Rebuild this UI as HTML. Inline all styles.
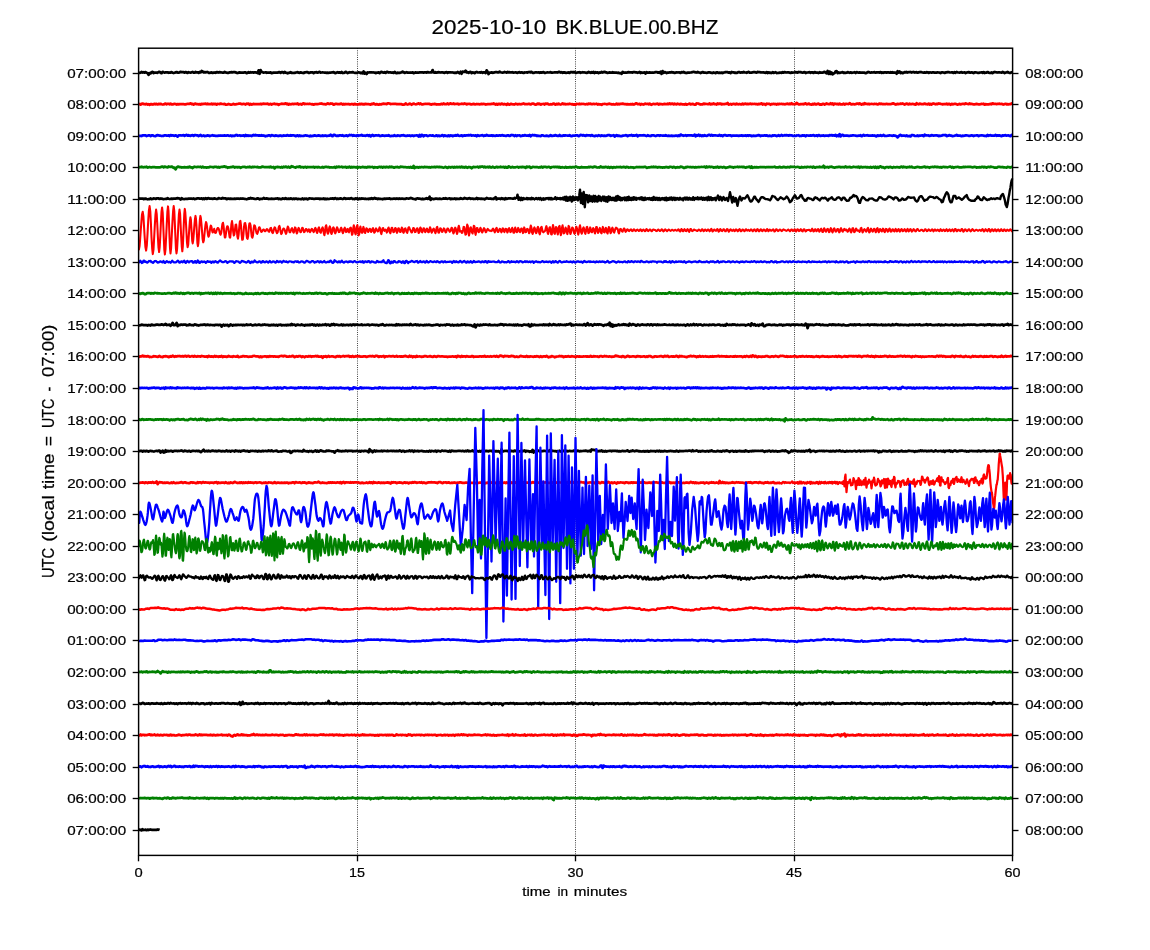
<!DOCTYPE html>
<html><head><meta charset="utf-8"><title>2025-10-10 BK.BLUE.00.BHZ</title>
<style>html,body{margin:0;padding:0;background:#fff;}body{width:1150px;height:950px;overflow:hidden;position:relative;font-family:"Liberation Sans",sans-serif;}</style>
</head><body>
<svg width="1150" height="950" viewBox="0 0 1150 950" style="position:absolute;left:0;top:0;display:block;will-change:transform">
<line x1="357.5" y1="48.2" x2="357.5" y2="855.4" stroke="#000" stroke-width="0.85" stroke-dasharray="0.85 1.35"/>
<line x1="575.5" y1="48.2" x2="575.5" y2="855.4" stroke="#000" stroke-width="0.85" stroke-dasharray="0.85 1.35"/>
<line x1="794.5" y1="48.2" x2="794.5" y2="855.4" stroke="#000" stroke-width="0.85" stroke-dasharray="0.85 1.35"/>
<clipPath id="c"><rect x="138.3" y="48.2" width="874.9" height="807.2"/></clipPath>
<g clip-path="url(#c)">
<path d="M138.6 72.7l1 .1 1-.2 1-.6 1 .5 1-.3 1 .4 1-.5 1 .7 1 .3 1 1.8 1-1.7 1 .2 1-1.2 1-.4 1 1.2 1-.4 1 .1 1-.1 1 .2 1-.8 1 0 1 .7 1 .5 1-1.3 1 .4 1 .3 1-.3 1 .1 1 0 1 .4 1-.3 1 .1 1-.5 1 .6 1 .3 1-.3 1-.3 1-.3 1 .5 1 0 1-.2 1-.6 1 .4 1-.1 1 .1 1 .4 1-.5 1 .3 1 .5 1-.7 1 .3 1 .2 1-.4 1-.3 1 .6 1 .1 1-.8 1 .5 1-.1 1 .6 1-.9 1 .4 1-1.4 1 .5 1 .9 1-.3 1 .3 1-.2 1-.2 1 .8 1 .1 1-.4 1-.1 1 .5 1-.3 1-.1 1 .3 1-.6 1 0 1 .3 1-.4 1 .4 1 0 1 .1 1 0 1-.6 1 .4 1 .2 1 .2 1 0 1-.4 1 0 1-.3 1 .2 1-.1 1-.1 1 .3 1 .4 1 .2 1-.4 1-.2 1 .2 1 .1 1-.1 1 0 1-.2 1 0 1 .8 1-.4 1-.6 1 .5 1-.5 1 .3 1-.2 1 .3 1-.3 1 .1 1 .2 1 .5 1-2.7 1 3.4 1-3.7 1 1.9 1 .3 1 .3 1-.1 1-.2 1 .5 1-.3 1 0 1 .2 1-.4 1 .9 1-.3 1-.4 1 0 1 0 1 .2 1-.1 1-.4 1 0 1 .6 1-.7 1 .1 1 .7 1-.9 1 .7 1 .1 1 .5 1-.4 1-.3 1-.4 1 .7 1 0 1 .1 1 0 1-.5 1-.1 1-.2 1 .4 1 .2 1-.5 1 .3 1 .2 1 .2 1-.7 1 .1 1-.2 1 0 1 .6 1 0 1-.4 1 0 1-.1 1 .8 1-.8 1 .1 1-.2 1 .5 1-.4 1-.4 1 .7 1-.1 1-.1 1 .1 1 .1 1 0 1 .3 1-.2 1 .1 1-.1 1 0 1-.2 1 0 1-.4 1 .8 1 .2 1-.6 1-.3 1 .4 1-.2 1 .4 1-.8 1 1 1-.1 1-.3 1-.8 1 .6 1 .6 1-.4 1-.4 1 .3 1 0 1-.4 1 .4 1 .3 1 0 1 0 1-.2 1-.3 1 .2 1 .6 1-.4 1 .5 1-1.7 1 2.1 1-.9 1 1.3 1-1.6 1 .1 1-.1 1-.1 1 .1 1 .1 1 0 1 .1 1 .5 1-.4 1 0 1-.4 1 .8 1-.8 1-.5 1 .7 1 .1 1-.4 1 .7 1-.9 1 0 1 .5 1-.1 1 0 1 .3 1-.2 1 .4 1-.9 1 .7 1 .5 1-.6 1 .2 1 .1 1-.4 1-.1 1-.7 1 .6 1 .6 1-.4 1-.3 1 .4 1 0 1 .1 1-.2 1 .2 1-.4 1 .8 1-.4 1-.3 1 .3 1-.2 1 .1 1-.2 1 0 1 0 1 0 1 .2 1-.3 1 0 1 .3 1-.5 1 .3 1 .1 1 0 1-.1 1-2.3 1 2.4 1 .2 1-.5 1 .5 1-.3 1-.2 1 .1 1 .2 1-.2 1 0 1 .4 1 .2 1-.6 1-.1 1 .7 1-.6 1 0 1 .1 1 .1 1 0 1 .1 1 .3 1-.2 1 .1 1-.8 1 .6 1 .6 1-1.4 1 1.9 1-2 1 .2 1-.1 1-1 1 1.6 1-.2 1 .6 1-.7 1-.2 1 1.2 1-.7 1 .1 1 .7 1-.9 1-.3 1 .4 1 .1 1-.1 1 .2 1-.5 1 .7 1-.4 1 0 1 .6 1-2.6 1 1.4 1 2.3 1-1.5 1 .1 1-.3 1 .4 1-.1 1-.4 1-.1 1 0 1 .2 1-.1 1-.7 1 .6 1 .3 1 .2 1-.2 1-.5 1 .3 1 .3 1-.6 1 .4 1-.2 1 .3 1 0 1-.3 1 .5 1-.2 1-.2 1 .3 1 .2 1-.5 1-.1 1 .5 1-.4 1 .3 1 .3 1-.5 1 .1 1-.1 1 .2 1-.5 1-.1 1 .4 1-.6 1 1.1 1 0 1-.4 1-.2 1 0 1 .2 1-.1 1 .4 1-.5 1 .4 1-.3 1-.3 1 .7 1 0 1-.3 1-.1 1 .1 1-.1 1-.2 1 .4 1 0 1-.1 1-.1 1-.1 1 0 1 .2 1-.5 1 0 1 .5 1-.3 1 .6 1-.4 1 0 1 .4 1 0 1-.3 1-.1 1 .5 1-.7 1-.1 1 .3 1-.3 1 .1 1 .5 1 .1 1-.3 1 0 1-.3 1 .6 1-.3 1-.3 1 .3 1 0 1 .2 1 .2 1-.3 1-.6 1 .4 1 .4 1-.7 1 .6 1-.8 1 1.1 1-.8 1 .5 1-.4 1 .8 1-.6 1 .2 1-.7 1 .5 1-.4 1-.3 1 .6 1 0 1 .5 1-.2 1-.3 1 .2 1 .1 1-.5 1 .4 1-.1 1 .2 1 0 1 .1 1-.1 1 .5 1-.1 1 .6 1-1.7 1 .4 1 .3 1-.2 1 .2 1-.3 1-.3 1 .2 1 0 1 .1 1 .2 1-.5 1 .1 1 .2 1 0 1 .4 1-.3 1-.5 1 1 1-.5 1 .3 1-.3 1-.2 1 1.2 1-1.4 1 .6 1-.1 1-.2 1 .3 1 0 1-.2 1 .1 1-.2 1-.3 1 0 1 .5 1-.2 1 .4 1-1.1 1 2.1 1-2.7 1 1.8 1-.8 1 .3 1 .6 1-.4 1 0 1-.2 1 .1 1-.4 1 .4 1-.1 1 .5 1-.3 1-.2 1 .1 1 0 1-.1 1 .5 1-.7 1 .2 1-.5 1 .5 1 .5 1 .1 1-.4 1-.1 1 .1 1-.1 1-.1 1-.4 1-.1 1 .2 1 .3 1 .1 1-.5 1 .4 1 .1 1 .5 1-.5 1-.4 1 .5 1-.1 1 .2 1 .1 1-.2 1-.2 1 0 1 .2 1 .2 1 .2 1-.5 1 .3 1 .3 1-.8 1 .1 1 .5 1-.2 1 .1 1-.2 1 .5 1-.6 1-.1 1-.3 1 0 1 .1 1 .4 1-.2 1 .7 1-1.1 1 .3 1 .1 1 .4 1-.2 1 .3 1-.3 1-.5 1 .1 1 .5 1-.4 1 .2 1-.5 1 .4 1 .1 1 .3 1-.6 1-.3 1 .7 1 0 1 0 1-.3 1-.2 1 0 1 .3 1 .2 1-.7 1 .3 1-.1 1 .2 1 .2 1 0 1-.1 1 .3 1 .1 1-.7 1 .9 1-.6 1 .4 1-.1 1 .3 1-.8 1 .7 1-.4 1-.3 1 .9 1-.1 1 0 1-.4 1 .1 1 .1 1-.6 1 .4 1-.5 1 .2 1 .2 1-.1 1 0 1 .2 1 .3 1-.5 1 .3 1-.2 1-.1 1-.2 1 .2 1 .3 1-.7 1 .1 1 0 1 .4 1 .2 1-.3 1-.3 1 .9 1-.4 1-.1 1-.2 1-.1 1 .6 1-.5 1 .1 1 .5 1-.8 1 .5 1-.1 1 .1 1 .4 1-.8 1 .4 1 0 1 .1 1-.6 1-.2 1 .8 1 .5 1-2.2 1 2.9 1-2.3 1 2.3 1-1.4 1 1.7 1-.6 1-.5 1-1.8 1-.1 1 1.9 1-.7 1 .5 1-.3 1-.1 1-.4 1 .7 1-.2 1 .2 1-.1 1-.6 1 .4 1 .3 1-.5 1 .5 1-.1 1-.2 1-.3 1 .9 1-1 1 .4 1 .1 1-.2 1 .2 1 0 1-.1 1 .1 1 0 1 .6 1-.3 1-.7 1-.2 1 .5 1 .2 1-.3 1 .1 1-.2 1-.1 1 .5 1-.3 1 0 1-.1 1 .3 1-.5 1 .8 1-.4 1 .3 1-.5 1 .1 1 .3 1-.4 1 .1 1 .3 1-.5 1 .4 1-.4 1 .5 1-.2 1 .1 1 1.1 1-2.5 1 1.3 1-1.1 1 1.6 1-.5 1 .7 1-.5 1-.6 1 .3 1-.4 1 .5 1-.3 1-.1 1-.1 1 .5 1-.3 1-.2 1 .5 1-.2 1-.2 1 .6 1-.3 1-.2 1-.2 1 .2 1 .3 1 .2 1-.3 1 .3 1-.5 1 .1 1 .6 1-.4 1 0 1 .1 1-.2 1 0 1 .3 1 0 1-.1 1-.3 1 .2 1 .1 1 .4 1-.6 1 0 1 .1 1 .4 1-.5 1 0 1-.3 1 .1 1 .2 1 .1 1-.1 1 0 1 .5 1-.7 1 .6 1-.8 1 .3 1 .2 1 .1 1-.3 1-.2 1 .6 1-.2 1-.2 1 .7 1-.5 1-.2 1-.2 1 .5 1 0 1-.3 1 .3 1 .4 1-.6 1-.1 1 .2 1 .3 1 .1 1-.3 1-.1 1-.2 1 .6 1-.8 1 .9 1-.3 1-.1 1-.5 1 .5 1 .2 1 .1 1-.5 1 .6 1-.6 1-.4 1 .2 1 .1 1 .2 1-.2 1 .1 1 .1 1 .1 1-.6 1 .4 1 .6 1-.5 1-.1 1-.4 1 .5 1 .4 1 0 1-.6 1-.2" fill="none" stroke="#000000" stroke-width="2.75" stroke-linejoin="round"/>
<path d="M138.6 103.9l1 .1 1 .7 1-.8 1-.3 1 .5 1 0 1 .2 1-.4 1 .6 1-.3 1 .6 1-.6 1-.1 1 .4 1-.2 1-.5 1 .5 1-.4 1 .5 1-.5 1 .3 1-.4 1 .4 1 .3 1-.1 1-.5 1-.3 1 .7 1-.5 1 0 1 .5 1-.6 1 .6 1 .1 1-.3 1-.3 1 .2 1 .5 1-.4 1 .3 1-.3 1 0 1 0 1 0 1 .1 1 .1 1 .1 1-.4 1-.2 1 .1 1-.1 1-.4 1 .7 1-.3 1 .8 1-.7 1-.3 1 .6 1-.1 1 .2 1-.2 1 .5 1-.8 1 .3 1-.2 1 0 1-.3 1 .6 1-.6 1 .6 1 0 1 0 1-.6 1 .7 1-.5 1 .4 1-.3 1 .8 1-.8 1 .1 1 .1 1-.5 1 .3 1 .1 1 .1 1-.2 1 .7 1 0 1-.2 1-.4 1 .3 1 .4 1-.1 1-.3 1-.4 1 .5 1-.1 1-.2 1-.1 1-.3 1-.1 1 .1 1 .4 1 0 1-.3 1 .2 1 .5 1-.8 1 .2 1-.2 1 1 1-.8 1 .6 1-.2 1-.4 1 .3 1-.1 1 .1 1-.1 1 .1 1 0 1-.4 1 .5 1-.5 1-.1 1 .2 1-.1 1 .1 1-.2 1 .6 1 0 1-.4 1 .6 1-.5 1-.2 1-.1 1 .5 1-.2 1 .1 1 .8 1-.6 1-.3 1-.3 1 .2 1-.1 1 .1 1-.6 1 .8 1-.4 1 1 1-.7 1 .3 1-.1 1-.4 1 .3 1-.2 1 0 1 .1 1-.5 1 1 1-.3 1-.2 1 .5 1-.7 1-.5 1 .8 1-.3 1 .2 1-.1 1 .1 1-.3 1 .3 1 .3 1-.1 1 .4 1-.4 1 0 1-.1 1 .1 1-.2 1-.3 1 0 1-.2 1 .5 1 .1 1 .1 1 .2 1-.5 1-.5 1 .4 1 .2 1-.5 1 .2 1 0 1 1 1-.3 1-.6 1 .1 1 .2 1 0 1 0 1-.4 1 0 1 .8 1-.5 1 .4 1-.4 1 .1 1 0 1-.1 1 .4 1-.1 1-.3 1 .1 1 .4 1-.7 1 .5 1 .1 1 .1 1 0 1-.7 1 .5 1-.4 1 .4 1-.2 1 .2 1-.5 1 .3 1 .1 1 0 1 .1 1 .3 1-.8 1 .3 1-.6 1 .7 1 .3 1-.4 1 .3 1 .3 1-.5 1 .1 1 0 1-.5 1-.1 1 .2 1-.1 1 .4 1-.8 1 0 1 .1 1 .6 1-.1 1 0 1-.1 1 0 1-.1 1 .3 1-.1 1 .1 1-.1 1 .1 1 0 1 .6 1 0 1-.3 1-.9 1 .7 1 .3 1-.3 1-.6 1 .4 1 .8 1-.8 1-.4 1 .4 1 .3 1-.2 1-.4 1-.3 1 .7 1-.6 1 .8 1 .1 1-.2 1-.2 1 0 1 0 1-.2 1 0 1 0 1 .7 1 .1 1-.5 1 .1 1-.3 1 .2 1 .4 1-.1 1 0 1-.1 1 0 1-.5 1 .5 1-.8 1 .6 1 .1 1 0 1-.7 1 .8 1-.6 1-.4 1 .7 1 0 1-.5 1 .6 1-.1 1 0 1-.3 1 .6 1-.2 1-.1 1-.3 1 .1 1 .2 1-.5 1 .3 1 .6 1-.4 1 0 1-.1 1 .4 1 0 1-.2 1-.2 1 .4 1 0 1-.3 1 .2 1 0 1 .1 1-.2 1-.2 1 .2 1-.2 1 .1 1 .5 1-.2 1-.2 1 .1 1 0 1 0 1-.3 1 0 1-.5 1 .7 1 .5 1-.8 1 .7 1-.7 1 .1 1 .5 1-.7 1 .2 1 .5 1-.4 1 .3 1 .5 1-1.1 1 .7 1 .2 1-.6 1 0 1 .3 1 0 1 .2 1-.8 1 .3 1 .4 1-.2 1-.2 1 .3 1-.1 1-.4 1-.3 1 .6 1-.1 1 .1 1 .1 1-.4 1 .1 1 .5 1-.5 1-.2 1 0 1 .5 1 .5 1-.3 1-.8 1 .5 1-.4 1 .9 1-.4 1-.2 1-.1 1 .6 1-.9 1 .3 1-.2 1 .7 1 .1 1-.3 1 .2 1-.3 1-.5 1 .5 1 .6 1-.8 1 .4 1-.7 1 .6 1 .3 1-.3 1-.7 1 .6 1-.3 1 .5 1-.1 1-.2 1 .1 1-.4 1 .3 1 .3 1-.1 1 .4 1-.3 1 .5 1-1 1 .2 1 .1 1-.4 1 .5 1-.3 1 .1 1 0 1 .2 1 .1 1-.3 1 .3 1-.7 1 .2 1-.1 1 .5 1-.1 1-.3 1 .3 1-.1 1-.3 1 .8 1-.4 1 .2 1 .1 1 .4 1-.7 1-.1 1-.1 1 .1 1 .3 1-.2 1-.2 1-.2 1 .3 1 .4 1-.1 1-.1 1 .3 1-.1 1-.7 1 .7 1-.5 1 .4 1-.5 1 .1 1-.3 1 .3 1 .3 1-.1 1 .3 1-.3 1 .2 1 0 1-.1 1 .2 1-.4 1 .5 1-.1 1-1 1 0 1 .8 1 0 1-.4 1 1 1-.8 1 .3 1 .2 1-.6 1-.2 1 .3 1-.2 1 .5 1-.7 1 .8 1 .4 1-.8 1-.1 1 .3 1-.1 1-.3 1-.2 1 1 1-.8 1 .3 1 .1 1 .1 1-.1 1-.4 1 .4 1 0 1-.5 1 .5 1-.7 1 .6 1-.4 1 0 1 .6 1-.7 1 .6 1 .1 1-.6 1 .3 1 .4 1-.5 1 .2 1 .2 1 0 1 .2 1-.6 1 .8 1-.4 1-.3 1-.4 1 .7 1-.2 1-.2 1 .4 1 .4 1 0 1-1.3 1 .1 1 .2 1 .4 1 .4 1-.1 1 0 1-.8 1 .5 1-.3 1 .2 1 .1 1 .1 1-.7 1 .9 1-.5 1 .3 1-.7 1 .6 1 0 1 .5 1-1.1 1 .5 1-.4 1 0 1 .8 1-.4 1 .1 1 0 1-.3 1 0 1-.9 1 1.8 1-.4 1-.3 1 .6 1-.5 1-.3 1 .4 1 .1 1-.6 1 .5 1 .1 1-.3 1 .3 1 .1 1-.8 1 .7 1-.4 1-.2 1 .4 1-.2 1 .2 1-.2 1-.2 1 .4 1-.2 1 .1 1-.2 1 .3 1-.1 1 .4 1-.5 1 .3 1-.4 1-.4 1 1.1 1-.6 1 .2 1 .7 1-1.1 1 .1 1 0 1 .1 1 .9 1-.8 1 .1 1-.3 1 .3 1-.1 1 .5 1-.6 1 .4 1-.4 1 .1 1-.2 1 .4 1-.2 1 .3 1-.2 1-.2 1-.2 1 .5 1-.6 1 .6 1-.9 1 .9 1-.1 1-.1 1 .2 1-1.2 1 .7 1 .7 1 0 1-.3 1 0 1-.1 1 .3 1-.6 1-.4 1 1.1 1-.2 1-.6 1 .5 1 .4 1 .2 1-.7 1 .4 1-.7 1 .6 1 .1 1-.6 1-.2 1 1.1 1-.3 1 .3 1-.8 1 0 1 .7 1-.6 1-.5 1 .5 1 .2 1 0 1-.9 1 .8 1-.7 1 1.3 1-1.1 1 .2 1 .3 1-.2 1 .5 1-.8 1 .7 1 0 1 0 1-.6 1 .9 1-.8 1 0 1 .2 1 .1 1-.9 1 .7 1 .5 1-.3 1 0 1 .2 1-.1 1-.6 1 0 1 .5 1-.8 1 .7 1 .6 1-.7 1 .4 1-1.2 1 .7 1 .1 1 .2 1-.3 1 .5 1-.3 1-.1 1 .1 1 .2 1-.4 1 .2 1-.1 1 .5 1-.3 1-.5 1 .4 1-.3 1 .5 1-.2 1 .2 1-.1 1-.3 1 .3 1 0 1 0 1 0 1-.2 1-.4 1 0 1 .5 1 .5 1-.2 1-.5 1 .3 1-.1 1-.4 1 .2 1-.3 1 .6 1 .5 1-.6 1-.4 1 .5 1 .2 1-.6 1 .5 1-.1 1-.2 1 .1 1 .5 1 .2 1-1.5 1 .8 1 .3 1-.7 1 .3 1 .3 1 0 1-.1 1-.5 1 .5 1 .1 1 .1 1-.7 1 .9 1-.6 1 .7 1-1 1-.1 1 .5 1 .3 1-.5 1 .3 1-.6 1 .1 1 .3 1 .1 1 .4 1-.2 1-.2 1 .1 1-.4 1 .7 1-.5 1 0 1 1 1-1.1 1 .5 1-.2 1-.3 1 .1 1 .3 1 .4 1-.3 1-.4 1 .5 1-.4 1-.2 1 0 1 .4 1-.8 1 .3 1 .3 1 .2 1-.7 1 .5 1-.1 1 .3 1 .1 1 0 1-.2 1-.2 1 .3 1 .1 1 .1 1-.2 1-.3 1 .1 1-.3 1 1 1-.6 1 .2 1 0 1 0 1-.2 1-.2 1 .4 1-1 1 .6 1-.1 1 0 1 .4 1-.4 1 .1 1-.2 1 .3 1-.1 1 .4 1 .2 1-.5 1-.2 1 .6 1-.2 1 .1 1-.1 1 0 1-.7 1 .6" fill="none" stroke="#ff0000" stroke-width="2.75" stroke-linejoin="round"/>
<path d="M138.6 135.8l1 .1 1-.1 1 .2 1-.6 1 0 1-.1 1 0 1 .7 1-.3 1-.4 1 .1 1 .6 1-.7 1 .1 1 .4 1 .2 1 0 1-.6 1-.2 1 .1 1 .4 1 0 1 .3 1-.1 1 0 1-.6 1 0 1 .3 1 .1 1-.3 1 .6 1-.9 1 .5 1-.3 1 .4 1 .1 1-.4 1 .4 1 .7 1-1.1 1 0 1-.1 1 .2 1-.2 1-.2 1 .7 1-.6 1-.3 1 .8 1-.5 1 .5 1 .2 1-.6 1-.1 1 .7 1-.8 1 .1 1 .1 1 0 1 .7 1-.5 1-.5 1 1 1-.2 1-.3 1 .6 1-.2 1-.1 1-.4 1 .2 1 .5 1-.3 1-.3 1-.3 1 .5 1 0 1 .2 1-.1 1 .1 1-.3 1 .1 1-.2 1 .2 1 0 1 0 1-.3 1 .3 1-.1 1-.3 1 .3 1 .2 1-.3 1 .6 1-.4 1 .2 1-.1 1-.7 1-.1 1 .7 1-.2 1-.1 1 .4 1-.1 1 0 1-.4 1 .7 1-1.1 1 1 1-.5 1 .4 1-.2 1 .1 1 .3 1-.6 1-.4 1 .4 1-.5 1 .5 1-.1 1 .4 1-.3 1 .3 1-.6 1 .6 1-.2 1 .4 1 .4 1-.5 1 .1 1-.6 1 .1 1 .7 1-1 1 .4 1 .2 1 .2 1-.5 1 .2 1 .2 1 .2 1-.4 1-.1 1 .5 1-.1 1-.5 1 .3 1-.1 1 0 1-.5 1 .6 1-.1 1-.4 1 .4 1-.3 1 .1 1 .1 1 .7 1-.3 1-.6 1 .7 1-.5 1 .5 1-.2 1 .2 1-.1 1-.4 1-.1 1 .3 1 0 1 .3 1 .3 1-.6 1 .5 1-.4 1 0 1-.5 1 .3 1 .2 1-.2 1-.2 1 .2 1 .4 1-.1 1-.5 1 .5 1-.3 1-.1 1 .5 1-.2 1-.1 1-.1 1-.9 1 1.2 1 .2 1-1.3 1 0 1 .7 1 .4 1-.2 1 .1 1-.4 1-.1 1 .4 1-.5 1 .8 1-.2 1-.2 1-.2 1 .7 1-.5 1-.6 1 .3 1-.3 1 .8 1-.6 1 .4 1 .1 1 .3 1-.9 1 .7 1-.3 1 0 1-.6 1 .7 1 .1 1 0 1 .1 1-.4 1-.3 1 .7 1-.6 1 1.2 1-.9 1-.5 1 .9 1-.3 1-.2 1 0 1 .1 1-.3 1 .7 1 .1 1-.4 1-.2 1 .3 1 .2 1-.2 1-.2 1 .2 1-.5 1 .7 1 .2 1-.2 1 0 1-.1 1-.6 1 .8 1 0 1-.7 1 .2 1 .4 1-.1 1-.5 1 0 1-.1 1 .5 1 .2 1 0 1-.4 1 .2 1-.2 1 .5 1-.4 1-.1 1 .5 1-.4 1-.1 1-.2 1 .3 1 .9 1-1.6 1 1.5 1-1.5 1 .2 1 1.2 1-1 1 .2 1 0 1 .5 1-.2 1-.3 1 0 1 .2 1-.3 1 .4 1 .2 1-.2 1-.5 1 .8 1-.5 1 .5 1-.3 1-.2 1-.5 1 1.1 1-.8 1 .4 1 .1 1 .2 1-.8 1 .8 1-.7 1 .1 1 .7 1-.6 1 0 1-.4 1 .4 1-.7 1 .8 1 .1 1-.2 1-.3 1 .9 1-.7 1-.1 1 .2 1-.3 1 0 1-.2 1 .2 1-.3 1 .7 1-.2 1 0 1 .2 1-.3 1 .8 1-1 1 .5 1 .1 1-.3 1-.2 1-.1 1 .8 1-.5 1 .2 1-.7 1 .4 1 .3 1-.1 1 0 1-.3 1 .6 1-.4 1 .3 1 0 1-.4 1 .2 1 0 1-.3 1 .3 1-.2 1-.2 1 .4 1 .1 1 .1 1 0 1-.5 1 .1 1 .5 1-.5 1-.4 1 .1 1 .3 1 .7 1-.9 1 .8 1-.6 1 .1 1-.2 1 .8 1-.1 1-.6 1 .3 1-.6 1 .3 1 .3 1-.2 1 .3 1-.9 1 1.4 1-.8 1-.5 1 .3 1-.2 1 .2 1 .6 1-.3 1 .4 1 0 1 .2 1-.8 1-.1 1 .4 1 .3 1 0 1-.4 1 .2 1 .4 1-.2 1-.9 1 .8 1 0 1-.2 1-.1 1-.5 1 .6 1 .2 1 0 1-.9 1 .9 1-.1 1 .1 1-.6 1 .4 1-.3 1 .1 1 .1 1 .1 1-.5 1 .7 1 .3 1-.6 1 .1 1-.1 1-.1 1 0 1 0 1 .6 1-.4 1-.8 1 .1 1 .5 1-.4 1 .6 1 .2 1-.8 1 .2 1 .1 1-.1 1 .5 1-.7 1 .5 1 .2 1 .4 1-.6 1 .1 1 .3 1-.8 1 .3 1 .5 1-.6 1 .3 1 .2 1-.2 1 .2 1-.3 1-.4 1 0 1 0 1 .6 1-.2 1-.1 1-.3 1 1.3 1-.7 1-.6 1 .7 1-.3 1 .3 1 .3 1-.1 1-.4 1-.1 1-.1 1-.3 1 .1 1 .9 1-.7 1-.2 1 .1 1-.5 1 .9 1-.4 1 .2 1-.2 1-.5 1 1.3 1-.6 1-.3 1 0 1 .2 1 0 1-.3 1 .1 1 .4 1 .3 1-.8 1 .4 1 .3 1 .1 1-.7 1 0 1 0 1 .4 1 .3 1-.4 1-.3 1 0 1 .5 1-.4 1 .1 1 .1 1-.1 1 .2 1-.5 1 .4 1 .2 1-.2 1 .2 1 0 1-.2 1 .4 1-.2 1 0 1-.2 1 0 1 .4 1-.6 1 .5 1-1.3 1 .5 1 .3 1 .4 1-.3 1-.3 1 .6 1-.4 1 0 1-.1 1 0 1 .1 1 .3 1 0 1-1.1 1 1.7 1-1.1 1 .4 1-.9 1 1.2 1-.7 1 .9 1-.7 1 .5 1-.7 1 .5 1 .2 1-.4 1-.6 1 0 1 .7 1-.6 1 .7 1-.3 1 0 1 0 1 .1 1 .2 1 0 1-.8 1 .9 1-.4 1 .7 1-.8 1-.1 1 0 1 .4 1 0 1-.3 1 0 1 0 1 .7 1-.4 1-.1 1 .1 1 0 1-.1 1 .2 1 .2 1-.3 1 0 1-.2 1 .4 1-.2 1 .1 1-.3 1 .5 1-.6 1 .5 1-.5 1 .2 1 .7 1-.4 1-.2 1 .2 1 .1 1-.3 1-.2 1-.3 1 .2 1 .8 1-.5 1 0 1 .1 1-.4 1 .3 1-.3 1 .6 1 .1 1-.4 1 .4 1 .2 1-.8 1 .2 1-.3 1 .3 1 .5 1-.3 1-.7 1 .7 1-.2 1-.6 1 .8 1-.3 1-.3 1 .2 1-.2 1 .1 1 .3 1-.4 1 .1 1 .1 1 .4 1 0 1 .1 1 0 1-.5 1 .1 1-.3 1 .8 1-.2 1 .1 1-.6 1 .3 1-.2 1 .9 1-1 1 .2 1 .2 1-.1 1-.2 1 .2 1-.2 1-.2 1 .7 1-.2 1-.3 1 .6 1-.9 1 .3 1 .5 1-.2 1-.1 1-.2 1 .5 1-.2 1-.1 1 .1 1 .2 1-.7 1 .1 1-.2 1 .5 1-.3 1 .4 1-.8 1 1.3 1-.8 1 .6 1-1.9 1 2.3 1-1.1 1-.5 1 1 1-.1 1-.1 1-.1 1 .2 1 .2 1-.1 1-.1 1 0 1-.4 1 .1 1 .1 1 .1 1 .2 1 .1 1-.2 1 0 1-.5 1 1 1-.5 1-.7 1 .6 1-.1 1 0 1-.3 1 .5 1-.1 1 .1 1 0 1-.3 1 .3 1-.2 1 .6 1 .2 1-1 1 .5 1-.1 1-.6 1 .7 1-.2 1-.6 1 .9 1 0 1 .1 1-.3 1 0 1-.3 1 .1 1 .2 1 .1 1-.4 1 .1 1 .4 1 .2 1 1.3 1-1 1-1.1 1-.4 1 .9 1-.1 1-.1 1 .1 1 .3 1-.5 1 .7 1-.1 1-.2 1 .5 1-1.2 1-.1 1 .2 1 .5 1 .2 1-.1 1-.4 1 .5 1-.4 1 .1 1-.2 1 0 1 .6 1-1.4 1 .7 1-.1 1 .2 1-.1 1 .5 1-.2 1-.6 1 .2 1 .4 1-.2 1 0 1-.2 1 .3 1 .5 1-.4 1 .1 1-.1 1-.6 1 .1 1-.1 1-.1 1 1.1 1-.4 1-.1 1-.5 1 .6 1-.1 1 .6 1-.2 1-.3 1-.2 1-.5 1 .7 1-.2 1 .1 1 .1 1 .5 1-.5 1 .1 1-.1 1-.3 1 0 1 .1 1 .3 1 .1 1-.2 1-.4 1 .3 1 .5 1-.5 1-.1 1-.1 1-.1 1 .7 1-.4 1-.1 1 0 1 0 1 .1 1 .2 1 .1 1 .2 1-1.1 1 .8 1-.5 1-.1 1 .5 1-.1 1 .1 1-.1 1-.7 1 1 1-.6 1 .4 1-.3 1 .3 1 .5 1-.8 1 .2 1-.3 1-.1 1 .5 1-.2 1 0 1 .4 1 .2 1-1.2 1 .9" fill="none" stroke="#0000ff" stroke-width="2.75" stroke-linejoin="round"/>
<path d="M138.6 167.5l1-.4 1 0 1-.4 1 .5 1 .1 1-.3 1 .1 1-.4 1 .9 1-.3 1-.3 1 .3 1 0 1-.1 1-.1 1 .1 1 .1 1 .1 1 0 1-.1 1 .1 1-.3 1-.4 1 0 1 .7 1-.8 1 .3 1 .3 1 .2 1-.9 1 .3 1 .1 1-.3 1 .5 1 .7 1-.2 1 1.8 1-1.8 1-.9 1 0 1 .4 1 0 1 .4 1-.2 1 .1 1-.3 1 .2 1 0 1-.2 1 .2 1-.6 1 .7 1-.1 1 .7 1-.9 1-.4 1 .3 1 .1 1-.2 1-.1 1 .2 1-.3 1 .8 1-.8 1 .6 1 .1 1-.1 1 .3 1-.3 1 .1 1-.5 1-.1 1 .2 1 .2 1 .2 1-.6 1 .1 1 0 1 .5 1-.4 1 .5 1-.5 1-.1 1 0 1-.3 1-.3 1 .7 1-.1 1 .9 1-.5 1 .1 1-.2 1-.1 1-.4 1 0 1 .9 1-.6 1 0 1 .4 1-.3 1 0 1 .7 1-.5 1-.3 1 0 1-.1 1 .4 1 0 1-.3 1 .1 1-.4 1 .4 1 .3 1-.6 1 .3 1-.2 1 .1 1 .2 1-.4 1 .7 1 0 1 0 1-.6 1-.3 1 .4 1 .2 1-.1 1 0 1 .1 1-.2 1 .3 1-.6 1 .6 1 0 1-.3 1 1.3 1-1.1 1 0 1-.4 1 .4 1 0 1 .3 1-.5 1 .5 1-.8 1 .5 1-.6 1 .5 1 .3 1-.7 1 .9 1-.2 1-1.2 1 .3 1 .5 1 .3 1 .3 1-.7 1 0 1 .1 1-.7 1 1 1-.2 1 0 1 .5 1-.5 1-.2 1 .6 1-.5 1 .2 1-.1 1 0 1 .1 1 0 1-.4 1 .7 1-.5 1 0 1 .4 1-.4 1 .3 1 .2 1-.1 1-.4 1 .5 1-.4 1-.2 1 0 1 .3 1-.2 1 .5 1-.1 1-.1 1 .2 1-.1 1-.5 1 1 1-1.2 1 .5 1-.6 1 .5 1-.1 1-.3 1 .6 1-.1 1 0 1-.4 1 .8 1-.5 1 .3 1-.7 1 .9 1-.6 1 .4 1-.4 1 .1 1 .2 1-.2 1 .7 1-.7 1 0 1 .4 1-.3 1-.3 1 .2 1 .3 1-.2 1 .3 1-.7 1 .4 1-.3 1 .2 1-.1 1-.1 1 1 1-.7 1 .2 1-.1 1 .4 1-.7 1-.2 1 .5 1-.4 1 .7 1-.7 1 .2 1 .3 1-.6 1 .3 1 .2 1-.6 1 .4 1-.4 1 .4 1 .5 1 0 1-.5 1 0 1-.2 1 .5 1 0 1-.7 1 .2 1-.1 1 .4 1 0 1 0 1 .1 1 0 1-.1 1 .3 1-.6 1 .7 1 .1 1-1.7 1 2.1 1-1 1 .3 1-.2 1 .4 1-.5 1 .2 1-.3 1 .2 1 .1 1-.4 1 .2 1-.1 1 .2 1 .2 1-.2 1 .3 1-.5 1 .1 1 0 1-.2 1 .4 1-.4 1 0 1 .3 1-.3 1 .2 1 0 1 .4 1 .1 1-.3 1-.4 1 .5 1 .5 1-.9 1 .1 1 .4 1-.4 1-.1 1 .5 1-.6 1 .5 1-.5 1 .4 1-.2 1-.2 1 .5 1-.7 1 .6 1-.2 1 .4 1-.7 1 .6 1 .4 1-.8 1 .1 1 .3 1 .8 1-1 1-.3 1 .3 1-.1 1-.1 1-.3 1 .9 1-.9 1 .4 1-.5 1-.1 1 .8 1-.6 1 .7 1-.2 1-.4 1 .6 1-.7 1 .7 1 .1 1-.8 1 .5 1 .4 1-.4 1-.4 1 .6 1-.2 1 0 1-.5 1 .5 1 0 1-.4 1 .7 1-.7 1 .9 1 0 1-1.3 1 .3 1 .8 1-.2 1-.4 1 .5 1-.1 1 0 1-.3 1-.1 1 .6 1-.4 1-.1 1 .3 1-.5 1 .3 1 0 1 .8 1-1.3 1 .5 1-.2 1-.3 1 1.2 1-.2 1-.6 1 0 1 .1 1 0 1-.1 1 .2 1 .3 1-.3 1 .2 1-.7 1 .9 1-.7 1-.1 1 .1 1 .4 1-.2 1-.3 1 .3 1 .7 1-.6 1-.2 1-.1 1 .3 1-.4 1 .3 1-.3 1 .6 1-.5 1 .7 1-.2 1-.2 1 .3 1 .1 1-.6 1 .7 1-.3 1 .1 1-.4 1 0 1 .4 1-.4 1 0 1 .3 1-.6 1-.1 1 .8 1-.1 1 .3 1-.3 1-.5 1 .5 1 0 1 0 1 0 1 0 1 0 1-.5 1 .4 1-.5 1 .2 1 .4 1-.5 1-.2 1 .2 1 .4 1 .2 1-.2 1 .2 1-1 1 .6 1 .3 1-.3 1 .2 1-.4 1 .2 1 .5 1-.7 1 .9 1-.6 1-.1 1 .7 1-.7 1 .3 1 .1 1-.5 1 .1 1 0 1 0 1-.2 1 .5 1-.2 1-.3 1 .2 1 .4 1-.6 1 .2 1 .5 1-.1 1-.3 1 .1 1 0 1 .6 1-.4 1-.2 1-.3 1 .1 1 .1 1-.2 1 .2 1 0 1-.1 1 0 1-.3 1 .1 1 .9 1-.2 1-.3 1 .1 1-.2 1-.3 1 .3 1-.5 1 .5 1-.3 1 .2 1 .4 1-.4 1 0 1 .3 1-.1 1 .3 1-.3 1 .2 1-.4 1-.1 1 .4 1 .1 1-.7 1 0 1 .2 1 .5 1-.6 1 .4 1 .5 1-.5 1-.1 1 .1 1 .1 1-.7 1 .2 1 .2 1 .7 1 0 1-.7 1 .2 1-.5 1 .2 1 .2 1-.2 1 .3 1-.2 1 .1 1 .3 1-.4 1 .2 1-.1 1-.2 1 .2 1-.2 1-.1 1 .1 1-.1 1-.2 1 .9 1-1.1 1 .8 1-.4 1-.2 1 .4 1-.3 1 .2 1 .6 1-.2 1-.2 1 .1 1-.7 1 1.1 1-.5 1-.2 1 .2 1 .3 1-.5 1 .2 1 .6 1-.2 1-.3 1-.2 1-.4 1 .2 1 .3 1 0 1 .4 1-.5 1 0 1-.1 1-.3 1 .5 1-.4 1 .2 1-.2 1 .4 1-.3 1 .4 1 .4 1-.6 1 .1 1-.3 1-.2 1 1 1-1.2 1 1.3 1-.3 1-.4 1 .2 1-.2 1 .2 1 0 1-.1 1-.2 1 .1 1 .1 1-.1 1 .1 1 .1 1-.1 1 0 1-.2 1 .1 1 .1 1 0 1 0 1-.2 1-.3 1 .7 1-.1 1 .1 1 0 1-.6 1 .6 1 0 1-.1 1-.5 1 .3 1 .3 1 0 1-.4 1 .2 1 .2 1-.7 1 .1 1 .1 1-.1 1 .2 1 .3 1-.3 1-.1 1 .1 1 .6 1 .1 1-.8 1 .6 1 0 1-.5 1 .1 1 .2 1-.5 1 .2 1 .2 1-.4 1 .2 1 .5 1-.9 1 1 1 0 1-.5 1 .1 1 0 1-.6 1 .6 1-.2 1 .1 1-1.3 1 1.9 1-.7 1 .3 1-.3 1 .5 1-.6 1 0 1-.2 1 .4 1 .3 1 .2 1-.3 1-.1 1 0 1-.3 1 0 1 .4 1-.2 1-.1 1 .1 1 .3 1-1 1 .9 1-.2 1 0 1-.3 1 .6 1-.1 1-.2 1-.4 1 .3 1 .2 1-.2 1 .3 1-.6 1 1 1-.9 1 .1 1 .5 1-.2 1 0 1-.2 1 .4 1-.2 1 .2 1 .1 1-.6 1 .7 1-.4 1-.3 1 .8 1-.9 1 1.1 1-1 1 .8 1-1 1-.4 1 1.1 1-.3 1 .5 1 .5 1-.8 1-.2 1 0 1 .5 1-.5 1-.2 1 .5 1 .4 1-.8 1 .3 1 0 1-.1 1 0 1 .2 1 .1 1-.7 1-.1 1 .7 1-.7 1 .5 1-.1 1 .4 1-.4 1 .1 1-.5 1 .5 1-.5 1 .7 1 .1 1 .2 1-.4 1-.2 1-.2 1 .1 1 .4 1 0 1 0 1-.3 1-.2 1-.3 1 .8 1-.3 1-.1 1 .3 1 .5 1-.8 1 0 1-.1 1 .3 1-.5 1 .1 1 .4 1-.3 1 .3 1 .1 1-.2 1 .5 1-.6 1-.2 1 .3 1-.1 1 .2 1 .1 1-.3 1-.3 1 0 1 .9 1-.6 1 .8 1-.5 1-.3 1 0 1-.2 1 .3 1 .3 1 0 1 0 1-.2 1-.3 1 .3 1-.3 1 .1 1-.1 1-.1 1 .1 1 0 1 .3 1 .1 1-.1 1-.4 1 .2 1 .6 1-.3 1 0 1-.1 1 .2 1-.5 1-.1 1 .6 1-.5 1 .3 1 .4 1-.6 1-.2 1 .4 1-.5 1 .2 1 .1 1 .3 1 .4 1-.2 1 .2 1-.6 1-.3 1 .1 1 .2 1 0 1-.1 1 .4 1-.1 1 .2 1 .1 1-.7 1 .1 1 .4 1 .1 1-.6 1 .1" fill="none" stroke="#008000" stroke-width="2.75" stroke-linejoin="round"/>
<path d="M138.6 199.3l1-.8 1 .2 1-.2 1 0 1 .6 1-.4 1-.1 1 .4 1 .3 1-.3 1 0 1-.5 1 .6 1-.1 1-.6 1 .1 1 .4 1-.5 1 0 1 0 1 .5 1-.4 1 .1 1 .3 1 .2 1-.1 1-.1 1 0 1-.7 1 .5 1 .3 1-.1 1-.3 1 .3 1-.2 1 0 1-.1 1-.2 1-.2 1 .1 1 .3 1 1 1-1.4 1 .7 1 .1 1 0 1-.2 1 0 1 0 1-.2 1 0 1 .1 1 0 1 .1 1-.3 1 .6 1-.2 1-.3 1-.3 1 0 1 .3 1 .1 1-.3 1 .6 1-.7 1 .8 1-.9 1 .7 1-.5 1-.2 1 .4 1 0 1 .1 1 .2 1-.3 1-.2 1 .3 1 .3 1-.1 1-.7 1 .2 1 .1 1 0 1-.5 1 .4 1-.1 1 0 1 .9 1-.5 1 0 1 .2 1-.3 1 .3 1 0 1-.1 1-.1 1 .2 1-.2 1-.1 1 .1 1 .1 1-.3 1 .2 1-.2 1 .2 1 .1 1 .2 1 .3 1-.3 1-.6 1 .2 1-.6 1 .5 1-.1 1 .3 1 .1 1 .2 1-.2 1-.5 1 .3 1 .7 1-.4 1 0 1-.1 1-.8 1 .7 1 0 1-.3 1 .2 1 .4 1-.2 1 0 1-.2 1 .2 1 .1 1-.1 1-.3 1 0 1-.2 1 .7 1-.3 1 .4 1 0 1-.7 1 .3 1 .2 1-.7 1 .6 1 0 1-.2 1 .3 1-.5 1 .4 1 .3 1-.5 1 .5 1-.5 1 .1 1 .4 1-.2 1 .1 1 .1 1 .1 1-.7 1 .8 1-.6 1 .2 1-.2 1 .6 1-.4 1-.6 1 .2 1 .1 1 .1 1 .1 1 0 1-.2 1 .1 1 0 1-.1 1 .5 1-.4 1 .1 1 .1 1-.4 1 .7 1-.5 1 .4 1-.4 1 .3 1-.2 1-.3 1 .1 1-.3 1 .6 1-.5 1-.2 1 .8 1-.4 1 .2 1-.1 1-.4 1 .4 1 .3 1-.4 1-.5 1 .8 1-.3 1 .1 1-.2 1 .3 1-.4 1-.2 1 .8 1-.2 1 .3 1-.7 1 .4 1-.4 1 .9 1-.8 1 .4 1-.5 1 .2 1 0 1 .2 1-.1 1 .3 1-.2 1 .3 1-.5 1 .2 1-.6 1 .7 1-.3 1-.6 1 .7 1-.2 1 .6 1-.5 1 .2 1 0 1 .2 1 .3 1-.5 1-.2 1 .3 1-.2 1 0 1 0 1-.3 1 .6 1-.1 1-.1 1-.1 1 0 1 .2 1-.4 1 .1 1 .3 1-.4 1 .3 1-.1 1 0 1 .1 1 .1 1-.1 1-.4 1 .1 1 .2 1-.2 1-.5 1 .2 1 .4 1 .3 1 .1 1 .4 1-.9 1-.1 1 .2 1 .1 1 .1 1 .4 1-.5 1 .4 1-.2 1-.3 1-.4 1 .6 1-.2 1-1.8 1 3.1 1-1.4 1 .3 1 .3 1-.2 1-.3 1 0 1 .3 1-.1 1-.2 1 .3 1 .1 1-.3 1-.3 1 .3 1-.5 1 .4 1 .2 1-.3 1-.2 1 .9 1-.6 1 .3 1-.1 1-.3 1 .7 1-.6 1 .3 1-.1 1 .1 1-.7 1 .5 1 .1 1-.2 1-.7 1 .5 1 .2 1 .2 1-.4 1-.2 1 .6 1-.1 1-.1 1 .4 1-.2 1 0 1-.8 1 1.1 1-.6 1 .1 1 .3 1-.3 1 .2 1 0 1 .6 1-.6 1-.9 1 .6 1 .1 1 .1 1-.2 1 .4 1-.1 1 .2 1-.9 1-.9 1 2.1 1-.7 1-.1 1 0 1 .6 1-1 1 .8 1-.2 1 .6 1-1.2 1 .7 1-.2 1-.3 1 .1 1 0 1 .1 1 .2 1-.1 1-.6 1 .4 .9 .5" fill="none" stroke="#000000" stroke-width="2.75" stroke-linejoin="round"/>
<path d="M516.5 198.9l1-4.3 1 5.2 1-2.3 1 2.7 1-2.4 1 2.2 1-2 .5 .3 .5 .8 .6-.3 .5-.2 .6 .5 .5-1.2 .6 1.2 .5 .1 .6-1 .5 .7 .6 .2 .5-.9 .6 1.1 .5-.1 .6-1.4 .5 1.3 .6-.6 .5-.2 .6 .4 .5 .7 .6-.5 .5-.1 .6-.8 .5 .7 .6 .5 .5-.6 .6-.6 .5 .6 .6 .8 .5-1.2 .6-.2 .5 1 .6 .9 .5-1 .6-.4 .5-.2 .6 1.4 .5-1.2 .6 .3 .5 .5 .6-1.1 .5-.1 .6 .4 .5-.4 .6-.1 .5 1.3 .6-.2 .5-1.2 .6 .3 .5 1.2 .6-1.4 .5 1.2 .6 .1 .5-.5 .6-.2 .5 .3 .6-.2 .5-1.5 .6 1.3 .5 .9 .6-1.5 .5 .1 .6 .9 .5 0 .6-.8 .5 .4 .6 .8 .5-1.2 .6 .6 .5 .5 .6-1.1 .5-.5 .6 2 .5-.1 .6-2.5 .5 1.5 .6 2 .5-3.9 .6 1.3 .5 3 .6-3 .5-.5 .6 2.8 .5-.1 .6-3.3 .5 .2 .6 3 .5 1.6 .6-2.9 .5-2.2 .6 2.4 .5 1.3 .6-2.6 .5-.4 .6 2.4 .5-.4 .6-2 .5 .4 .6 2.8 .5-.9 .8-3.5 .8-6.3 .9 13.3 .9-9.5 1 10.5 .9-12 1.1 15.2 1-12.2 .7 4.2 .5-4 .6 2.6 .5 4.6 .6-4.8 .5-2.2 .6 5.6 .5 0 .6-4.5 .5 0 .6 4 .5 1.2 .6-4.4 .5-1.5 .6 4.6 .5 1 .6-5.4 .5 2.1 .6 3.2 .5-4.1 .6 4.4 .5-3.6 .6-2 .5 4.5 .6-.7 .5-3.1 .6 1.9 .5 2.4 .6-2.6 .5-.5 .6-1.3 .5 2.8 .6 1.3 .5-4 .6 1.5 .5 3 .6-3.5 .5-.5 .6 4.5 .5-3.2 .6-2 .5 3.8 .6-.6 .5-2.7 .6 1.9 .5 1.2 .6-1.8 .5-.5 .6 2.2 .5 .1 .6-2.3 .5 .3 .6 2.5 .5-2 .6-2.2 .5 4.1 .6-1.4 .5-3.1 .6 3.5 .5 .2 .6-2.8 .5 2.1 .6 1.3 .5-2.4 .6 .6 .5 1.6 .6-2.1 .5 .8 .6-.7 .5-.6 .6 2.7 .5-2.5 .6 .6 .5 2 .6-3.1 .5 1.9 .6 1 .5-3.3 .6 1.6 .5 1.4 .6-1.8 .5 .3 .6 1.8 .5-2.4 .6 1 .5 1 .6-2.6 .5 1.7 .6 .6 .5-1.5 .6-.2 .5 2.2 .6-1.4 .5-.1 .6-.4 .5 .2 .6 1 .5-.4 .6-1.2 .5 1.5 .6 .3 .5-2.1 .6 1.6 .5 1.2 .6-2.2 .5 .1 .6 1.9 .5-2.3 .6 .8 .5 1.1 .6-.6 .5-.8 .6 0 .5 1.1 .6 .1 .5-1.3 .6 .6 .5 1.2 .6-1.5 .5-.3 .6 2 .5-1.6 .6-1.5 .5 2.8 .6-.9 .5-1 .6 2 .5-1 .6-1.1 .5 .4 .6 1.9 .5-.6 .6-1.5 .5 .3 .6 1.8 .5-1.1 .6-.7 .5 1.2 .6-.4 .5-1 .6 1.6 .5-.8 .6-.8 .5 2.1 .6-2.1 .5-.5 .6 2.9 .5-2.1 .6 .1 .5 1.4 .6-1.3 .5-.8 .6 1.8 .5-.2 .6-1.9 .5 1.5 .6 1.1 .5-2.1 .6 1.2 .5-1.4 .6 1.9 .5 .3 .6-2 .5 .2 .6 1.5 .5-.8 .6-.7 .5 .6 .6 1.1 .5-.8 .6-1.2 .5 .4 .6 1.4 .5-.3 .6-.6 .5-.3 .6 1.9 .5-1.9 .6-.7 .5-.1 .6 .1 .5 1.9 .6-.8 .5-1.3 .6 1.6 .5 .6 .6-1.3 .5-.7 .6 1.2 .5 .7 .6-1.3 .5 .2 .6 1.3 .5-.8 .6-1.8 .5 .6 .6 2.1 .5-1.2 .6-.8 .5 .2 .6 .9 .5 .2 .6-1.9 .5 1.2 .6 .8 .5-1.3 .6-.2 .5 1.3 .6-.3 .5-1.4 .6 1.2 .5 1.2 .6-1.5 .5-.5 .6 1.8 .5 .1 .6-1.7 .5 1.4 .6-1.1 .5-.7 .6 2.6 .5-1 .6-2.4 .5 1.7 .6 1.5 .5-2.1 .6-.7 .5 2 .6 .8 .5-1.8 .6-.1 .5 1.4 .6-.6 .5-.9 .6-.3 .5 2.6 1.3-2.3 1-2.5 1.2 4.5 1.3-3.2 1.5 3.7 1.5-3.5 1.5 3 1.5-2 1.5 3 1.2-5 .8-3.8 1.2 5.8 1 4.5 1-5.5 1.3 4.5 1.3-3.5 1.7 7.8 1.3-6.8 1.2-2.5 1.5 4 1.5-2.5 1 .4 .9 .1 1.2-1.6 1.3-1.6 .8 1.3 .9 2.1 .8 1.9 .9 1 .8-.2 .9-1.4 .8-1.5 .9-1.8 .8-.1 .8 2 .9 1.1 .9 .9 .9 1.3 .9-1.4 1-2 1-1.2 1 0 1 .2 1 .9 1.1 .6 1.5 .1 1.5 .4 1.5 .8 1.1-1.6 1.2-2.7 1.1 .4 1.1 .2 1.2 1.5 1.1 1.1 1.1 .9 1.1-1.1 1.6-1.7 1.5 .9 1.5 1.1 1.5-.8 1.6-1.9 1.4 1.7 .9 1.7 .9 2.2 .8-.5 .8-.8 .7-1.3 .6-1.4 .7-.8 .7-1.1 .7-1 .8 1.1 .9 2.2 .8-.1 .9-.3 .6-.3 .5-.9 .6-.4 .6-1.3 .6-.3 .7 .9 .8 2.3 .8 .7 .8 1.2 .7 .7 .7-.9 .7 .7 .6-1.8 .7-.6 .7-.2 .9 .5 .9 .2 1 .2 .9 .8 .9 .4 .9-.8 .8-1.7 .8-.3 .8 .7 .8 0 .7 1 .9 .6 1 .8 1.2-1.7 1.3-.9 1.4 .6 1.5-.7 1.4 1.3 1.4 1.6 1.3-1.9 1.4-.4 1.3-1 1.4 2.1 1.4 .4 1.3-.5 1.4-1.7 1.3-.3 1.4 .9 1.4 1.8 1.5-2.2 1.4 0 1.3 1.9 1.2 1.2 1.9-.4 1.5-2.9 .8 .2 .9-.7 .8-1.3 .9-.8 .8 1.3 .9-.4 .9 .3 .7 .9 .8 1.6 .7 2.8 .8 1.3 .7 .1 .7-2.5 .9-1.9 1.1-1.4 1.5 1 1.8 1.9 1.9 .4 1.6-1.8 1.5 0 1.2-.2 1.8 1.4 1.5 .7 1.8 0 1.9-3.2 2 .2 1.8 1.7 1.9 .4 1.9-.7 1.8-2.5 1.8 .7 1.7 .9 1.5 1.4 1.4-1.9 1.3-.1 1.3 1.1 1.3 2.1 1.7-.3 1.7-1.9 1.7 1.4 1.7-.3 1.2-1 1.2-1.6 1.1 .4 1.1 .4 1 0 1-.1 .9 0 .9-.2 .8 2.1 .9 1.2 1.1 .8 1.1-.9 1.1-3 1.3-1.4 1.3 .1 1.3 2.1 1.5 2.4 1.5-1 1.3-.3 1.4-2 1.5-.9 1.4 .3 1.2 .2 1.3 .9 1.1 0 1-1 1.1 .4 1.1 1 1.1 .8 1.2 .6 1.1 2.5 1-.5 1-3.5 1.1-2.4 1-2.3 .9-1.4 .9 1.1 .8 1.6 .8 4.5 .8 2 .8 1 .7-.2 .6-1.5 .6-2.1 .7-2.6 .8-.1 1 .1 1.2 2.7 1.2-.7 1.2-.6 1 .9 1.9 1.5 1.5-1.2 1.1-1.4 1.1-1.1 1.2-1 .8 2.4 1 1.5 .9 1 1 .1 .8 .6 1.3 .1 1.1-.1 1 .2 1-1.7 1-.6 1-2.1 .7 .1 .8 1.6 .8 .7 .8 1 .7 .1 .7 .1 .8-1.5 .8-1.3 .7 .5 .7 .7 .8 .5 .8 .9 .8 .2 .7-.5 .7-.3 .7 .2 .7-.8 .8-.5 1.2 .8 1.3-.5 1.3 .6 1.2-.6 1.2-.4 1.1 .5 1.1-.1 .7 .6 .6-2.7 .7-1 .7-1 .7-.5 .7 2.1 .7 2.1 .7 2.6 .7 4 .6 1.1 .5 1.3 .4-1.5 .4-1.7 .4-2.5 .5-3.6 .6-2.7 .6-4 .7-3.2 .6-4.1 .5-2.6 .6-1.8 .4 0 .3-1.2" fill="none" stroke="#000000" stroke-width="2.4" stroke-linejoin="round"/>
<path d="M138 249.5l.4 .2 .5-.1 .7-3.6 .5-6.1 .6-8.9 .7-9.4 .6-7.2 .7-2.7 .7 4.4 .6 9.9 .7 11.5 .7 9.5 .7 3.6 .7-5 .7-11.2 .7-13.2 .7-10.8 .7-4.3 .7 5.2 .6 11.8 .6 14 .7 11.8 .6 5.2 .7-4.4 .6-10.9 .7-13.2 .7-11.2 .6-4.8 .6 4.3 .6 10.6 .6 12.6 .6 10.6 .6 4.3 .6-4.8 .6-11.1 .6-13.2 .6-11 .6-4.4 .6 5.1 .5 11.7 .6 13.9 .5 11.5 .6 4.8 .6-5.1 .6-11.9 .7-14.1 .6-11.9 .6-5.1 .5 4.8 .5 11.7 .5 13.9 .5 11.7 .5 4.9 .6-4.9 .6-11.8 .7-14 .7-11.7 .6-4.9 .6 4.9 .5 11.6 .6 13.9 .5 11.8 .6 5.1 .6-4.3 .6-10.8 .6-13 .6-11 .6-4.7 .6 4.2 .5 10.4 .6 12.4 .6 10.4 .5 4.3 .5-4.4 .5-10.4 .5-12.4 .5-10.5 .5-4.7 .5 3.6 .6 9.2 .6 11.2 .5 9.7 .6 4.6 .6-2.5 .5-7.2 .6-9 .6-7.7 .5-3.5 .5 2.5 .4 6.5 .5 7.8 .4 6.6 .5 2.7 .5-3 .6-6.9 .6-8.2 .6-6.7 .5-2.7 .5 3.3 .5 7.6 .5 8.9 .4 7.4 .5 3.1 .5-3.1 .5-7.4 .5-8.9 .5-7.5 .5-3.4 .5 2.4 .6 6.3 .6 7.8 .5 6.7 .6 3.2 .6-1.6 .5-4.8 .6-6 .6-5.2 .5-2.6 .5 1.1 .5 3.5 .5 4.3 .5 3.9 .5 1.8 .5-.9 .5-2.6 .4-3.2 .5-2.9 .4-1.5 .4 .4 .4 1.6 .3 2 .4 1.9 .3 1 .6-.6 .6-1.7 .4-1.4 .4 2.7 .6 1.4 .6-.1 .6-1.5 .6-2 .6-1.2 .6-.1 .6 1 .6 2.2 .6 2.5 .6 1.1 .6-1.8 .6-4.5 .6-4.5 .6-1.3 .6 3.5 .6 6.4 .6 4.9 .6-.1 .6-4.3 .6-4.7 .6-2.2 .6 .2 .6 2.2 .6 4.2 .6 4.4 .6 .5 .6-5.6 .6-7.9 .6-3.1 .6 4 .6 6.7 .6 3.7 .6-1.2 .6-4.9 .6-4.7 .6-.1 .6 5.4 .6 6.6 .6 2.1 .6-3.8 .6-7 .6-6 .6-1 .6 4.5 .6 8.7 .6 5.7 .6-.2 .6-4.7 .6-8 .6-3.7 .6-.1 .6 2.6 .6 7.8 .6 4.7 .6 .7 .6-2.9 .6-8.5 .6-4.1 .6-.2 .6 2.2 .6 6.7 .6 4.7 .6 .9 .6-2.3 .6-6.4 .6-3.7 .6 .3 .6 2 .6 3.2 .6 2.4 .6 .7 .6-1.4 .6-2.8 .6-2.2 .6-.2 .6 1.6 .6 2 .6 1 .6-.5 .6-1.1 .6-.8 .6 .1 .6 1 .6 .7 .6-.3 .6-1.1 .6-.8 .6 .2 .6 1 .6 1.3 .6 .2 .6-1.6 .6-2.1 .6-.3 .6 2.1 .6 2.6 .6 .6 .6-1.5 .6-2.5 .6-1.7 .6 .3 .6 2.1 .6 2.3 .6 1.1 .6-.8 .6-2.5 .6-2.9 .6-1.1 .6 2 .6 3.8 .6 2.4 .6-.7 .6-2.4 .6-1.8 .6-.7 .6 .3 .6 1.4 .6 2.4 .6 1.3 .6-1.6 .6-3.6 .6-2.2 .6 1 .6 2.7 .6 2 .6 .1 .6-1.5 .6-2 .6-.7 .6 1.5 .6 2.5 .6 .5 .6-2.5 .6-2.7 .6 .6 .6 3.3 .6 2.2 .6-1.3 .6-2.9 .6-1.4 .6 .9 .6 1.9 .6 1.5 .6-.2 .6-2 .6-2.2 .6 .1 .6 2.4 .6 1.9 .6-.3 .6-1.6 .6-1.2 .6-.1 .6 1.3 .6 1.3 .6-.9 .6-1.4 .6 1 .6 1.9 .6-.8 .6-1.8 .6-.8 .6 .6 .6 1.6 .6 1.1 .6-.9 .6-2.2 .6-1.2 .6 1.4 .6 2.7 .6 1.1 .6-1.8 .6-2.9 .6-1 .6 2.2 .6 2.8 .6 .5 .6-2 .6-2.4 .6-1.1 .6 2 .6 4 .6 2 .6-3.2 .6-5.4 .6-1.5 .6 3.1 .6 4.4 .6 1.1 .6-1.9 .6-4 .6-1.5 .6 1.7 .6 4.7 .6 1.2 .6-1.8 .6-3.9 .6-1 .6 1.2 .6 3.4 .6 1.5 .6-1.1 .6-3.2 .6-1.8 .6 1 .6 2.3 .6 1.5 .6-.1 .6-1.5 .6-2 .6-.8 .6 1.5 .6 2.8 .6 1.2 .6-1.7 .6-2.8 .6-1 .6 1.8 .6 2.6 .6-.2 .6-2.7 .6-.3 .6 2.5 .6 .9 .6-1.8 .6-2.6 .6-.4 .6 3.4 .6 3.9 .6-.8 .6-5.6 .6-3.1 .6 2.3 .6 5 .6 1.8 .6-2.5 .6-5.4 .6-1.4 .6 4.8 .6 5.5 .6-1.2 .6-5.5 .6-2.2 .6 2.7 .6 3.3 .6 .3 .6-3.3 .6-2.6 .6 1.8 .6 3.8 .6 .5 .6-2.7 .6-2.1 .6 .6 .6 2.1 .6 1.1 .6-1.1 .6-1.9 .6-.2 .6 1.7 .6 1.5 .6-.8 .6-2.4 .6-.8 .6 2.2 .6 2.5 .6-.5 .6-2.6 .6-1.2 .6 1 .6 1.4 .6 .7 .6-.5 .6-2 .6-1.6 .6 1.5 .6 3.8 .6 1.4 .6-2.7 .6-3.2 .6-.1 .6 2 .6 .8 .6-.8 .6-.6 .6 1.3 .6 1.8 .6-1.1 .6-2.7 .6-1.3 .6 1.7 .6 3 .6 1.1 .6-2.3 .6-3 .6-.3 .6 2.3 .6 2.2 .6-.1 .6-2.2 .6-1.9 .6 .3 .6 3.2 .6 1.4 .6-1.5 .6-2.9 .6-.2 .6 1.8 .6 1.9 .6 0 .6-2.5 .6-1.9 .6 .8 .6 3.6 .6 .8 .6-1.6 .6-2.6 .6-.3 .6 1.5 .6 2.4 .6 .7 .6-2.2 .6-2.9 .6-.6 .6 1.3 .6 1.2 .6 1.3 .6 1.4 .6 0 .6-2 .6-2.3 .6 0 .6 2 .6 2 .6-.1 .6-1.9 .6-1.7 .6-.1 .6 2.5 .6 2.2 .6-.4 .6-3.6 .6-1.5 .6 1.1 .6 3 .6 .8 .6-1.4 .6-2.5 .6-.3 .6 2.2 .6 1.9 .6-.9 .6-2.2 .6-.7 .6 1.6 .6 2.1 .6 0 .6-2.7 .6-2.3 .6 1.2 .6 3.1 .6 1.2 .6-1.5 .6-1.9 .6-.7 .6 .8 .6 2.3 .6 1.5 .6-1.8 .6-3.6 .6-1 .6 2.7 .6 3.1 .6 .2 .6-2.3 .6-2.2 .6 .1 .6 2 .6 1.6 .6-.3 .6-1.8 .6-1.5 .6 .4 .6 2 .6 1.7 .6-.3 .6-2 .6-1.6 .6-.1 .6 1.1 .6 1.4 .6 .8 .6-.5 .6-1.9 .6-1.7 .6 .6 .6 3.1 .6 2.1 .6-1.3 .6-3 .6-1.6 .6 1.1 .6 3 .6 2.2 .6-1.5 .6-4.4 .6-2.3 .6 2.4 .6 3.5 .6-.1 .6-.4 .6 1.8 .6-.2 .6-2.7 .6-3.1 .6 .1 .6 3.9 .6 3.8 .6-.4 .6-5.7 .6-4 .6 1.3 .6 7.1 .6 2.6 .6-2.7 .6-5 .6-.6 .6 2.1 .6 3.1 .6 1 .6-3.1 .6-4.7 .6 .5 .6 5.8 .6 2.9 .6-3.1 .6-3.9 .6 0 .6 2.5 .6 1.9 .6-.6 .6-2.4 .6-1.5 .6 1.2 .6 2.4 .6 1.1 .6-1.1 .6-2.1 .6-1.2 .6 .8 .6 2 .6 1.4 .6-.6 .6-1.7 .6-1.1 .6 .4 .6 .9 .6 .5 .6-.1 .6 .1 .6 .4 .6-.2 .6-1.6 .6-.8 .6 .9 .6 1.9 .6 1 .6-1.2 .6-2.4 .6-.8 .6 1.8 .6 2.2 .6 0 .6-1.6 .6-1.5 .6 .2 .6 1.9 .6 1.5 .6-1.4 .6-2.6 .6 .1 .6 2.5 .6 1.1 .6-1.6 .6-1.8 .6 .2 .6 2.1 .6 1.5 .6-1.4 .6-2.5 .6-.4 .6 2.1 .6 1.8 .6-.4 .6-2.3 .6-1.6 .6 1.6 .6 3.1 .6 .3 .6-3.2 .6-2 .6 1.7 .6 2.8 .6 .2 .6-2.5 .6-1.9 .6 1.2 .6 2.4 .6 .7 .6-1.7 .6-2 .6 0 .6 2.7 .6 1.9 .6-2.6 .6-3.1 .6 1.6 .6 3.3 .6-.2 .6-2.1 .6-1.2 .6 .3 .6 1.9 .6 2.2 .6-.6 .6-4.2 .6-2.9 .6 1.9 .6 4.9 .6 1.7 .6-1.7 .6-3.7 .6-1.2 .6 1.2 .6 3.4 .6 1.2 .6-1.3 .6-3.9 .6-1.2 .6 1.7 .6 4.6 .6 1.3 .6-2.7 .6-4.2 .6-.7 .6 2.6 .6 2.4 .6 .6 .6-.8 .6-.3 .6-.5 .6-2.9 .6-1.8 .6 2.4 .6 4.3 .6 1.1 .6-2.7 .6-3.4 .6-.6 .6 2.9 .6 4.2 .6 .2 .6-5.8 .6-3.7 .6 2.5 .6 5.7 .6 .8 .6-3.4 .6-3.6 .6 .5 .6 4.4 .6 2.6 .6-2.8 .6-5.2 .6-.6 .6 5 .6 4.3 .6-1.8 .6-5.8 .6-2.3 .6 3.9 .6 4.2 .6-.4 .6-3.3 .6-2.1 .6 1.2 .6 3.6 .6 1.7 .6-3.5 .6-4.7 .6 .7 .6 4.8 .6 2.6 .6-1.5 .6-3.1 .6-1.9 .6 .3 .6 2.3 .6 2.8 .6 .9 .6-2.2 .6-3.4 .6-1.5 .6 1.8 .6 3.8 .6 2.3 .6-2.1 .6-5 .6-2.2 .6 2.8 .6 4.5 .6 1.1 .6-2.2 .6-3.1 .6-1.1 .6 1.8 .6 3.6 .6 1.2 .6-2.7 .6-3.8 .6-.5 .6 3.1 .6 3.1 .6-.4 .6-3.3 .6-2 .6 1.7 .6 2.9 .6 .3 .6-2.3 .6-1.9 .6 .7 .6 3 .6 1.7 .6-2.5 .6-4 .6 0 .6 3.7 .6 2.3 .6-1 .6-2.9 .6-1.2 .6 1.4 .6 3.4 .6 .6 .6-3.5 .6-2.9 .6 1.8 .6 3.4 .6 .4 .6-2.6 .6-2.1 .6 1 .6 3.6 .6 1.1 .6-3 .6-3.4 .6 .3 .6 3.8 .6 2 .6-1.2 .6-3.2 .6-1.2 .6 1.6 .6 2.6 .6 .8 .6-1.7 .6-2.3 .6-.9 .6 1.1 .6-.5 .6 .9 .6 3.3 .6 .9 .6-2.3 .6-2.1 .6-.1 .6 1.1 .6 1.3 .6 .4 .6-1.4 .6-1.7 .6 0 .6 2 .6 1.3 .6-.6 .6-1.6 .6-.5 .6 .6 .6 1 .6 .3 .6-.7 .6-.9 .6-.1 .6 1 .6 .8 .6-.3 .6-1.1 .6-.6 .6 .5 .6 1.2 .6 .2 .6-.7 .6-.7 .6-.1 .6 .7 .6 .7 .6-.2 .6-1.1 .6-.4 .6 1 .6 .8 .6-.5 .6-.9 .6-.1 .6 .7 .6 .9 .6-.2 .6-1.3 .6-.7 .6 .8 .6 1.1 .6 .2 .6-.7 .6-.8 .6-.1 .6 .7 .6 .9 .6 0 .6-.9 .6-.7 .6 0 .6 .4 .6 0 .6 .4 .6 .7 .6 .1 .6-.8 .6-.8 .6 0 .6 .8 .6 .7 .6 0 .6-.9 .6-.8 .6 .1 .6 1.2 .6 .8 .6-.4 .6-1.2 .6-.4 .6 .4 .6 .9 .6 .4 .6-.5 .6-.8 .6-.3 .6 .5 .6 .6 .6 .3 .6-.4 .6-.7 .6-.1 .6 .5 .6 .5 .6-.2 .6-.5 .6-.2 .6 .5 .6 .4 .6-.1 .6-.7 .6-.5 .6 .5 .6 1.3 .6 .3 .6-1.3 .6-1.2 .6 .5 .6 1.5 .6 .3 .6-1.2 .6-.9 .6 .6 .6 1.2 .6 .1 .6-1 .6-.9 .6 .4 .6 1.5 .6 .8 .6-1.2 .6-1.8 .6 0 .6 1.4 .6 .9 .6-.3 .6-.8 .6-.6 .6 .2 .6 .6 .6 0 .6 .1 .6 .5 .6 .1 .6-.9 .6-.5 .6 .2 .6 .7 .6 .6 .6-.4 .6-1.2 .6-.3 .6 1 .6 1 .6-.4 .6-1.1 .6-.2 .6 .9 .6 .6 .6-.5 .6-.9 .6-.1 .6 1 .6 .8 .6-.5 .6-1.5 .6-.4 .6 1.3 .6 1.3 .6-.5 .6-1.2 .6-.3 .6 .6 .6 .7 .6 0 .6-1.1 .6-.7 .6 1.1 .6 1.6 .6-.3 .6-1.7 .6-.7 .6 .8 .6 1.1 .6 .3 .6-.8 .6-1.1 .6-.1 .6 1 .6 1.1 .6 0 .6-1.2 .6-1 .6 .1 .6 1.4 .6 1 .6-.5 .6-1.3 .6-.5 .6 .6 .6 .8 .6 .2 .6-.8 .6-.4 .6 .9 .6 .5 .6-.9 .6-.9 .6 .3 .6 1.1 .6 .6 .6-.6 .6-1.2 .6-.4 .6 .9 .6 1.2 .6 0 .6-1 .6-.7 .6 .2 .6 .9 .6 .6 .6-.5 .6-1.2 .6-.2 .6 1.1 .6 .3 .6-.8 .6-.1 .6 .9 .6 .3 .6-.8 .6-.9 .6 .3 .6 1.2 .6 .5 .6-.8 .6-1 .6-.1 .6 1.1 .6 .8 .6-.3 .6-1.6 .6-.3 .6 .9 .6 1.2 .6 0 .6-1.2 .6-.7 .6 .2 .6 1.4 .6 .3 .6-.6 .6-1.1 .6 0 .6 .8 .6 .9 .6-.2 .6-1.3 .6-.7 .6 1.2 .6 1.1 .6-.7 .6-1 .6 .2 .6 .7 .6 .3 .6-.4 .6-.8 .6-.3 .6 1 .6 1.2 .6-.2 .6-1.3 .6-.8 .6 .3 .6 1 .6 .6 .6-.3 .6-.8 .6-.5 .6 .2 .6 .8 .6 .6 .6-.2 .6-.9 .6-.7 .6 .3 .6 .4 .6 .2 .6 .4 .6 .3 .6-.3 .6-.6 .6-.5 .6 .3 .6 1 .6 .6 .6-.8 .6-1.2 .6 0 .6 .9 .6 .7 .6-.3 .6-1 .6-.4 .6 1.1 .6 1.1 .6-.7 .6-1.4 .6-.2 .6 1.1 .6 .9 .6-.3 .6-1.1 .6-.6 .6 .6 .6 1.3 .6 .3 .6-1 .6-1.2 .6 0 .6 1.2 .6 1 .6-.3 .6-1 .6-.1 .6 .1 .6-.3 .6 0 .6 .6 .6 .8 .6-.2 .6-1.5 .6-.8 .6 1.1 .6 1.7 .6-.2 .6-1.4 .6-.7 .6 1 .6 1.1 .6-.5 .6-1.5 .6-.2 .6 1.5 .6 1 .6-.7 .6-1.6 .6-.6 .6 1.4 .6 1.9 .6-.1 .6-2.2 .6-1.5 .6 1 .6 1.9 .6 .6 .6-1.1 .6-1.5 .6-.3 .6 1.6 .6 1.8 .6-.4 .6-2.3 .6-1.4 .6 1.1 .6 2.3 .6 .9 .6-1.5 .6-2.2 .6-.3 .6 1.6 .6 1.6 .6-.1 .6-1.4 .6-1.2 .6 0 .6 2 .6 1.5 .6-.6 .6-2.7 .6-.9 .6 1.3 .6 1.7 .6 .4 .6-1.1 .6-1.3 .6-.3 .6 1.3 .6 .2 .6-.8 .6 1 .6 1.2 .6-.6 .6-1.6 .6-1.1 .6 .9 .6 2.2 .6 .9 .6-1.7 .6-2.4 .6-.3 .6 2.1 .6 2 .6-.3 .6-2 .6-1.4 .6 .6 .6 1.6 .6 .1 .6-.4 .6 .6 .6 .9 .6-1.4 .6-2.4 .6-.2 .6 2.6 .6 2 .6-.8 .6-1.9 .6-.7 .6 .6 .6 1.1 .6 .9 .6-.8 .6-2.3 .6-.7 .6 2.2 .6 2.3 .6-.5 .6-2.2 .6-1.1 .6 .9 .6 1.7 .6 .5 .6-1.3 .6-1.6 .6 .2 .6 1.9 .6 1.4 .6-1.3 .6-2.4 .6-.4 .6 2.4 .6 1.7 .6-1.4 .6-1.9 .6 .3 .6 1.6 .6 .6 .6-1.3 .6-1.6 .6 .6 .6 2.2 .6 .8 .6-1.7 .6-1.6 .6 .1 .6 1.6 .6 1 .6-.3 .6-2.2 .6-.6 .6 1.3 .6 1.8 .6-.1 .6-1.5 .6-.8 .6 .4 .6 1.4 .6 .5 .6-1.3 .6-1.3 .6 .8 .6 1.7 .6-.2 .6-1.6 .6-.6 .6 1.3 .6 1.3 .6-.5 .6-1.6 .6-.5 .6 1.1 .6 1.1 .6-.1 .6-1.2 .6-.8 .6 .7 .6 1.6 .6 0 .6-1.8 .6-.7 .6 1.4 .6 1.1 .6-.6 .6-1.4 .6-.4 .6 1.2 .6 1.4 .6-.2 .6-1.4 .6-.9 .6 .4 .6 1 .6 .9 .6-.2 .6-1.1 .6-1 .6 0 .6 .9 .6 .8 .6 .2 .6-.4 .6-.5 .6-.4 .6 0 .6 .7 .6 .8 .6 0 .6-1 .6-1 .6 .1 .6 1 .6 .9 .6-.1 .6-1 .6-.7 .6 .3 .6 .8 .6 .5 .6-.4 .6-.9 .6-.4 .6 1 .6 1 .6-.5 .6-1.3 .6 .1 .6 1 .6 .2 .6-.6 .6-.6 .6 .3 .6 1 .6 .3 .6-1.2 .6-.8 .6 .7 .6 1 .6 0 .6-.9 .6-.5 .6 .5 .6 1.1 .6-.1 .6-1.2 .6-.6 .6 .9 .6 1.1 .6-.3 .6-1.1 .6-.4 .6 .8 .6 .9 .6-.4 .6-1 .6-.3 .6 1.1 .6 .9 .6-.7 .6-1.6 .6-.1 .6 1.5 .6 .8 .6-.4 .6-1.1 .6-.1 .6 .4 .6 .8 .6 .2 .6-.9 .6-1.2 .6 0 .6 1.7 .6 .9 .6-.5 .6-1.3 .6-.5 .6 .4 .6 1 .6 .5 .6-.4 .6-1 .6-.6 .6 .4 .6 1.1 .6 .7 .6-.4 .6-1.1 .6-.8 .6 .4 .6 1 .6 .6 .6-.2 .6-.7 .6-.5 .6 .1 .6 .4 .6 .5 .6 0 .6-.6 .6-.3 .6 .4 .6 .7 .6-.2 .6-1.1 .6-.5 .6 1 .6 1.3 .6-.1 .6-1.3 .6-.8 .6 .5 .6 1.1 .6 .5 .6-.8 .6-1.4 .6-.1 .6 1.6 .6 1 .6-.8 .6-1.4 .6-.1 .6 1.1 .6 .8 .6-.5 .6-1.3 .6-.1 .6 1.2 .6 .8 .6-.6 .6-1.1 .6-.2 .6 .9 .6 1 .6-.2 .6-1.4 .6-.6 .6 .8 .6 1.1 .6 .1 .6-.9 .6-.8 .6 .3 .6 1.1 .6 .3 .6-.8 .6-.7 .6 .3 .6 .8 .6 .2 .6-.6 .6-1 .6 .1 .6 1.2 .6 .8 .6-.6" fill="none" stroke="#ff0000" stroke-width="2.05" stroke-linejoin="round"/>
<path d="M138.6 261.5l.8 .8 .8-1.5 .8 .8 .8 1.4 .8-.3 .8-1.8 .8-.3 .8 1.2 .8-.1 .8 .7 .8 .1 .8-.6 .8-.9 .8 .2 .8-.3 .8 1.3 .8 0 .8 .6 .8-.7 .8-.9 .8-.2 .8 .2 .8 .8 .8 .6 .8-.4 .8 0 .8-.9 .8 .3 .8 .6 .8 .1 .8-1.3 .8 1.1 .8 .8 .8-.8 .8-.9 .8 .3 .8 .8 .8-.3 .8 0 .8 .8 .8-.9 .8-1.1 .8 .7 .8 .8 .8 .1 .8-.1 .8-.1 .8-.9 .8-.6 .8 .7 .8 1.2 .8-.2 .8-.8 .8-.3 .8 1 .8-.6 .8-1.1 .8 1.5 .8 .8 .8-1.3 .8-.6 .8 .6 .8 .8 .8-1 .8 0 .8-.2 .8 0 .8 1.5 .8 0 .8-1.4 .8-.2 .8 1.7 .8-.5 .8-1.8 .8 .8 .8 1.6 .8-.3 .8-1 .8-.3 .8 .9 .8-.2 .8-.5 .8 .3 .8 1.1 .8-.8 .8-1 .8 .5 .8 .3 .8-.3 .8 0 .8 1.3 .8-1 .8-.4 .8 .9 .8-.5 .8-.7 .8 .5 .8 .7 .8 .3 .8-.9 .8-.8 .8-.5 .8 .7 .8 .5 .8 .5 .8-.1 .8-.3 .8-.4 .8-.2 .8 .5 .8 1.2 .8-.7 .8-.4 .8-.5 .8 .1 .8 0 .8 .2 .8-.2 .8 1 .8 .5 .8-1 .8-.7 .8 .1 .8 .2 .8 .2 .8 .9 .8 .2 .8-.8 .8-1 .8 .1 .8 .5 .8 .1 .8 .3 .8 .4 .8 .1 .8-.7 .8-.8 .8 .3 .8 1.3 .8 .4 .8-1.4 .8 .1 .8 .8 .8-.7 .8-1.3 .8 1 .8 .3 .8 .6 .8 0 .8-.7 .8-.4 .8 .2 .8 1.2 .8-.2 .8-1.4 .8 .3 .8 .8 .8 .1 .8-.6 .8-.4 .8 .8 .8 .5 .8-.8 .8-.8 .8 .9 .8 .5 .8-.5 .8-.6 .8 .2 .8 .5 .8 .7 .8-.4 .8-1.4 .8 .5 .8 .8 .8-.4 .8-.5 .8 .3 .8 1 .8-.7 .8-1 .8 .4 .8 .3 .8 .2 .8-.4 .8 1 .8-.1 .8-.8 .8-.2 .8 .2 .8 .2 .8 .4 .8-.1 .8 .4 .8-.9 .8-.2 .8 .1 .8 .5 .8-.6 .8 1 .8 .1 .8-.3 .8-.6 .8-.2 .8 .2 .8 .6 .8 .6 .8-.3 .8-.9 .8-.7 .8 .4 .8 .3 .8 .4 .8 .5 .8-.1 .8-.9 .8-.2 .8-.1 .8 .7 .8 .8 .8-.7 .8 .1 .8-.5 .8-.3 .8 .4 .8 .9 .8-1.2 .8 .1 .8 .9 .8 0 .8-.6 .8-.7 .8 .9 .8 .5 .8 0 .8-.6 .8-.1 .8 .4 .8-.6 .8-.9 .8 .9 .8 1.1 .8 .3 .8-.7 .8-2 .8 1 .8 .2 .8 .5 .8 .5 .8-.9 .8 0 .8 .9 .8-.7 .8-1 .8 1.2 .8 .4 .8 .3 .8-.9 .8 0 .8-.2 .8 .6 .8 .2 .8-.9 .8 .4 .8-.5 .8 .2 .8 .5 .8 .3 .8-.8 .8-.3 .8 .3 .8 .7 .8 .1 .8-.1 .8-.2 .8-.3 .8-.2 .8 .6 .8-.3 .8-.7 .8 1.6 .8-.2 .8-1.2 .8 0 .8 .7 .8 0 .8-.9 .8 .1 .8 1.1 .8 .2 .8-1.1 .8 .2 .8 .1 .8 .4 .8 .2 .8 .3 .8-.3 .8-1.3 .8 .4 .8 .6 .8 0 .8-.2 .8 .3 .8 .1 .8-1.3 .8-.6 .8 1.8 .8 .3 .8 .5 .8 .3 .8-1.1 .8-1.9 .8 .3 .8 2.6 .8 .2 .8-1.7 .8 .9 .8 .1 .8-1.5 .8 0 .8 .9 .8 .3 .8 .2 .8-.2 .8-1.1 .8 .1 .8 .3 .8 .6 .8 .5 .8-1.4 .8 0 .8 1.8 .8 0 .8-2 .8-.3 .8 1.2 .8 1 .8-1.1 .8 0 .8 0 .8-1 .8 .2 .8 .5 .8 .3 .8 .3 .8-.7 .8-.3 .8-.2 .8 1.5 .8 0 .8-.8 .8-.7 .8 1 .8-.1 .8 .1 .8-.6 .8 .3 .8 .9 .8-.4 .8-1.3 .8 .8 .8 .8 .8-.3 .8-.7 .8-.4 .8 .6 .8 .2 .8 .2 .8-.4 .8-.4 .8 .7 .8 .2 .8-1 .8 .3 .8 .4 .8 .6 .8-.2 .8-.7 .8-.2 .8 .2 .8 .8 .8-.7 .8-.4 .8 .9 .8 0 .8-.3 .8-.1 .8 0 .8-.2 .8 0 .8 .3 .8 1 .8-1.2 .8-.7 .8 1.1 .8 .1 .8-.9 .8 .7 .8-.1 .8 .5 .8-.8 .8-.7 .8 .7 .8 .7 .8 .1 .8-1 .8-.4 .8 .6 .8 .8 .8 .2 .8-1.3 .8 .2 .8 .9 .8-.1 .8-1.1 .8 .6 .8 .9 .8-.6 .8-1.2 .8 .8 .8 .5 .8-.3 .8 0 .8-.3 .8-.2 .8 .2 .8 .5 .8 .3 .8-.7 .8-.3 .8 .7 .8 .1 .8-1.1 .8 .1 .8 1.2 .8 .2 .8-1.4 .8 .2 .8 .5 .8-.3 .8 .2 .8-.1 .8 0 .8-.2 .8 .2 .8 .5 .8-.1 .8 0 .8-.4 .8-.9 .8 1.4 .8 .3 .8-.2 .8-.9 .8 .2 .8 .2 .8 .5 .8-.2 .8 0 .8 .3 .8-.6 .8-.7 .8 .4 .8 1 .8-.3 .8-.9 .8 .5 .8 0 .8-.2 .8 .2 .8 .5 .8-.4 .8-.7 .8 .4 .8 .8 .8-.9 .8-.3 .8 .1 .8 .3 .8 .8 .8-.4 .8-.2 .8-.6 .8 .8 .8-.6 .8 .1 .8 .7 .8-.4 .8-.3 .8 .8 .8-.6 .8-.2 .8 0 .8 1.3 .8-.8 .8-.4 .8-.3 .8 .5 .8 .3 .8-.3 .8 .2 .8 .3 .8-.3 .8-.5 .8-.4 .8 .6 .8 .5 .8-.5 .8 .1 .8-.3 .8 .3 .8 .3 .8-.4 .8-.2 .8 .4 .8 .9 .8-.9 .8-.7 .8 1.2 .8-.2 .8-1.1 .8 .5 .8 .6 .8 .4 .8-.8 .8-.8 .8 .2 .8 .8 .8 .4 .8-.2 .8-.3 .8-.3 .8 .3 .8 0 .8-.7 .8 .4 .8 .3 .8 .1 .8-.1 .8-.4 .8 .3 .8 .7 .8-.8 .8-.3 .8 .9 .8 .2 .8-.5 .8-.5 .8 0 .8-.1 .8 .5 .8 .1 .8-.3 .8 0 .8 1 .8-.8 .8-.9 .8 .4 .8 .5 .8 .2 .8-.2 .8-.2 .8-.4 .8 .7 .8-.6 .8 .5 .8 0 .8-.1 .8-.3 .8 .7 .8 .2 .8-.9 .8 .1 .8 .3 .8 .2 .8-.7 .8 .2 .8 .4 .8-.3 .8-.3 .8 .5 .8-.2 .8 .9 .8-.5 .8-.2 .8-1 .8 .6 .8 1 .8 0 .8-.4 .8-.2 .8-.6 .8-.1 .8 .1 .8 .5 .8 .1 .8 .7 .8-.4 .8-.6 .8-.2 .8 .6 .8 0 .8-.2 .8 .2 .8 .3 .8-.4 .8-.2 .8-.4 .8 .8 .8 .1 .8 .2 .8-1.2 .8 .3 .8 .5 .8-.1 .8-.8 .8 .4 .8 .4 .8 .4 .8-.9 .8-.1 .8 .4 .8 .3 .8-.7 .8 .3 .8 .1 .8 .4 .8-1.2 .8 .3 .8 .4 .8 .6 .8-.2 .8 .2 .8-.4 .8-.4 .8 .2 .8 .5 .8 .2 .8-.5 .8-.2 .8 .4 .8-.6 .8-.1 .8 .2 .8 .1 .8 .1 .8 .1 .8 .8 .8-.9 .8 0 .8 0 .8 0 .8-.1 .8 .4 .8 .3 .8 0 .8-1.1 .8 .6 .8-.7 .8 .8 .8 .2 .8 .1 .8-.4 .8-.5 .8 1.3 .8-.4 .8-1 .8 .3 .8 .5 .8 .4 .8-.6 .8-.4 .8 .6 .8-.2 .8-.3 .8 .1 .8-.1 .8 .4 .8-.4 .8 .7 .8 0 .8-1.1 .8 .9 .8 .7 .8-.5 .8-.4 .8 0 .8-.4 .8 .2 .8 .2 .8 .5 .8-.1 .8-.4 .8-.1 .8 0 .8-.4 .8 .7 .8-.1 .8 .3 .8-.5 .8-.8 .8 .7 .8 .1 .8 .5 .8 0 .8-.2 .8-.1 .8 .2 .8-.3 .8-.4 .8 .3 .8 .5 .8 .3 .8-.6 .8-.5 .8 .2 .8 .2 .8-.5 .8 .3 .8 .7 .8-.2 .8 0 .8-.7 .8-.5 .8 1.4 .8 .2 .8-.6 .8-.2 .8 .3 .8-.6 .8 0 .8 .1 .8 .3 .8 .4 .8-.2 .8-.2 .8-.4 .8-.1 .8 .3 .8 .7 .8-.3 .8-.3 .8-.3 .8 .4 .8 .4 .8 0 .8-.6 .8-.1 .8 .3 .8 .3 .8 .5 .8-.7 .8-.3 .8 .3 .8-.4 .8 .5 .8-.1 .8 .1 .8-.7 .8 0 .8 .6 .8-.1 .8 .1 .8 .1 .8 0 .8-.7 .8 .6 .8-.1 .8-.4 .8-.2 .8 .6 .8 .5 .8-.6 .8-.1 .8 .4 .8 0 .8-.3 .8-.5 .8 .8 .8 .2 .8-.3 .8-.6 .8 .4 .8 0 .8 .6 .8-.2 .8-.1 .8 .1 .8 .2 .8-.8 .8-.4 .8 .5 .8 .6 .8 .2 .8-.9 .8 .3 .8-.4 .8 1.2 .8-.5 .8 0 .8 0 .8-.1 .8-.3 .8-.3 .8 0 .8 .2 .8 .6 .8 0 .8-.6 .8-.1 .8 .2 .8 .6 .8-.7 .8-.2 .8 .3 .8 .5 .8-.2 .8-.8 .8 .3 .8 .4 .8-.1 .8 .2 .8 .1 .8-.6 .8-.2 .8 .7 .8-.2 .8 .2 .8 .1 .8-.6 .8 .2 .8 .1 .8-.1 .8 .1 .8 .5 .8-.2 .8-.6 .8-.3 .8 .9 .8 0 .8 0 .8-.6 .8 .1 .8 .3 .8-.2 .8 .1 .8 .1 .8 .2 .8-.2 .8-.1 .8-.3 .8 .5 .8 .1 .8 .1 .8-.6 .8 .1 .8 .2 .8-.6 .8 .1 .8 .9 .8 .1 .8-1 .8 .1 .8 .6 .8-.2 .8-.3 .8 0 .8 0 .8 0 .8 .2 .8 .5 .8-1.2 .8 .6 .8 .4 .8 .3 .8-.4 .8-.5 .8 .6 .8-.4 .8-.2 .8 .2 .8 .7 .8-.3 .8-.4 .8-.4 .8 .5 .8 .9 .8-.4 .8 .1 .8-.5 .8-.1 .8 .1 .8-.2 .8-.3 .8 .5 .8 .8 .8-1 .8-.3 .8 .4 .8 .1 .8 .1 .8-.2 .8 .5 .8-.5 .8-.3 .8 0 .8 .5 .8 .1 .8-.5 .8 .2 .8 .4 .8-.9 .8-.2 .8 .5 .8 .6 .8-.5 .8 .1 .8 .1 .8 .2 .8-.6 .8 .2 .8 .6 .8-.6 .8-.1 .8 .5 .8-.4 .8 .2 .8-.3 .8 .4 .8 .2 .8-.3 .8 .2 .8-.8 .8 .5 .8 0 .8 .6 .8-.3 .8 .1 .8-1 .8-.1 .8 .7 .8-.1 .8 .2 .8 .1 .8-.3 .8-.5 .8 .6 .8-.3 .8 .1 .8 .7 .8-.3 .8-.7 .8 0 .8 .5 .8 .7 .8-.6 .8-.2 .8 .3 .8 .4 .8-.9 .8 .1 .8 .1 .8 .6 .8-.2 .8-.7 .8-.5 .8 .7 .8 .6 .8-.4 .8-.4 .8 .1 .8 .5 .8-.1 .8-.2 .8-.5 .8 .3 .8 .6 .8 0 .8-.7 .8 0 .8 .3 .8-.1 .8-.2 .8 .4 .8-.1 .8 .4 .8-.4 .8-.6 .8 .3 .8 .6 .8 .2 .8-.3 .8-.4 .8-.4 .8 .8 .8 .2 .8-.1 .8-.6 .8 .6 .8-.4 .8 .3 .8-.4 .8 .5 .8-.3 .8-.3 .8 .9 .8-.7 .8-.1 .8 .3 .8 .5 .8-.3 .8-.3 .8-.2 .8 .6 .8-.2 .8-.5 .8 .6 .8 0 .8 0 .8-.8 .8 .8 .8-.2 .8 0 .8 0 .8 0 .8-.3 .8 0 .8 .6 .8-.4 .8-.2 .8 .7 .8-.1 .8-.6 .8-.2 .8 .6 .8 0 .8-.2 .8 .6 .8-.1 .8-.3 .8-.6 .8 .4 .8-.4 .8 1.2 .8-.5 .8 .2 .8-1 .8 0 .8 1 .8 .3 .8-.4 .8-.1 .8 .3 .8-.9 .8-.4 .8 .2 .8 1.1 .8 .4 .8-.9 .8-.3 .8 .4 .8-.2 .8-.2 .8 0 .8 .5 .8 .4 .8 0 .8-.7 .8-.4 .8 .4 .8 .1 .8 .3 .8 .3 .8-.4 .8-.7 .8 .2 .8 .3 .8 .3 .8 0 .8 0 .8 0 .8-.5 .8 .1 .8-.5 .8 .3 .8 .6 .8 .3 .8-.1 .8-.4 .8-.6 .8 .3 .8 .5" fill="none" stroke="#0000ff" stroke-width="2.3" stroke-linejoin="round"/>
<path d="M138.6 293.4l1 .3 1 .1 1-.5 1-.2 1 .3 1 .7 1 .1 1-.8 1-.3 1-.1 1 .1 1 .5 1-.4 1 .1 1 .2 1-.7 1 .2 1 .3 1-.1 1 .1 1 .1 1 .1 1 .1 1-.1 1 0 1-.1 1 .3 1-.2 1-.3 1-.1 1 .1 1 .1 1 .3 1-.1 1-.7 1 .5 1-.6 1 .6 1-.2 1 .3 1 .3 1-.8 1 .1 1 .8 1-.7 1 .7 1-.5 1-.2 1-.2 1-.1 1 .6 1 .2 1-.5 1 .1 1 .4 1-.5 1 0 1 0 1 .3 1-.1 1-.4 1 1.2 1-1 1 .6 1-.3 1-.1 1-.3 1 .2 1 0 1-.3 1 .8 1-.6 1-.3 1 1.1 1-.9 1 .8 1-1 1 1.1 1-1 1 .2 1 .4 1-.6 1 .6 1 .3 1-.5 1-.1 1 .2 1 0 1 0 1 0 1 0 1-.3 1 .4 1 0 1-.2 1 .6 1-.2 1 0 1-.5 1-.1 1 .2 1-.1 1 .3 1 .5 1-.2 1 0 1-.9 1 .7 1 .1 1 .1 1-.3 1 .2 1-.2 1 .3 1 .3 1-.5 1-.4 1 .6 1-.7 1 .5 1 .3 1-.4 1-.3 1 0 1-.1 1 .6 1-.3 1 .3 1 .1 1-.5 1-.2 1 .2 1 .1 1-.3 1 .6 1 0 1-1 1 .4 1 0 1 .5 1-.5 1 .4 1-.4 1 .4 1-.3 1 0 1 .3 1-.4 1 .5 1-.2 1-.1 1-.1 1 0 1 .4 1-.7 1 1.2 1-.9 1 0 1 0 1 .1 1-.3 1 .3 1 .2 1 .1 1-.4 1 .3 1 0 1-.1 1 0 1-.1 1-.3 1 .3 1 .3 1-.3 1 .4 1-.5 1 .1 1-.5 1 .9 1-.4 1-.3 1 .1 1 .4 1 0 1 .1 1-.2 1 0 1 .6 1 0 1-.6 1-.1 1 0 1 .2 1-.4 1 .6 1-.3 1 .3 1-.2 1 .2 1-.2 1 .1 1-.5 1 .4 1-.7 1 .6 1-.6 1 .8 1 0 1 .2 1-.1 1-1 1 .6 1-.2 1 .1 1-.2 1 0 1 .6 1-.2 1 0 1 .2 1 .4 1-.4 1-.2 1 0 1-.7 1 .3 1 .5 1 .1 1-.4 1 .3 1 0 1-.2 1-.2 1 .1 1 .1 1 .4 1-1 1 .8 1-.3 1 .8 1-.8 1 .2 1 .3 1-.2 1 .1 1-.2 1-.2 1-.1 1-.2 1 .6 1-.1 1 .1 1-.7 1 .4 1 .8 1-.7 1 0 1 0 1-.1 1-.1 1 .7 1 .1 1-.5 1-.3 1 .6 1-.5 1 .5 1-.3 1 .3 1-.7 1 .5 1 .3 1-.4 1 0 1 .5 1-1 1 .5 1-.2 1 .2 1 .4 1-.5 1 .5 1-.5 1-.2 1 .4 1 0 1-.7 1 .6 1-.3 1 .2 1 .3 1-.1 1-.1 1-.2 1 .3 1-.1 1 .3 1-.4 1-.2 1 .3 1-.1 1 .2 1-.1 1 0 1-.3 1 .2 1-.2 1 .4 1-.5 1 .6 1 .4 1 0 1-.7 1-.3 1 .5 1-.2 1 .6 1-.8 1 .5 1-.8 1 .2 1 .1 1 .5 1 .1 1-.5 1 .8 1-.4 1 .4 1-.5 1-.7 1 .6 1 .3 1-.2 1-.1 1-.1 1 .2 1-.9 1 .8 1-.2 1-.2 1 .4 1-.6 1 .6 1-.1 1 .2 1 .2 1-.5 1 0 1-.2 1 .2 1 .1 1 .2 1 0 1-.3 1 .2 1 .1 1-.3 1 .4 1-.6 1 .5 1 .1 1-.8 1-.1 1 .5 1 .3 1 0 1 .3 1-.4 1 0 1-.3 1-.2 1 .6 1 .2 1 0 1-.3 1 .3 1-.3 1-.4 1 .5 1 .1 1-.4 1 .2 1 .1 1-.6 1 .3 1 .2 1-.4 1 .1 1 .5 1-.3 1-.2 1 .1 1 .7 1-.5 1 .1 1-.5 1 .5 1-.3 1 .7 1-.4 1 .1 1-.1 1-.2 1 .6 1-.4 1-.1 1-.2 1 .3 1-.1 1-.2 1 .1 1 .1 1-.3 1-.1 1 0 1 .4 1 0 1 .2 1-.1 1 .4 1-1.3 1 .2 1 1.3 1-1.1 1 0 1 1.1 1-1.3 1 .4 1 .1 1 .1 1-.2 1-.3 1 .2 1 .2 1 .2 1-.3 1 .2 1 .4 1-.7 1 0 1 .2 1-.3 1 .9 1-.2 1-.9 1 .7 1 0 1-.3 1-.4 1 .8 1 .1 1-.1 1-.4 1 .3 1-.2 1-.2 1-.4 1 .6 1-.7 1 .5 1 0 1 .2 1-.3 1 .6 1 0 1-.6 1 .6 1 .1 1-.7 1 .2 1-.1 1 .4 1-.2 1 0 1 .2 1-.4 1 .5 1 .2 1-.5 1 0 1 .3 1-.8 1 .9 1-.6 1 .3 1-.4 1 .6 1 0 1-.4 1 .3 1-.3 1 .1 1-.2 1-.2 1 .2 1 .3 1 0 1 .2 1 .1 1-.7 1-.2 1 .1 1 .3 1 .2 1-.1 1-.3 1 .4 1-.1 1-.2 1 .4 1-.4 1 .3 1 0 1-.1 1 .1 1-.2 1-.5 1 1.1 1-.4 1 .2 1-.3 1 .1 1 .3 1-.3 1-.1 1 .3 1-.2 1 .2 1-.1 1-.6 1-.6 1 1.1 1-.4 1 .4 1-.1 1 0 1-.3 1 .7 1-.1 1-.4 1-.1 1 .6 1-.4 1 0 1 .1 1 .1 1 .2 1-.6 1 .3 1-.5 1 .5 1-.3 1 .6 1-.8 1 .5 1 0 1-.3 1 .3 1 .3 1 .2 1-1 1 .2 1 .4 1-.3 1 .4 1-.3 1-.4 1 .2 1 0 1 1.4 1-1.2 1 .1 1-.5 1 .2 1 .5 1-.7 1 .3 1 .6 1-.5 1-.2 1-.2 1 .6 1-.8 1 .6 1 .2 1 0 1-.4 1 .6 1-.4 1-.1 1 0 1-.2 1 0 1 .4 1-.1 1 .1 1 .7 1-.9 1 .2 1 0 1-.2 1 0 1 .8 1-.4 1-.3 1 .6 1-.9 1 .1 1 .2 1 .3 1-.7 1 .4 1 .2 1-.3 1-.1 1 .2 1-.2 1 .2 1-.7 1 .8 1 0 1 .2 1 0 1-.2 1-.1 1 .3 1-.2 1 .3 1 .2 1-.6 1 .5 1 .1 1-.4 1-.4 1 .6 1-.3 1-.4 1 .8 1-.3 1-.4 1 .3 1 0 1-.4 1-.1 1 .8 1-.2 1-.4 1 .7 1-.4 1-.4 1 .4 1 0 1-.1 1-.2 1-.2 1 0 1 .5 1 .2 1-.6 1 .7 1-.2 1-.4 1 .4 1-.3 1 .2 1 .3 1-.6 1-.1 1 .5 1 0 1-.3 1 .5 1-.3 1-.5 1 .6 1-.2 1 .2 1-.3 1 .6 1 .1 1-.5 1-.2 1 .1 1-.4 1 .7 1-.7 1 .6 1 .3 1-.3 1 .2 1-.4 1 .2 1-.6 1 0 1 .2 1 .1 1 .5 1-.8 1 .5 1 .5 1-.6 1 .3 1-.2 1-.1 1-.2 1 .4 1-.2 1 .1 1-.7 1 .7 1-.3 1 .1 1 .8 1-1 1 .7 1 0 1-.5 1-.1 1 0 1 .4 1-.3 1-.2 1-.3 1 1.3 1-.5 1 .1 1-.1 1-.6 1 .8 1-.2 1-.3 1-.2 1 .7 1-.8 1 .2 1-.1 1 .5 1 0 1-.6 1 .1 1 .5 1-.4 1 .2 1-.2 1-.1 1-.2 1 0 1 0 1 .5 1 .1 1 0 1 .1 1-.4 1 0 1 .2 1 .3 1-.4 1-.2 1 .4 1 0 1 0 1 .1 1-.3 1-.3 1 .8 1-.1 1 0 1 0 1-.2 1-.1 1-.3 1-.1 1 1.1 1-.7 1 .6 1-.7 1 .4 1-.2 1 .3 1-.2 1-.3 1 .1 1-.1 1-.4 1 .8 1-.9 1 1.3 1-.7 1 0 1 .5 1-.1 1-.6 1-.2 1 .4 1 0 1-.3 1 .5 1-.8 1 1 1-.2 1-.2 1-.1 1 .4 1 0 1-.1 1-.1 1-.1 1 0 1-.1 1 .2 1 .1 1 0 1 .5 1-.3 1-.8 1 .1 1 .5 1-.5 1 .3 1-.6 1 .5 1-.3 1 .6 1 0 1-.2 1 .7 1-.3 1 0 1-.3 1 .6 1-.8 1-.2 1 .4 1 .7 1-.7 1-.2 1 .3 1 0 1-.3 1 .3 1 .1 1-.2 1-.6 1 .6 1 .1 1 .3 1-.2 1-.2 1-.5 1 .2 1 .2 1-.4 1 .6 1-.3 1 .5 1-1 1 .3 1 .8 1-.1 1-.4 1 .8 1-.7 1 .1 1-.1 1 .7 1-.5 1-.3 1-.7 1 .8 1 .1 1 .2 1-.3 1 .3 1 .2" fill="none" stroke="#008000" stroke-width="2.75" stroke-linejoin="round"/>
<path d="M138.6 325.3l1 0 1-.2 1-.4 1 .2 1 .2 1 0 1-.1 1 .1 1 .4 1-.5 1 .1 1 .4 1-.9 1 .5 1 0 1 .1 1-.3 1-.3 1 0 1 .2 1 0 1 0 1-.4 1 .2 1 .4 1-.3 1-.7 1 1.1 1-.3 1 .1 1-.3 1 1.1 1-.9 1-1.9 1 2.2 1 .1 1-.6 1-1.6 1 3.2 1-1.3 1 .3 1-.5 1 0 1 .2 1-.2 1-.1 1 .1 1 .7 1-.4 1 0 1-.7 1 .7 1 .2 1 0 1 .1 1-.9 1 .1 1 .6 1 0 1 .4 1-.3 1-.4 1 0 1 .1 1-.3 1-.1 1 .7 1-.3 1-.3 1 .2 1 .4 1-.4 1 .2 1 .1 1 .1 1 .1 1-.5 1 0 1 .1 1 .2 1-.3 1 0 1 1.7 1-1.2 1-.7 1 1 1-.6 1 .3 1-.4 1 1.2 1-.3 1-1.4 1 .5 1 .7 1-.6 1 .2 1-.4 1 .4 1-.3 1-.1 1 .2 1-.2 1 0 1 .5 1-.5 1 .5 1-.3 1-.5 1 .5 1-.2 1 0 1-.3 1 .5 1 .4 1-.2 1-.3 1-.2 1 .5 1-.2 1-.4 1 0 1 .6 1 0 1-.5 1 .1 1-.3 1 .4 1 0 1-.1 1 .5 1-.2 1 .2 1-.4 1 .2 1-.4 1 .4 1 .2 1-.5 1 .7 1-.6 1-.1 1-.1 1 .7 1-.3 1-.1 1 .3 1-.3 1 .4 1-.6 1 .3 1-.3 1 .4 1-1.2 1 1 1-.3 1 0 1 .9 1-.8 1-.2 1 .3 1 .1 1 0 1-.5 1 .5 1 0 1 .6 1-.7 1 .2 1-.2 1 .2 1-.4 1 .4 1-.5 1-.2 1 1 1-.8 1 1 1-.7 1-.2 1 .9 1-1 1 .6 1 0 1-.5 1 .2 1-.1 1-.6 1 1.1 1-.8 1 0 1 1.1 1-.2 1-1.2 1 .7 1-1 1 1.2 1-.4 1-.1 1 .2 1 .3 1 .1 1-.3 1-.4 1 .9 1-.7 1 .5 1-.1 1-.3 1 .1 1 .4 1-.5 1-.1 1 .6 1-.7 1-.1 1 .7 1-.6 1-.1 1 .4 1 0 1 .1 1-.1 1-.5 1 .7 1-.1 1-.1 1 .1 1-.2 1-.2 1 .1 1 .6 1-.3 1-.3 1 0 1 .1 1 .1 1 .2 1-.3 1 .3 1 .4 1-.5 1-.3 1 .2 1-.7 1 .7 1 .5 1-.1 1-.4 1 .1 1 .1 1-.2 1 .1 1-.2 1 .4 1 0 1 0 1 .2 1-1.2 1 1 1-.7 1 .6 1-.3 1 .4 1-.5 1 .1 1-.1 1 .1 1-.1 1 .2 1-.1 1 .3 1-1.1 1 1 1 .2 1-.3 1-.2 1-.3 1 .8 1-.6 1 .5 1 .2 1-.5 1 .2 1 .2 1 .1 1-.4 1 .2 1-.4 1 .3 1-.3 1 .2 1 .2 1 .2 1 .1 1-.2 1-.2 1-.1 1-.4 1 0 1 .6 1 .5 1-.8 1 .2 1 .1 1-.1 1-.2 1 .5 1-.9 1 .3 1 0 1 0 1 .7 1-.3 1-.4 1 .8 1-.4 1-.1 1 .3 1-.7 1 .7 1-.1 1-.1 1-.6 1 .4 1-.2 1-.3 1 .7 1-.2 1-.1 1 .2 1 .1 1 0 1 .4 1 .6 1 .3 1-1.9 1 2.8 1-2.1 1-.5 1 .4 1 .4 1-.9 1 .6 1-.3 1-.4 1 .3 1-.3 1 .2 1 .1 1 .3 1-.6 1 .7 1-.1 1-.1 1 .2 1-.4 1 .3 1 .1 1 .1 1-.5 1 .1 1-.8 1 .5 1-.3 1 1 1-.7 1-.1 1 .4 1 .1 1-.2 1-.1 1 .2 1 0 1 .3 1-.5 1 .7 1-.7 1 .7 1-1 1 .9 1-.2 1 0 1 .5 1-.4 1-.5 1 0 1 .1 1 0 1 .4 1-.9 1 2.1 1 0 1-2.1 1 1.1 1-.5 1-.2 1 .4 1-.1 1 .1 1 .1 1-.4 1 .1 1-.1 1 .3 1-.6 1 .7 1-.6 1 .4 1-.3 1 .6 1-1.3 1 .8 1 .4 1-.3 1-.7 1 .7 1-.2 1 .5 1-.3 1-.5 1 .7 1-.6 1 .3 1 .1 1 .1 1-.3 1 .5 1-.8 1 .3 1-.2 1-.7 1-.1 1 1.8 1-.8 1 .6 1-.3 1-.3 1-.1 1 .2 1 0 1-.1 1 .1 1 0 1 .4 1-.6 1-.5 1 1.5 1-.8 1-1.6 1 1.8 1 0 1-.7 1 .5 1 .8 1-.7 1-.7 1 .5 1 .1 1-.5 1 .6 1-.6 1 .2 1 .4 1 .1 1 .9 1-1 1 0 1 .2 1-.9 1 .7 1-2.2 1 3.3 1-1.9 1 2.6 1-1.7 1 .9 1-.8 1 .5 1-.5 1-.7 1 .8 1-.2 1-.3 1 .2 1-.7 1 .7 1-.4 1 .6 1-.2 1 .7 1-1.9 1 1 1 .4 1-1 1 .5 1 0 1 .9 1 0 1-1 1 .2 1 .7 1-.4 1-.5 1-.1 1 .5 1 0 1 0 1 .2 1-.8 1 .2 1 .8 1-.9 1-.1 1 1.1 1-.7 1-.1 1 .1 1 .4 1-.6 1 .5 1-.3 1 .3 1-.2 1 .1 1-.2 1-.3 1 .3 1 .2 1 .1 1-.1 1-.2 1 .3 1-.1 1-.3 1 .1 1 .5 1-.3 1 .2 1-.5 1 .5 1 .1 1-.4 1 .2 1 .2 1-.4 1 .1 1 .9 1-.8 1-.7 1 .8 1 .2 1-.8 1 .6 1-.2 1-1 1 1.3 1-.4 1-.4 1 1 1-.8 1 .1 1-.2 1 .5 1 .4 1-.5 1-.2 1 .3 1-.2 1 .2 1 .3 1-.6 1 .2 1 .1 1-.5 1 0 1 .7 1 0 1-.2 1-.3 1-.1 1 .1 1 .6 1-.1 1-.2 1 .5 1-.7 1 .8 1-1.6 1 .7 1 .3 1-.3 1 .1 1 .2 1-.6 1 .4 1-.3 1 .4 1 .3 1-.5 1 .3 1 .2 1-.3 1 0 1 0 1 0 1 0 1 .6 1-.5 1-.2 1-.4 1 .6 1 .8 1-2.5 1 1.1 1 .7 1-1 1 1.5 1-.4 1-.3 1 .8 1-1.1 1 .2 1 0 1-1.2 1 2.5 1 .1 1-.6 1-.8 1 .1 1-.3 1 0 1 .4 1 .1 1-.2 1 0 1-.2 1 .4 1 0 1 .2 1-.3 1-.4 1 .3 1-.2 1 .8 1-.7 1 .4 1-.2 1-.4 1-.1 1 .4 1-.2 1 .6 1-.6 1 0 1-.2 1 .8 1-.7 1 .1 1-.1 1 .4 1-.1 1 0 1-.5 1 .8 1-.2 1 .4 1-1.7 1 .5 1 3.9 1-3.5 1 .4 1-.4 1 .3 1-.2 1 .5 1-.4 1-.1 1-.5 1 .3 1 .2 1-.4 1 .8 1-.1 1-.4 1 .4 1 0 1 0 1 0 1 .4 1-.4 1-.5 1 .1 1 .5 1-.8 1 .6 1-.3 1 .5 1-.2 1 0 1-.5 1 .5 1 0 1 .4 1-.2 1-.5 1 .6 1 .1 1 .2 1-.1 1-.1 1-.5 1-.3 1 .4 1-.2 1 .4 1-.7 1 .7 1-.4 1-.2 1 .1 1-.3 1 .9 1-.2 1-.1 1 .1 1-.2 1 0 1 .1 1-.5 1 .2 1 .8 1-.7 1 0 1-.1 1 .3 1-.4 1 .4 1-.2 1 .4 1-.3 1 .2 1-.1 1-.4 1 .8 1-.5 1 .4 1-.5 1 .4 1-.2 1-.3 1 .3 1 .4 1-.1 1-1 1 .9 1-.1 1-.6 1-.2 1 .6 1-.2 1 .6 1-.6 1 .2 1 .1 1 .2 1-.2 1-.1 1 .3 1 .1 1 .2 1-.7 1 .1 1 .1 1-.2 1 .2 1 .3 1-.6 1-.1 1 .4 1-.1 1-.4 1 .7 1 0 1 .1 1-.3 1-.1 1-.2 1-.4 1 1 1-.6 1 0 1-.2 1 .6 1 .1 1 0 1 0 1-.2 1-.1 1 .4 1-.7 1 .2 1 .6 1-.6 1 .4 1 0 1 0 1-.6 1 .3 1 0 1 .2 1 0 1-.2 1-.2 1 0 1 .8 1-.1 1-.7 1 .3 1 .4 1-.1 1-.4 1 .2 1 0 1 .3 1-.8 1 .6 1-.2 1-.1 1-.1 1 0 1 .2 1-.2 1 0 1 .1 1-.3 1 .1 1 .3 1 .3 1 0 1-.2 1-.2 1-.2 1 .1 1 .1 1-.1 1 .7 1-.6 1 .2 1-.5 1 .3 1-.5 1 .3 1 .8 1-.8 1 .5 1-.4 1 0 1 .3 1 0 1-.1 1 .2 1 0 1-.5 1-.1 1 1.1 1-.7 1-.2 1-.1 1-.6 1 1.2 1-.4 1-.3 1 .4 1-.1" fill="none" stroke="#000000" stroke-width="2.75" stroke-linejoin="round"/>
<path d="M138.6 356.4l1 .4 1-.5 1 .1 1-.7 1 .7 1-.3 1 .2 1 .2 1-.4 1 .3 1 .6 1-.2 1 .2 1-.3 1-.5 1 .1 1 .1 1 .3 1 .2 1-.5 1-.4 1 .8 1 0 1 .3 1-.7 1-.1 1-.1 1 .1 1 .2 1 .7 1-.6 1-.4 1 .4 1-1 1 .9 1 .3 1-.6 1 .3 1-.4 1 0 1-.1 1 .4 1 0 1-.3 1 .4 1-.4 1-.3 1 .7 1-.4 1-.2 1 .6 1 0 1-.3 1-.1 1 .6 1-.7 1 .5 1 .1 1-.4 1 .1 1 .1 1 .2 1-.6 1 .2 1 .1 1 .3 1 0 1-.2 1 .6 1-1.1 1 .3 1 .5 1-.4 1 .4 1 .1 1-.9 1 .8 1-.5 1 .3 1 .4 1-.6 1 .3 1-.6 1 1 1-.7 1 .3 1-.1 1 .4 1-.3 1-.6 1 .5 1 .1 1 0 1 .2 1-.6 1 .3 1 .1 1 0 1-.7 1 1.2 1-.1 1-.3 1 0 1-.6 1 0 1 .4 1-.1 1 0 1 .2 1 .2 1-.1 1-.1 1 .1 1-.5 1-.2 1 0 1 .3 1 0 1 0 1 .3 1 .6 1-.8 1 .7 1-.4 1-.2 1-.1 1-.1 1 .6 1-.5 1 .4 1-.7 1 .4 1-.2 1 0 1 .3 1-.3 1 .3 1 .1 1 0 1 .2 1-.6 1-.3 1-.1 1 .2 1 .2 1-.5 1 .2 1 .6 1 0 1 .1 1-.5 1 .3 1-.1 1-.6 1 .6 1 .8 1-.7 1-.3 1 .5 1-.5 1 0 1 0 1 .9 1-.7 1 .1 1 .8 1-.8 1 0 1 .2 1-.6 1 .2 1-.1 1 .6 1-.5 1 .1 1-.1 1-.3 1 .4 1-.4 1 .6 1-.1 1 .1 1-.3 1 1.5 1-1.4 1 .3 1-.6 1 .9 1-.4 1-.6 1 .8 1-.3 1-.1 1-.1 1 .3 1 .2 1 .3 1-.8 1-.2 1 .4 1-.4 1 .7 1-.3 1-.3 1-.2 1 .5 1-.3 1-.1 1 0 1-.3 1 1 1-.5 1 .5 1-.9 1 .9 1-.1 1-.6 1 .2 1-.2 1 .3 1-.2 1 .5 1-.1 1 0 1-.2 1-.1 1 .1 1 .5 1-.4 1-.2 1-.1 1-.1 1 .2 1-.3 1 .5 1 .1 1-.7 1-.1 1 .3 1 .8 1-.5 1 0 1 .2 1-.3 1-.3 1 1.2 1-.8 1 0 1 .1 1-.3 1 0 1 .1 1 0 1-.2 1 .1 1 .4 1-.1 1-.5 1 .6 1-.1 1-.2 1 .4 1-.3 1 .3 1-.3 1-.3 1-.2 1 .6 1 .2 1 .2 1-1.1 1 .7 1-.4 1 1.1 1-.9 1 .3 1 .4 1-1.1 1 .7 1-.1 1-.1 1 .1 1 .4 1-.3 1 0 1-.6 1 0 1 .5 1 .1 1-.1 1-.3 1 0 1 .5 1 .2 1-.5 1-.2 1 .4 1 .2 1-.6 1 0 1 .1 1 .2 1-.2 1 0 1 .2 1 0 1 .1 1 0 1 .4 1-.3 1-.2 1 0 1 0 1-.2 1 .4 1 0 1-.4 1 .9 1-1.3 1 .2 1 .4 1 .4 1-.9 1 .7 1-.3 1-.1 1 .5 1-.6 1 .2 1 .2 1 .1 1 0 1-.5 1-.1 1 .9 1-.3 1-.1 1 0 1 .1 1 0 1-.4 1 0 1 .3 1-.2 1 .1 1-.6 1 .8 1 0 1-.4 1 .2 1 0 1-.3 1 .4 1-.1 1-.3 1 0 1 .4 1-.6 1 .6 1 .2 1-.9 1-.3 1 .5 1 .1 1 .7 1-1 1 .2 1-.1 1 .1 1 .5 1-.2 1-.1 1-.5 1 .4 1 0 1 .6 1 0 1-.3 1 .4 1 0 1-.4 1-.6 1 .4 1 0 1 .3 1-.1 1 .3 1-.9 1 1 1-.4 1 .3 1-.5 1 .2 1 .2 1 .1 1-.4 1 .2 1-.4 1 .1 1 .3 1 .4 1-.8 1 .6 1 0 1-.5 1 .1 1 .2 1-.6 1 .6 1 .7 1-.4 1 0 1-.8 1 .3 1 .1 1 .8 1-.4 1-.3 1-.1 1-.1 1-.4 1 .3 1-.2 1 .2 1 .9 1-.7 1-.1 1 .3 1-.3 1-.2 1 .5 1-.1 1-.4 1 .1 1 .2 1 0 1 .5 1-.7 1 .1 1 .3 1-.3 1 .2 1-.1 1 .2 1-.3 1 .1 1-.2 1 .4 1-.3 1 .3 1 0 1-.7 1 .7 1 0 1-.6 1 .4 1-.1 1 .1 1-.1 1 .5 1-.5 1-.2 1 0 1 .4 1-.1 1-.5 1 .3 1-.1 1 .3 1 .1 1-.2 1 .1 1 .4 1-.3 1 0 1-.2 1-.8 1 .5 1-.1 1 .5 1 .2 1 0 1 .3 1-.9 1 .2 1 .7 1 0 1-.5 1-.7 1 .4 1 .6 1-.3 1 0 1-.1 1-.1 1 .2 1 .4 1-.5 1-.3 1 .3 1-.1 1 .5 1-.3 1 0 1-.1 1 0 1 .5 1-.5 1 .4 1-.7 1 .1 1 0 1 .6 1 .4 1-.2 1-.7 1 0 1 .3 1 0 1-.1 1-.2 1-.2 1 0 1 .6 1 .2 1-1.1 1 .6 1 0 1-.6 1 1 1 0 1-.3 1-.1 1 .3 1-.4 1 .4 1-.4 1-.5 1 .8 1 .4 1-1 1 .4 1-.2 1 .2 1 .1 1 .2 1 .1 1 .3 1-.4 1-.4 1 0 1-.4 1 .4 1 0 1-.3 1 .4 1-.1 1 .7 1-.6 1 .4 1-.9 1 .6 1 0 1-.3 1 .4 1-.1 1-.3 1 .5 1-.2 1 .3 1-.2 1-.2 1 .3 1-.6 1 .6 1-.4 1 .1 1 0 1-.2 1-.4 1 .7 1-.1 1-.2 1 .2 1 0 1 0 1 .2 1-.4 1 .4 1-.1 1 .1 1-.3 1 .2 1 .1 1-.2 1 .2 1-.5 1 .6 1-.4 1 .2 1-.1 1 0 1 0 1 .6 1-.4 1-.4 1 .6 1-.8 1 .3 1 .5 1-.2 1-.7 1 .9 1-1.4 1 .3 1 1 1-.8 1 .8 1 .5 1-.8 1 .3 1-.1 1 .3 1-.4 1 .1 1 0 1-.4 1-.1 1 .1 1 .5 1 .2 1-.1 1-.4 1-.1 1 .5 1-.3 1-.5 1 .3 1 .3 1 .2 1-.5 1-.4 1 .1 1-.2 1 .2 1 .5 1 .2 1-.5 1 .6 1-.3 1 .2 1-.3 1 .3 1-.2 1-.3 1 .3 1-.4 1 .7 1 .1 1-.4 1-.2 1 .4 1-.3 1-.3 1 .4 1 .1 1-.1 1-.4 1 .6 1-.3 1 0 1 .2 1-.3 1 .5 1-.1 1 .1 1-.3 1-.4 1 .6 1-.4 1 .8 1-.5 1-.2 1-.3 1 .2 1 .3 1 0 1 0 1-.2 1 .5 1-.4 1 0 1 0 1-.1 1 .1 1 .2 1-.6 1 .5 1 .2 1-.9 1 .6 1-.2 1 .7 1-.2 1-.3 1-.4 1 .5 1-.2 1 .4 1-.7 1 .1 1-.1 1 .1 1 .2 1-.3 1 .2 1-.1 1 0 1 .5 1-.9 1 .6 1-.2 1 .9 1-.5 1-.6 1 0 1 .2 1 .1 1-.6 1 .7 1 0 1 .2 1-.6 1 .6 1-.3 1 .7 1-1 1 .5 1-.2 1 .3 1 .1 1-.5 1 .5 1-.4 1 .1 1-.5 1 .2 1 .1 1 .6 1-.1 1-.7 1 .4 1 .3 1-.4 1 .3 1-.1 1 .1 1-.1 1-.4 1 .2 1-.1 1-.3 1 .2 1 .5 1-.3 1-.4 1 .7 1-.3 1-.1 1 .2 1-.2 1 .3 1 .7 1-1 1 .3 1 .1 1-.6 1 .3 1 0 1 .3 1 0 1-.2 1 .6 1-.5 1 .1 1 .2 1-.3 1 .1 1-.1 1-.1 1 0 1 .1 1-.1 1-.1 1 .4 1 0 1 .1 1-.9 1 0 1 .6 1-.7 1 .5 1-.4 1 .6 1-.4 1 .2 1 .5 1-.2 1-.1 1 .1 1-.1 1 .3 1-.7 1-.2 1 .5 1 .6 1-1 1 .2 1 .1 1 0 1 .2 1-.7 1 .7 1 .3 1-.2 1 .2 1-.8 1 .5 1 .3 1-.3 1 .2 1 .5 1-.4 1-.8 1 .6 1-.3 1-.1 1 .5 1-.2 1 .3 1-.4 1-.3 1 .3 1 .2 1 .3 1-.7 1 .5 1-.5 1 .4 1 .1 1-.3 1-.3 1 0 1 .5 1 .3 1-.6 1 .1 1 .3 1 .3 1-.4 1-.1 1 .3 1-1 1 .8 1 .2 1-.4 1-.4 1 .7 1-.4 1 .1 1 0 1-.5 1 .2 1 .4" fill="none" stroke="#ff0000" stroke-width="2.75" stroke-linejoin="round"/>
<path d="M138.6 388.3l1-.4 1 .2 1-.3 1 0 1 .2 1-.1 1 .1 1-.2 1 .3 1 .4 1-.4 1 0 1-.2 1-.1 1-.1 1-.1 1 .6 1-.3 1-.1 1 0 1 .5 1 .4 1-.7 1 .1 1-.4 1 1 1-1.2 1 .6 1-.2 1-.1 1 .3 1-.7 1 .8 1-.5 1 .3 1 .1 1 0 1 .2 1-1 1 .7 1 0 1 0 1 .2 1-.4 1 .2 1-.3 1 .3 1-.2 1-.1 1 .2 1 .1 1 .3 1-.4 1 .3 1-.4 1 1 1-.3 1-.7 1 .2 1 .7 1-.9 1 .8 1-.1 1-.4 1 0 1 .3 1 .1 1-.8 1 .1 1 .1 1-.1 1 .3 1-.1 1 0 1 .4 1-.3 1-.1 1 0 1 0 1 .2 1-.1 1 .1 1 0 1 .1 1-.7 1 .5 1-.1 1-.2 1 .5 1-.7 1 .5 1-.2 1-.3 1 .4 1 .2 1 .2 1-.4 1 .6 1-.9 1 .5 1-.6 1 .4 1-.2 1 .3 1 .2 1-.2 1 .1 1-.1 1 0 1 .1 1-.2 1 0 1-.1 1 0 1-.4 1 .7 1 .1 1-.9 1 .2 1 .3 1 0 1 .3 1-.1 1 .3 1 0 1-.3 1-.2 1 .2 1-.7 1 .7 1 .2 1-.3 1 .3 1-.3 1-.2 1-.2 1 .4 1 .5 1-1.1 1 .9 1-.5 1-.2 1 .9 1-.1 1-.8 1-.2 1 .1 1 .6 1 0 1-.1 1-.2 1-.1 1 0 1 .1 1 0 1 .6 1-.5 1 .4 1-.3 1-.6 1 .5 1-.5 1 .1 1 .5 1 .1 1-.7 1 .8 1-.8 1 .5 1 .4 1-.9 1 .5 1 .1 1-.1 1 0 1-.1 1 .4 1-.4 1 .5 1-.6 1-.4 1 1 1-.8 1 .7 1 .1 1-.5 1 .4 1 .1 1-.1 1 .4 1-.8 1 .3 1-.2 1 .3 1-.5 1 .1 1 .5 1-.4 1 .3 1 .1 1-.5 1-.2 1 .5 1 0 1 0 1 .2 1-.2 1 0 1-.2 1-.1 1 1.5 1-1 1 .5 1 .1 1-1.6 1 .2 1 .7 1-.2 1 .3 1 .1 1-.4 1-.7 1 1 1-.5 1 .3 1-.2 1 .1 1 0 1 0 1-.1 1 .2 1 0 1 .5 1-.3 1 .1 1-.5 1 0 1 .2 1-.1 1 .4 1-1.1 1 .5 1 .4 1-.5 1 .6 1-.4 1 0 1 .2 1 0 1 0 1 0 1-.3 1 .2 1-.1 1-.1 1 .3 1-.1 1-.2 1 0 1 .2 1-.1 1 .4 1 .3 1-.9 1 .4 1 .2 1-.1 1 .2 1-.5 1 .5 1-.5 1 .5 1-.4 1-.8 1 .5 1 .4 1-.6 1 .7 1 0 1-.2 1-.4 1 .3 1 0 1 0 1 .1 1 .5 1-.4 1-.3 1 .3 1-.2 1 .1 1-.5 1-.1 1 .8 1-.8 1 .3 1-.4 1 .6 1 .2 1-.1 1 0 1 0 1 .1 1 .2 1 .1 1-.6 1 .4 1 .2 1-.1 1-.3 1 .6 1-.6 1 0 1 .2 1-.5 1 .6 1-.7 1 .3 1-.1 1 .1 1 0 1 .6 1-.8 1 .2 1 0 1 .2 1 .2 1 .2 1 .1 1-.3 1-.5 1 .2 1 .4 1-.1 1-.3 1 0 1-.3 1 .5 1 0 1-.6 1 .6 1-.4 1 .3 1 .5 1-.2 1-.2 1-.5 1 .3 1-.3 1 .3 1 .1 1-.1 1 0 1 .1 1-.3 1 .7 1-.8 1 .1 1-.1 1 .4 1 .4 1-.9 1 .3 1-.2 1 .6 1 .5 1-.9 1 .4 1-.6 1-.2 1 .7 1-.1 1-.4 1 .3 1 0 1-.2 1-.1 1 .8 1 0 1-.6 1-.6 1 1.1 1-1.1 1 .6 1 .1 1-.1 1-.2 1-.1 1 .3 1 .1 1-.5 1 .1 1-.5 1 .2 1 1.2 1 0 1-.2 1-.6 1 .1 1 .2 1 .2 1-.5 1 .5 1 .3 1-.5 1 .3 1-.6 1 .3 1-.1 1 .1 1 .1 1 .6 1-.8 1-.1 1 .3 1-.5 1 .1 1 .4 1 .1 1 0 1-.6 1 .6 1 0 1 0 1-.6 1 1.1 1-.7 1-.6 1 .9 1 .1 1-.3 1 .1 1-.2 1 .1 1-.4 1 .6 1-.2 1 0 1-.4 1 .5 1-.1 1-.6 1 .6 1 .2 1-.1 1-.3 1 .4 1 .3 1-.8 1 .7 1-.3 1-.5 1 .2 1 .6 1-.7 1 .6 1-.2 1 0 1-.3 1 0 1 .1 1 0 1-.2 1-.1 1 .1 1 .3 1-.4 1 .6 1-.2 1 .2 1-.4 1 .3 1 0 1-.1 1 .2 1 .4 1-1.4 1 .7 1-.5 1 .2 1 .7 1-.6 1-.4 1 .3 1-.1 1 1.3 1-.9 1 .1 1-.3 1 .3 1-.3 1-.1 1 .5 1-.5 1 .1 1 .3 1 .5 1-.7 1-.1 1 1.1 1-1.4 1 .6 1 .4 1-.8 1 .4 1 .1 1-.2 1 0 1 .2 1 .1 1 .4 1-.5 1 .1 1-.7 1-.1 1 .5 1-.4 1 .8 1-.7 1 .3 1-.1 1 0 1 .2 1 .1 1 .4 1-1 1 .4 1 .3 1-.1 1-.5 1 1 1-1 1 .3 1 .2 1-.1 1-.1 1-.2 1 .7 1-.7 1 .4 1-.2 1-.2 1 .3 1-.1 1-.1 1 .4 1 .1 1-.5 1-.3 1-.1 1 .2 1 .7 1-.7 1 .3 1-.6 1 .5 1-.5 1 .8 1-.8 1 .8 1-.5 1 .6 1-.4 1 .3 1-.1 1 .1 1-.4 1 .1 1 .3 1-.1 1 .2 1-.5 1 .3 1-.4 1 .2 1 .1 1 0 1 .2 1-.6 1 .4 1 .2 1-.2 1 .7 1-.6 1 .2 1-.5 1 .3 1 .1 1 0 1-.7 1 .4 1-.1 1 .3 1-.5 1 0 1 .6 1-.5 1 .5 1-.4 1 0 1 .2 1-.3 1 .2 1 .1 1 0 1 .2 1 .1 1 .2 1-.5 1-.4 1 .2 1 .9 1-.6 1 .3 1-.4 1 .1 1-.4 1 .3 1 .1 1-.3 1-.1 1 .4 1-.5 1 .5 1 .6 1-.9 1-.2 1 .4 1 .1 1 .6 1-.8 1-.3 1 .4 1-.3 1 .3 1 .2 1-.9 1 .4 1 .3 1 .1 1 0 1-.3 1 .4 1-.6 1 .4 1 .2 1-.2 1-.2 1-.3 1 0 1 .7 1-.1 1 0 1 .3 1-.8 1 .2 1 .5 1-.6 1 .9 1-.8 1 0 1 0 1 0 1-.3 1 .2 1 .4 1-.1 1 .6 1-.6 1 .1 1-.7 1 .8 1-.3 1 .7 1-.8 1 .5 1 .4 1-1 1 .3 1-.4 1 .2 1 .4 1-.1 1-.4 1 .2 1 0 1-.1 1 1.6 1-1.5 1 .1 1 .6 1 .9 1-1.9 1 .7 1-.4 1 .1 1 0 1 .2 1-.7 1 0 1 .5 1 .1 1-.1 1 0 1-.4 1 .2 1 .1 1 .3 1-.4 1 0 1 .1 1 .5 1-.2 1-.1 1-.2 1-.4 1 .5 1 .2 1-.4 1 .6 1 .2 1-.3 1-.8 1 0 1 .5 1-.3 1-.1 1-.4 1 1.1 1-.2 1 0 1 .1 1-.4 1 .2 1-.3 1 .2 1 .2 1-.5 1 .4 1 .8 1-.8 1-.2 1 .2 1 0 1-.4 1 .1 1 0 1-.2 1 .5 1 .6 1 .5 1-1 1-.3 1 .3 1-.1 1 0 1-.3 1 .2 1 .5 1 .5 1-.9 1 .7 1-1.1 1-.7 1 .6 1 .3 1 0 1 .6 1-.8 1 0 1 .2 1-.2 1 .5 1 .3 1-.8 1 .9 1-.1 1-.7 1 .1 1 .4 1-.5 1 .3 1-.2 1 0 1 .5 1-.7 1 0 1 .2 1-.2 1 .6 1 .1 1-.4 1-.1 1 .5 1-.3 1 0 1 0 1-.5 1 .3 1 .1 1 .5 1-.2 1-.3 1 .5 1-.2 1-.4 1 .1 1 .1 1 .4 1-.7 1-.1 1 .7 1 .1 1-.4 1-.6 1 1 1-.2 1-.4 1 .3 1-.3 1 .1 1 .3 1-.2 1 .1 1-.1 1-.2 1 .6 1-.4 1-.1 1 .3 1-.1 1-.1 1 .2 1 .1 1-.2 1-.4 1-.2 1 .7 1-.4 1-.4 1 .5 1 .2 1-.4 1 .3 1-.3 1 .7 1-.4 1-.2 1 .3 1-.3 1 .5 1 0 1-.5 1 .2 1 .1 1-.6 1 .9 1-.4 1 .1 1 .3 1-.1 1-.2 1-.5 1 .7 1 0 1 .1 1-.9 1 .8 1-.4 1 .4 1-.4 1 0 1-.3 1-.1" fill="none" stroke="#0000ff" stroke-width="2.75" stroke-linejoin="round"/>
<path d="M138.6 419.6l1-.2 1 .5 1-.5 1-.2 1 .6 1-.2 1 .1 1-.3 1 .3 1-.3 1-.1 1 .1 1 .3 1-.1 1 .4 1-.2 1-.4 1 .2 1-.3 1 .3 1-.3 1 0 1 .1 1 .5 1-.7 1 .5 1-.1 1-.3 1 .3 1 0 1 .7 1-.7 1-.1 1 .5 1-.4 1 .5 1-.8 1 .1 1-.3 1 .1 1 .4 1 0 1-.2 1 0 1-.3 1 .7 1 .2 1-.1 1 .3 1-.6 1-.4 1-.3 1 .2 1 .3 1 .3 1-.4 1-.4 1 .9 1 .2 1-.8 1 .6 1-1 1 .9 1-.8 1 .3 1 .5 1-.2 1 1.1 1-1.5 1 1 1 .1 1-.7 1 .1 1 .2 1-.1 1-.1 1-.1 1-.5 1 .2 1 0 1 .7 1-.8 1 .2 1-.6 1 .9 1-.2 1 .3 1 0 1 0 1 .4 1-.1 1-.1 1 .1 1-.4 1-.4 1 .5 1-.1 1 .5 1-.8 1 .3 1-.2 1 .4 1-.2 1-.2 1 .3 1-.4 1-.1 1 .1 1 .2 1-.2 1 .4 1-.4 1 .2 1-.4 1-.2 1 .5 1 .5 1 .1 1-.1 1-.7 1 .3 1-.1 1 .1 1 .1 1-.1 1 .2 1 .2 1 .1 1-.7 1 .5 1-.4 1-.2 1 .2 1 .2 1 .1 1-.2 1 .2 1 0 1-.1 1 .2 1-.6 1 .3 1-.3 1-.3 1 .7 1-.2 1 .3 1-.2 1 .2 1 .1 1-.2 1-.2 1 0 1-.1 1 .3 1 0 1-.3 1-.2 1 .6 1-.3 1-.5 1 1 1-.3 1 .2 1 .3 1-.5 1 .5 1-1.1 1 .5 1 .2 1-.7 1 .8 1-.4 1-.2 1-.2 1 .6 1-.4 1 .6 1-.7 1 .1 1 .5 1-.8 1 .9 1-.2 1 .7 1-.6 1 0 1-.2 1-.4 1 .4 1 .3 1-.7 1 .2 1 0 1 .5 1-.8 1 .8 1 .1 1-.6 1 .2 1 .4 1-.7 1 .6 1-.4 1 .5 1-.7 1 .3 1 .4 1-.4 1 0 1 .1 1 .4 1-.4 1 .3 1-.6 1 .3 1 0 1-.2 1 .2 1 .3 1-.2 1 0 1 .1 1-.1 1-.4 1 0 1 .5 1-.1 1-.2 1 0 1-.2 1 .2 1 0 1 .2 1-.1 1-.1 1-.2 1 .2 1-.2 1 .6 1-.9 1 .5 1-.2 1 .6 1-.2 1-.2 1 .1 1-.1 1-.5 1 .9 1-.9 1 .2 1 .2 1 .4 1-.3 1 .1 1-.3 1 .6 1-.5 1 .7 1-.6 1-.2 1 0 1 .4 1 0 1 .2 1-.2 1-.1 1 0 1-.4 1 .1 1 .4 1 0 1 .2 1-.6 1 .3 1-.3 1 .7 1-.3 1-.5 1 .2 1 .5 1-.2 1 0 1-.4 1 .1 1 .1 1-.1 1 .3 1 .6 1-.4 1-.4 1 .2 1-.3 1 .1 1 .1 1-.2 1 0 1 .4 1 .3 1-.4 1-.5 1 .1 1 .4 1-.2 1 .1 1-.3 1 .8 1-1.1 1 .1 1 .8 1-.5 1 .2 1-.4 1 .6 1-.6 1 .3 1 .4 1-.1 1-.4 1-.3 1 .5 1 .4 1-.4 1-.3 1 .1 1 .5 1-1 1 .3 1 .4 1-.1 1 0 1 .4 1 0 1-.5 1 .3 1-.3 1 .1 1 .3 1 .1 1-.1 1-.6 1 0 1 .2 1-.3 1 .8 1-.3 1-.3 1 .2 1 .1 1 .5 1-.5 1 0 1 .4 1-.9 1 .2 1 .4 1 0 1-.5 1 .1 1 .4 1-.4 1 0 1 .2 1 1.2 1-1.4 1 .2 1 0 1-.1 1 .2 1 .3 1 0 1-.3 1 .4 1-.2 1-.8 1 .3 1 .3 1 .1 1-.5 1 .1 1 .2 1 .1 1-.9 1 .9 1 0 1-.2 1-.1 1-.2 1 .4 1 .2 1-.1 1-.1 1 0 1 0 1 .2 1-.3 1-.3 1 .3 1-.2 1 .1 1 .3 1 0 1-.1 1 0 1 .3 1 0 1-.2 1-.2 1 .1 1 .1 1 0 1-.2 1-.1 1 .3 1 .6 1-.4 1-.2 1 0 1-.1 1 0 1 0 1 .3 1-.6 1 .9 1-.2 1-.6 1-.1 1 .2 1 .4 1-.4 1-.2 1 .6 1-.5 1 .4 1-.3 1-.2 1 .5 1 0 1 0 1 .2 1 0 1-.6 1 .2 1 0 1-.3 1 .9 1-.9 1-.1 1 .5 1 0 1 .2 1-.2 1-.3 1 .5 1-.5 1 .8 1-.9 1 0 1 1.2 1-.6 1-.5 1 .2 1-.1 1-.5 1 .6 1 .4 1-.5 1 0 1 .2 1 .1 1 .1 1 .5 1-.8 1-.2 1 .5 1-.3 1 .1 1-.4 1 .9 1-.2 1 .3 1-.6 1-.3 1 .6 1-.1 1-.2 1 .4 1-.9 1 .5 1-.5 1 .3 1 .1 1-.4 1 .2 1 .3 1-.1 1 0 1 0 1 .4 1 0 1-.5 1 .5 1 .2 1-.7 1 .5 1-.8 1 .6 1-.4 1 0 1 .3 1 .4 1-.6 1 .4 1-.2 1-.1 1 0 1 .1 1-.1 1 0 1-.2 1 .1 1 .1 1-.2 1 .5 1-.7 1 .7 1-.7 1 .5 1-.2 1-.2 1 .4 1-.1 1 .6 1-.5 1-.4 1 .2 1 .5 1-.8 1 .5 1 .3 1-.5 1 .4 1-.2 1 .3 1-.7 1 .4 1-.4 1 0 1 .4 1 0 1 .4 1 .3 1-.8 1-.4 1 .5 1-.2 1 .6 1-.5 1 .2 1 0 1 .3 1-.6 1-.1 1 .2 1-.3 1 .5 1-.1 1-.4 1 .8 1-.6 1 .7 1-.4 1-.5 1 .2 1 .2 1 .1 1-.2 1 .2 1-.9 1 1 1-.2 1-.3 1 .1 1 .1 1-.2 1 .2 1 0 1 .2 1 0 1-.4 1 .7 1-.7 1 .4 1 .2 1-.4 1-.3 1 .1 1 .2 1 .2 1-.2 1-.1 1 .2 1-.3 1-.2 1 1 1-.3 1 0 1-.3 1 0 1 .1 1-.3 1 .6 1-.3 1 .1 1-.2 1-.2 1 .7 1-.5 1-.3 1 .7 1-.7 1 .6 1-.3 1 .4 1-.6 1-.2 1-.1 1 .6 1-.4 1 .9 1-.6 1-.7 1 1.3 1-.8 1 .4 1-.4 1 .3 1-.1 1 .3 1-.4 1 .6 1-.2 1 .2 1-.4 1 1.7 1-3 1 1.1 1 .6 1-.1 1-.3 1 0 1-.2 1 .5 1 .3 1-.5 1 .1 1-.1 1-.2 1-.1 1 .6 1 0 1-.1 1-.3 1-.3 1 .1 1 .7 1 .2 1-.9 1 .1 1 .2 1-.4 1 .2 1-.2 1-.2 1 .3 1-.1 1 .2 1 0 1-.4 1 1 1-.7 1-.1 1 .5 1-.1 1-.2 1 0 1 .1 1 .4 1-.3 1 .6 1-.3 1-.2 1 .4 1-.1 1-.4 1-.3 1 .5 1-.6 1 .3 1-.3 1 .6 1-.1 1-.5 1 .1 1 .7 1-1 1 .8 1 0 1-.5 1-.4 1 .5 1 .1 1-.5 1 .9 1-1 1 .6 1 0 1 0 1 .1 1-.7 1 .3 1 .3 1 0 1 .5 1-.8 1 .6 1-.9 1 .1 1 .3 1 .1 1-.1 1 .3 1-2.4 1 1.3 1 .2 1 .6 1-.1 1-.1 1-.2 1 .3 1 .3 1-.4 1 .2 1 .4 1-.3 1 .3 1-.3 1-.3 1 .8 1-.2 1 0 1-.6 1 .9 1 0 1-.8 1 0 1 .1 1 .2 1-.5 1-.1 1 1 1-.4 1-.1 1-.5 1 .2 1 .6 1-.7 1 .2 1 .3 1 0 1 .1 1-.1 1 .1 1 .2 1-.5 1 .2 1 0 1 0 1 0 1 .2 1-.2 1-.4 1 .6 1-.4 1 .1 1 .4 1-.2 1 .2 1-.4 1 .2 1 0 1-.2 1 .5 1-.7 1 .4 1-.1 1 0 1-.1 1 .4 1-.3 1 .2 1-.1 1 .6 1-.7 1-.6 1 .5 1-.1 1 .5 1-.2 1-.5 1 .5 1 0 1-.5 1 .2 1 .1 1 .5 1-.5 1 0 1 .2 1-.2 1 .1 1-.1 1 .3 1 .2 1-.3 1-.2 1 0 1 .3 1 .2 1-.5 1-.2 1 .4 1-.8 1 .9 1-.3 1-.1 1 0 1 .2 1-.4 1 .3 1 0 1 .1 1-.5 1 .4 1 0 1-.2 1-.6 1 1.3 1-.9 1 .3 1 0 1 .6 1-.4 1 .1 1-.5 1 .5 1 0 1 .1 1 0 1-.4 1 .3 1-.1 1 0 1-.1 1 .2 1 .1 1 0 1-.1 1-.3 1 .4 1-.4 1 .2 1 .3" fill="none" stroke="#008000" stroke-width="2.75" stroke-linejoin="round"/>
<path d="M138.6 450.7l1 .5 1-.4 1 0 1 .7 1-.7 1 .4 1 .1 1-.5 1 .4 1 .4 1-.6 1-.2 1 .4 1 0 1 .3 1-.2 1-.3 1-.2 1 .4 1-.6 1 .1 1 1.8 1-.8 1-1.1 1 1.9 1-.2 1-2 1 1.3 1-.8 1 .5 1-.1 1-.3 1-.1 1 .9 1-.6 1-.2 1-.1 1 .1 1 .2 1-.2 1 .1 1-.3 1-.2 1 .6 1 .2 1-.7 1 .2 1 .4 1 .2 1-.4 1 0 1 .6 1-.3 1-.5 1 0 1 .2 1 .1 1-.3 1 .3 1-.2 1 .2 1 1.1 1-.6 1-1 1-.9 1 1.7 1-.4 1-.1 1 .4 1-.6 1 .4 1 .3 1-.6 1-.2 1 .3 1 .2 1-.3 1 .5 1-.1 1-.5 1 .1 1 .4 1 .2 1-.4 1 .2 1 .2 1-.3 1-.7 1 1 1-.3 1-.2 1 .7 1-.7 1-.1 1 .2 1 .5 1-1 1 .5 1-.1 1 .5 1-.6 1 .8 1-.7 1 0 1-.4 1 .2 1 .5 1-.1 1-.3 1 .7 1 0 1-.7 1 .2 1-.1 1 .1 1 .2 1-.3 1 .2 1 .4 1-.7 1 .3 1 .3 1-.1 1-.5 1 .5 1-.3 1-.1 1 .3 1-.1 1-.7 1 .5 1 .2 1-.7 1 .8 1 .1 1-.3 1-.2 1-.2 1 .8 1 .3 1-.2 1-.2 1 .2 1-.6 1-.1 1 .2 1-.1 1 .3 1 .3 1-.1 1-.4 1 1.9 1-.4 1-1.3 1 0 1-.4 1 .3 1-.1 1-.2 1 .3 1-.1 1 .1 1 .2 1 .2 1-1.5 1 .9 1 .3 1 .1 1-.1 1 .6 1-.8 1 .3 1-.3 1 .9 1-.4 1-.5 1-.5 1 1.1 1-.9 1 1 1-.6 1-.8 1 .4 1 .5 1 .2 1 .1 1 0 1-.9 1 .2 1-.2 1 .3 1 .1 1 .3 1 .1 1-.1 1 1.3 1-1.4 1-.2 1-.8 1 .9 1-.2 1 .3 1 .2 1-.4 1 .2 1 0 1-.6 1 .2 1 .5 1-.5 1 .1 1-.1 1 0 1 .6 1-.3 1 .1 1 0 1-.4 1 .1 1 .5 1-.5 1 .7 1-.8 1 .2 1 .3 1-.4 1-.1 1 .4 1 0 1 1 1-3 1 1.8 1-.3 1 1.5 1-1 1-.7 1 1 1-.8 1 .5 1 0 1-.1 1 0 1-.4 1 .6 1-.4 1-.1 1 .2 1 .2 1-.5 1 .5 1-.2 1-.1 1 0 1 .3 1-.4 1 .3 1 0 1-.2 1 .2 1 0 1-.6 1 .4 1 .6 1-.6 1-.1 1 1 1-.3 1-.4 1 .1 1 0 1-.8 1 .9 1-.6 1 0 1 1.1 1-1.2 1 .6 1 0 1-.4 1 .6 1-.3 1-.1 1-.1 1 .2 1 .3 1 0 1 .1 1-.3 1 .1 1 .3 1-.9 1 .9 1-.7 1 .1 1 .3 1-.1 1-.5 1 1 1-.9 1 .1 1 .3 1 .3 1-.8 1 0 1 .3 1-.1 1-.1 1 .2 1 .4 1 .2 1-.9 1 1 1-1 1 .1 1 .3 1 0 1 0 1 .1 1-.2 1 0 1 0 1 0 1 .2 1-.4 1 .3 1 .2 1-.4 1 .4 1-.9 1 1 1-.4 1 .3 1-.3 1-.5 1 .9 1-.5 1 .1 1-.1 1 .3 1 .3 1-.6 1 .6 1-.5 1 .3 1-.2 1-.2 1 .3 1-.4 1 .4 1 .2 1-.6 1 0 1 0 1 .7 1-.8 1 .3 1 .4 1-.3 1 .2 1-.2 1 .7 1 1.4 1-3.8 1 1.9 1 0 1-.3 1 0 1-.2 1 .4 1-.5 1-.2 1 .7 1-.3 1 .3 1 .2 1-.8 1 .5 1-.1 1-.4 1 .5 1 .3 1-.3 1-.4 1 .7 1-.6 1-.3 1 1.2 1-.8 1 .2 1 0 1 .7 1-.5 1 .6 1-2 1 2.7 1-1.6 1-.3 1 .2 1-.4 1 .1 1 .9 1-.1 1-.2 1 0 1-.3 1-.1 1 .2 1 0 1 .2 1 .1 1-1 1 1.4 1-.7 1-.3 1 .3 1 .2 1-.1 1 .4 1-.4 1 .1 1-.5 1 .8 1-.3 1-.6 1 .3 1 .6 1-.3 1-.4 1 .5 1-.2 1-.3 1 .3 1 .1 1 0 1-.6 1 .4 1 .5 1-.3 1-.6 1 .4 1 .4 1-.4 1 .2 1-.2 1-.1 1 0 1-.2 1 .2 1 .4 1-.1 1-.5 1 .9 1-2.1 1 .3 1 0 1 .4 1-.2 1 .7 1 .6 1-.2 1-.2 1 .2 1-.6 1 1 1-.4 1 .4 1-.5 1 .5 1-.3 1-.2 1-.2 1 0 1 .5 1-.5 1 .1 1-.1 1 0 1 .3 1-.2 1 .5 1-.3 1 .2 1-.2 1-.3 1 .4 1-.1 1 0 1-.3 1-.4 1 1.1 1 .1 1-.6 1 .1 1-.7 1 .6 1 .3 1-.4 1-.2 1 .2 1 .4 1-.1 1 .1 1 .2 1-.2 1-.2 1 .5 1-.4 1 .2 1-.4 1 .7 1-.3 1-.5 1 .2 1 .1 1 0 1-.1 1 .4 1-.6 1 0 1 .5 1-.7 1 .8 1-.4 1 .3 1-.1 1-.4 1 .3 1 .1 1 0 1-.1 1-.1 1-.3 1 .4 1 0 1 .1 1 .1 1-.1 1-.6 1 .5 1 .4 1-.7 1 .3 1-.1 1 0 1 0 1-.1 1-.2 1 0 1 .2 1-.3 1 0 1 .1 1 .6 1-1.1 1 .8 1-.1 1-.2 1-.3 1 .5 1 .6 1-.5 1 .5 1-.6 1-.1 1 .3 1 .1 1 .2 1-.4 1-.1 1 .5 1-.6 1 .2 1-.7 1 .7 1 .2 1 0 1 .2 1-.2 1-.4 1 .2 1 .2 1-.1 1 .4 1-.7 1-.1 1 .5 1-.4 1-.4 1 .4 1 .3 1 .7 1-.7 1-.2 1-.1 1 .8 1-.3 1-.5 1 .8 1-.6 1 .1 1-.3 1 .4 1-.1 1 .2 1-.3 1 .4 1-1.1 1 .7 1 .1 1 .4 1-.4 1 0 1 .1 1-.5 1 .4 1-.3 1-.1 1 .2 1 0 1-.1 1 .1 1-.1 1 0 1-.2 1 .5 1 .6 1-.6 1-.1 1 .2 1-.5 1-.1 1 .9 1-.3 1-.5 1 .5 1 .1 1-.4 1 .2 1 .4 1-.3 1 .1 1-.2 1-.3 1-.2 1 .2 1 .2 1-.7 1 1 1-.1 1 1.4 1-.6 1-.4 1-1.2 1 .8 1-.6 1 .1 1-.1 1 .3 1 .4 1-.4 1 .2 1 .2 1-.4 1 .4 1-.4 1 .5 1-.6 1-.2 1 .4 1-.6 1-.7 1 2.1 1-.7 1-.2 1-.1 1 .2 1 .7 1-.4 1-.3 1-.1 1-.2 1 .2 1-.2 1 .3 1-.2 1 .4 1-.3 1-.1 1 .1 1 .1 1 .3 1-.5 1 .5 1-.4 1 0 1 .4 1-.1 1-.6 1 .3 1 .2 1-.7 1 .7 1 .2 1-.5 1 .3 1 .4 1 0 1-.7 1 .4 1 0 1-.3 1 .1 1 .2 1 0 1-.3 1-.2 1 .5 1 .2 1-.4 1-.1 1-.4 1 1 1-.5 1 .1 1-.4 1 .6 1-.4 1-.1 1 .3 1-.4 1 .2 1-.1 1 0 1 .1 1-.4 1 .8 1-.6 1 .2 1 .2 1 1.2 1-1.2 1 .7 1 0 1-1 1 0 1 .2 1-.1 1 .4 1 0 1-.2 1-.6 1 .5 1 .7 1-.4 1-.4 1 .4 1-.3 1 .1 1-.1 1 .5 1-.3 1-.2 1-.4 1 .7 1 0 1-.1 1-.1 1 .1 1-.2 1-.4 1 .1 1 .2 1 .1 1 .1 1 0 1 .6 1-.7 1 .3 1-.1 1-.4 1 .2 1-.6 1 .6 1-.5 1 .6 1-.3 1-.1 1 .5 1-.2 1-.2 1 .2 1-.2 1-.2 1 .5 1 .3 1-.4 1-.6 1 .5 1 .3 1-.2 1-.1 1-.1 1 .4 1 .1 1-.7 1 1.2 1-.9 1 0 1-.1 1 .1 1-.5 1 1 1-.5 1 .8 1-.8 1-.4 1 .1 1 .7 1 0 1-.4 1-.3 1 .2 1-.2 1 0 1 .3 1 .1 1-.2 1 .6 1-.3 1 .3 1-.7 1 .2 1-.1 1 .2 1-.1 1 .2 1-.1 1 0 1 .3 1-.8 1 .4 1 .4 1-.2 1-.3 1 0 1-.2 1 .2 1 .5 1-.2 1 0 1-.4 1 .3 1 0 1-.1 1-.4 1 .7 1 0 1-.3 1 .2 1-.7 1 .7 1-.5 1 .1 1 .6 1 0 1-.4 1 .4 1-.7 1 .1 1 0 1 .1 1 .4 1-.7 1 .6" fill="none" stroke="#000000" stroke-width="2.75" stroke-linejoin="round"/>
<path d="M138.6 483.2l1-.4 1-.2 1 0 1-.2 1 .2 1 .5 1-.8 1 .2 1 .5 1-.6 1 .3 1-.3 1 .4 1-.9 1 .9 1-.2 1 0 1-1.1 1 2.6 1-1.4 1-.5 1 .2 1-.1 1 .5 1 .1 1-.3 1 .2 1-.2 1 0 1 .3 1 .2 1-.2 1-.4 1 .5 1-.8 1 .8 1 .2 1-.4 1 .1 1-.1 1-.1 1-.3 1-.2 1 .7 1-.1 1-.5 1 .1 1 .5 1 .1 1 .2 1-.1 1-.7 1-.1 1 .5 1-.3 1 .3 1 .3 1 .1 1-1 1 .6 1-.5 1 0 1 .8 1-.9 1 0 1 .5 1-.4 1 .2 1 0 1 0 1 .6 1-.5 1 0 1 .1 1 .3 1-.6 1 .1 1-.4 1 1.1 1-.8 1 .5 1 0 1-.4 1 0 1 .1 1 .4 1-.8 1 .5 1 .4 1-.4 1 .5 1-.8 1 .3 1 .3 1-.4 1-.7 1 .4 1 .3 1 .4 1-.1 1-.4 1 .4 1-.6 1 .7 1-.5 1 .4 1-.5 1 .3 1 .2 1-.7 1 .5 1-.3 1 .3 1-.1 1 .4 1-.5 1-.2 1 .6 1-.2 1-.2 1-.2 1 .2 1 .5 1 0 1-.3 1 .2 1-.4 1 .4 1 .1 1-.6 1 .1 1 .2 1 0 1 .4 1-.1 1-.9 1 .9 1 .1 1-.5 1 0 1 .2 1 0 1-.2 1 .2 1 .1 1-.3 1 .3 1-.2 1 0 1 .6 1-.5 1 .1 1-.1 1-.4 1-.1 1 .9 1-1.1 1 .3 1 .1 1 0 1-.1 1 .4 1 .2 1-.6 1 .2 1-.2 1 .3 1 .6 1-.3 1-.7 1 .3 1 .3 1-.1 1 .4 1-.4 1-.4 1 0 1 .1 1-.2 1-.6 1 .8 1 .5 1-.1 1-.4 1 .3 1 0 1 .2 1 .1 1-.2 1-.5 1 .4 1-.4 1 .4 1-.4 1 .3 1-.2 1 .3 1-.1 1-.4 1 .2 1 .4 1-.7 1 1.1 1-1 1-.3 1 1 1-.7 1 .1 1 .1 1 0 1 .1 1-.4 1 .5 1-.4 1 .3 1-.2 1-.1 1 0 1 .2 1-.1 1 .5 1 .2 1-.4 1 0 1 .4 1-.1 1-.2 1-.3 1 .5 1-.1 1-.7 1 .7 1-.6 1 1 1-1.3 1 .8 1-.3 1 .3 1 0 1-.4 1 .2 1 .4 1-.4 1 .2 1-.2 1 .4 1-.3 1 0 1-.3 1 .4 1-.2 1 1 1-1.4 1 .4 1-.4 1 .3 1 0 1 .6 1-.4 1-.1 1-.2 1 .2 1 .1 1 .4 1-.2 1-.6 1 .6 1-.2 1-.1 1 .7 1-.6 1 0 1 .1 1-.6 1 .4 1-.5 1 .3 1 .4 1-.2 1-.1 1-.1 1 .3 1-.5 1 .8 1-.5 1 .1 1 .6 1-.1 1-.5 1-.2 1 0 1 0 1-.2 1 .3 1 0 1-.2 1 .4 1 0 1 .4 1-.9 1 0 1 0 1 .5 1 .4 1-.7 1 .1 1-.2 1 .5 1-.1 1-.4 1 .5 1 .2 1-.3 1 .2 1-.2 1-.2 1 .4 1-.1 1-.1 1 .1 1-.4 1 0 1 .2 1 .2 1 0 1 0 1-.1 1 0 1 .1 1-.3 1-.4 1 .5 1 .2 1 0 1 .2 1-.4 1 .6 1-.5 1 .3 1-.2 1-.1 1-.1 1-.1 1 .1 1 .1 1 .1 1 .5 1-.5 1-.2 1 .5 1-1.1 1 .3 1 .3 1 .2 1-.3 1 .3 1 .2 1-.7 1 .4 1 .5 1-.7 1 .6 1-.4 1 0 1 .1 1-.3 1 .5 1-.6 1 .5 1 0 1-.4 1 .4 1-.4 1 .4 1-.5 1 .1 1 .3 1-.6 1 .9 1-.7 1 .7 1-.5 1 0 1-.1 1 0 1 .7 1-.5 1-.1 1 .1 1-.2 1 .4 1-.3 1 .2 1-.7 1 .5 1-.1 1 .4 1 .1 1-.4 1 .1 1 .2 1-.4 1-.1 1-.2 1 .5 1-.2 1-.1 1 .2 1 .1 1 .1 1 0 1-.1 1-.5 1 .4 1 .1 1 0 1-.1 1 .1 1-.5 1 0 1 .2 1 .1 1 .2 1-.4 1 0 1 .4 1 0 1 .1 1-.6 1 0 1 .3 1-.4 1 .9 1-.3 1-.5 1 .7 1-.2 1-.2 1 0 1 0 1 .1 1-.5 1 .1 1 .3 1-.1 1 .6 1-.7 1 .5 1 .1 1-.2 1-.2 1 0 1 .1 1 .2 1-.5 1 .8 1-.4 1-.4 1 .3 1-.4 1 .9 1 0 1-1 1 .4 1-.1 1 .5 1 .1 1 0 1-.5 1-.6 1 .9 1 .1 1-.4 1 .7 1-.5 1-.3 1 .5 1 .6 1-1.1 1 .4 1-.2 1-.3 1 .2 1 .1 1 .1 1 .4 1-.7 1-.1 1 .2 1 .5 1-.3 1 .1 1-.5 1 .6 1-.5 1 .2 1-.1 1 .1 1 .2 1 0 1-.6 1 .4 1 .1 1-.8 1 .6 1-.1 1 .5 1-.1 1 0 1-.2 1-.1 1 .4 1-.3 1 .4 1-.7 1 .2 1 0 1-.1 1 .3 1 .2 1-.4 1 .2 1-.5 1 .4 1 .2 1 0 1 .1 1-.6 1 .5 1-.5 1-.2 1 1.1 1-.5 1 .2 1-.2 1 .3 1-.5 1-.1 1 .1 1-.2 1 .5 1 0 1 .3 1-.1 1-.3 1 .3 1-.3 1-.2 1 .2 1 .2 1-.1 1-.9 1 .3 1 .6 1-.4 1 .7 1-.7 1 .6 1-.2 1 .4 1-.2 1-.4 1 0 1 .1 1-.2 1 .9 1-.6 1-.3 1 .3 1 .5 1-.7 1 .1 1-.5 1 .5 1-.3 1 .5 1-.1 1-.3 1 .3 1 .5 1-2.3 1 1.9 1 0 1-.9 1 .9 1-.5 1 .6 1-.3 1 .2 1 .2 1-.3 1 0 1-.1 1-.5 1 .5 1 .2 1-.4 1-.3 1 .3 1-.1 1 .2 1-.1 1 .2 1 0 1 .1 1 .4 1-.6 1-.1 1 .1 1-.3 1 .3 1-.4 1 .7 1 .2 1-.5 1-.2 1-.1 1 .1 1 .3 1 .3 1-.9 1 .4 1 .4 1 0 1 .4 1-.7 1-.2 1 .3 1-.6 1 .7 1 0 1-.1 1 .1 1-.4 1-.2 1 1 1-.2 1 .1 1-.2 1 0 1 .2 .9-1" fill="none" stroke="#ff0000" stroke-width="2.75" stroke-linejoin="round"/>
<path d="M780.5 482.1l.5 1.2 .5 .4 .5-.6 .5-.4 .5-.8 .5 .1 .5 0 .5 1.2 .5-1 .5 0 .5 .4 .5 .2 .5-.4 .5 .3 .5 .1 .5-.1 .5-.4 .5 .5 .5 .4 .5-.4 .5-.4 .5-.4 .5-.6 .5 .5 .5 1.2 .5-.2 .5-.6 .5 .1 .5 1.1 .5-1 .5 .3 .5 .2 .5-.7 .5-.2 .5 1.7 .5-.4 .5 .1 .5-2 .5 1.4 .5 .4 .5-1.7 .5 .8 .5 1.1 .5-.9 .5-.3 .5-.1 .5 .3 .5 1 .5-1 .5 0 .5 .1 .5 1.1 .5-.4 .5-1.3 .5 .2 .5 .7 .5-.6 .5-.1 .5-.5 .5 2.3 .5-1.8 .5-.3 .5 .6 .5 .8 .5 0 .5-.9 .5 .5 .5 .3 .5 .2 .5-.9 .5 .6 .5-.8 .5-.5 .5 .4 .5 1.3 .5 .5 .5-1.4 .5-.9 .5 1 .5 .8 .5-.9 .5-.7 .5 1.1 .5-.1 .5-.5 .5-.3 .5 1.2 .5 0 .5-1.5 .5 .1 .5 1 .5 .5 .5-.3 .5-.2 .5-.8 .5 1.2 .5-.4 .5-1 .5 .2 .5 .9 .5-.2 .5-.8 .5 1.5 .5 .1 .5-1.6 .5 .2 .5 .2 .5 .5 .5-1.2 .5 .7 .5 1.1 .5-1 .5-.7 .5 1.2 .5 1.1 .5-.8 .5-1.1 .5-.2 .5 .4 .5 .7 .5 0 .5-.8 .5 0 .5 1.6 .5-1.2 .5-1.5 .5 2 .5 3.1 .5-9 .5-2.6 .5 10.2 .5 7.3 .5-5.3 .5-4.8 .5 .8 .5 .2 .5-1.6 .5-.9 .5-1 .5 2.4 .5 3.3 .5-.4 .5-1.1 .5 1.1 .5-2.9 .5-3.9 .5 1.1 .5 1.8 .5 .3 .5 3.5 .5 4.4 .5-5.5 .5-3 .5 3.7 .5 .4 .5-6.6 .5 .3 .5 6.5 .5-.4 .5-4.2 .5 3.2 .5 1.6 .5-3.3 .5 .1 .5 2.5 .5-3.9 .5-.7 .5 4.7 .5-2.1 .5-4.7 .5 5.7 .5 4.2 .5-3.3 .5-2.7 .5 2 .5-1.1 .5-2.9 .5 1.4 .5 1.5 .5-.8 .5 2.3 .5 4.3 .5-3.5 .5-4.2 .5 1.4 .5-.4 .5-4 .5 2 .5 4.9 .5 1 .5-1.5 .5 .8 .5-.6 .5-2.9 .5-2.6 .5 1.9 .5 .9 .5-.7 .5 2.3 .5 3.1 .5-.4 .5-2.6 .5-3 .5 .8 .5 2.2 .5-2.7 .5-1.6 .5 4.8 .5 4.1 .5-5.2 .5-3.5 .5 4.4 .5 3.9 .5-4.8 .5-4 .5 1.2 .5 4.2 .5-1.2 .5-2 .5 .5 .5 4.1 .5 1.5 .5-4.1 .5-3 .5 2.8 .5 .7 .5-6.6 .5 .6 .5 7.9 .5 2.1 .5-3.8 .5-.4 .5 .5 .5-1.2 .5-1.7 .5 .8 .5-.4 .5 .4 .5 2.5 .5 2.8 .5-1.4 .5-4 .5-.5 .5 .5 .5-1.1 .5-.1 .5 2.7 .5 1.9 .5-1.1 .5-1 .5-.1 .5 2.1 .5-2 .5-2.6 .5-1.4 .5 3.3 .5 3 .5-.8 .5-3 .5 1.5 .5 .8 .5-1.4 .5-.6 .5 1.3 .5 .9 .5-3.6 .5-.9 .5 4.4 .5 2.9 .5-3.1 .5-1 .5 1.4 .5-1.7 .5-1.3 .5 .3 .5-.2 .5 .1 .5-.2 .5 1.6 .5 2.4 .5-1 .5-3.5 .5-3.8 .5 .5 .5 2.2 .5 1.1 .5-.8 .5 2.5 .5 .6 .5-1.6 .5-1.2 .5-.5 .5-1 .5-.9 .5 .5 .5 3.8 .5 2.5 .5 .8 .5-1.7 .5-1.9 .5-.3 .5 1.5 .5 1.3 .5-2.1 .5-1.6 .5 2 .5 2.3 .5-.7 .5-2 .5-.7 .5-.2 .5-.3 .5-1.8 .5-.7 .5 2.7 .5 .8 .5-5.7 .5 1.2 .5 8.2 .5 .2 .5-6.7 .5-1.6 .5 3.4 .5 .4 .5-1 .5 1.8 .5 .3 .5 .7 .5 1.2 .5-.3 .5-1.7 .5 .1 .5 .2 .5-3.6 .5-.9 .5 9.5 .5 .7 .5-2.9 .5-1 .5 .9 .5-3 .5-1.3 .5 1.8 .5-1.1 .5-2.6 .5 2.2 .5 2.9 .5-2.3 .5-3 .5 .5 .5-1.5 .5-.7 .5 3 .5 2 .5-1.8 .5-.9 .5 .7 .5 1 .5 .8 .5 .2 .5-2.7 .5-2.1 .5 3.1 .5 2 .5-1 .5-1.5 .5 1.8 .5 0 .5 .7 .5 1.5 .5-.9 .5-2.2 .5-1.4 .5 2 .5 1.2 .5 1.5 .5 2.1 .5-3.7 .5-1.7 .5-.1 .5-.9 .5-.9 .5 .5 .5 .3 .5-.8 .5 1.8 .5 2.4 .5-.2 .5-5.2 .5-.3 .5 3.6 .5 .1 .5-.7 .5 2.9 .5-1.2 .5 1.3 .5 1.9 .5-1.1 .5-2.9 .5 1.1 .5 0 .5-3.2 .5-.5 .5 5 .5-1.2 .5-7.1 .5-.8 .5 2 .8 2.2 1.1-.4 .5-2.8 .5-4.1 .4-3.9 .5-2.4 .3 .2 .3 .2 .3 3.2 .3 2.4 .3 2.8 .3 5 .4 4.7 .3 3 .3 2.3 .4 3 .4 .5 .4 3.7 .4 3.3 .4 3.7 .5 2.8 .3 3.1 .4-1.3 .3-3.8 .3-6.2 .3-2 .3-2.9 .3-2.8 .4-2.9 .3-2.6 .3 .1 .3-1.9 .3-2.2 .3-.7 .4-5.3 .3-3.9 .3-6 .3-3.4 .2-2.9 .2-1.1 .2-3.4 .3-.2 .3 2.4 .5 2.6 .4 2.4 .4 2.6 .4 2.4 .3 1.7 .3 4.3 .3 3.7 .3 6.5 .3 8.1 .3 7 .3 3.9 .4-3.4 .3-4.3 .3-7.4 .3-3.6 .3 2.4 .2 6.5 .2 6.3 .2 2 .3-3.4 .3-6.8 .3-8.7 .4-4.8 .5-.6 .6 1.6 .5 1.8 .3-1 .4-1.3 .3-3.4 .3 1.7 .3 .1 .3 3.3 .3 3.6 .3 1.8 .4-.1 .3-2.4 .2-.9" fill="none" stroke="#ff0000" stroke-width="2.2" stroke-linejoin="round"/>
<path d="M138.3 515.9l.2 1.7 .2 2.5 .2 2.1 .3 .7 .2-1.9 .2-3.7 .3-3.6 .4-2 .5 .4 .6 1.6 .6 2.3 .7 2 .6 2.1 .8 2.3 .7 1.9 .6 .7 .6-1.1 .6-2.2 .5-2.9 .4-2.9 .4-3.5 .3-4.1 .3-3.7 .4-1.9 .5 .4 .5 2 .6 2.7 .5 2.5 .5 2.8 .5 3.2 .5 2.5 .6 .6 .6-2.5 .7-4.6 .8-4.7 .7-2.8 .6-.2 .7 1.4 .7 2.1 .8 2.2 .8 2.9 1 3.7 .9 3.1 .7 1.5 .5-1.4 .4-3.2 .2-3.4 .3-1.8 .3 .8 .3 2.3 .4 2.3 .4 .9 .6-1.4 .7-2.8 .8-2.7 .7-1.4 .7 .5 .7 1.6 .7 2.2 .7 1.9 .5 2.1 .6 2.5 .5 1.9 .5 .5 .5-1.7 .5-3.1 .5-3.5 .6-2.9 .6-2.2 .7-2.2 .8-1.4 .6-.4 .6 1.3 .5 2.6 .5 2.9 .5 2.2 .7 1.8 .7 1 .7 0 .5-1.3 .4-2.3 .5-2.3 .4-1.1 .5 .4 .5 1.3 .5 1.9 .5 2 .4 2.7 .4 3.4 .5 3 .5 1.3 .6-.8 .7-2.3 .7-3 .8-2.9 .7-3.1 .7-3.7 .7-3.2 .6-1.8 .6 .4 .4 1.9 .5 2 .6 .5 .8-1.9 .9-3.4 1-3.3 .8-1.8 .8 .5 .7 1.8 .7 2.3 .6 1.7 .7 .6 .5 .3 .6 1.9 .4 3.1 .4 4.3 .4 4.7 .5 4.6 .5 5 .5 5.5 .5 4.6 .6 2.2 .5-.7 .5-2.8 .5-4.3 .5-5.4 .6-7.3 .5-9.1 .6-8.9 .4-6.7 .4-3.9 .3-2.4 .3-.7 .4 .8 .5 3 .5 5 .6 5.7 .5 5 .4 4.7 .5 4.9 .4 3.9 .4 1.9 .4-.8 .4-2.8 .5-3.8 .5-3.8 .5-4.4 .6-5.3 .6-4.6 .6-2.4 .6 .8 .6 3 .7 3.8 .7 3.6 .8 3.4 .9 3.8 .9 3.3 .8 2 .7 0 .6-1.2 .5-1.9 .6-1.8 .6-2 .5-2.5 .6-2.1 .5-1 .6 .4 .6 1.5 .6 1.9 .6 1.7 .5 1.6 .4 1.7 .5 1.5 .4 .8 .8-1.3 .9-1.5 .6 1.2 .8 1.9 .7 .4 .4-1.7 .4-2.7 .5-3 .5-2.4 .5-1.6 .6-1.4 .6-.9 .6-.2 .6 .7 .5 1.6 .5 1.6 .5 .9 .7-1.2 .7-.8 .5 1.1 .5 1.8 .5 2.2 .6 2.5 .6 3.3 .5 4.1 .6 3.5 .7 1.6 .6-.9 .7-2.6 .6-3.7 .6-3.9 .4-4.6 .4-5.5 .4-5.3 .4-4.1 .6-2.7 .5-1.8 .6-1 .6 0 .4 .6 .4 1.5 .4 2.5 .4 3.7 .5 5.7 .6 7.3 .6 7.4 .4 6 .3 4.6 .2 3.9 .2 2.6 .3 .8 .4-1.4 .4-3 .5-4.6 .5-5.6 .5-8.1 .6-10.1 .5-9.7 .5-6.9 .7-5.1 .7 2.3 .4 4.3 .6 6.4 .5 7 .6 5.9 .5 5 .5 4.7 .5 3.6 .5 1.3 .6-1.6 .5-4 .5-4.8 .5-4.2 .5-3.7 .5-3.9 .4-3.2 .4-1.7 .5 .1 .4 1.4 .4 2.4 .4 3.1 .5 4.6 .5 6.2 .6 5.5 .5 3.2 .5-.5 .5-2.8 .6-3.6 .5-2.9 .5-2 .5-1.9 .6-1.5 .5-.8 1 .3 1.1 1.7 .5 1.1 .5 1.4 .5 1.5 .5 1.6 .6 1.9 .6 2.2 .5 2.1 .4 1.5 .6 .7 .4-3.8 .5-5.5 .6-5.4 .6-3.4 .7-.5 .7 1.2 .7 2 .7 1.4 .7 1.3 .7 1.2 .7 .3 .5-.9 .5-1.7 .5-1.5 .5-.1 .6 2.5 .5 4.1 .5 3.8 .5 1.5 .6-2.3 .5-4.6 .5-4.8 .5-2.9 .5-.6 .6 .8 .5 1.7 .5 2.2 .5 3.4 .5 4.5 .6 4.2 .5 2.5 .5 .5 .5-.8 .6-1.9 .5-2.6 .5-3.8 .5-4.9 .6-5.1 .5-4.3 .4-3.8 .5-3.5 .4-2.7 .5-1.1 .4 .8 .4 2.5 .4 3.2 .4 3.2 .5 3.4 .4 3.9 .4 3.7 .4 2.9 .5 2 .4 1.5 .5 .9 .4 .5 .7-1.3 .7-1.5 .6 .4 .6 1 .6 1.4 .5 1.7 .4 2.2 .4 1.6 .4 0 .4-2.3 .3-4 .3-4.5 .4-3.8 .4-3.2 .4-3.1 .4-2.4 .5-1 .4 .7 .4 2 .5 2.8 .5 2.8 .5 3.5 .6 4.2 .7 3.7 .5 1.9 .5-.8 .4-2.5 .5-3.1 .4-2.7 .5-2.2 .6-2.3 .5-1.9 .5-.8 .5 .6 .6 1.6 .5 2 .5 1.6 .5 1.4 .5 1.5 .5 1 .6 .3 .6-1 .6-1.8 .7-2 .6-1.5 1.2-1.3 1.2 .6 .6 2.1 .8 3 .7 3 .6 1.7 .6-.1 .5-1.2 .5-1.6 .5-1.3 1-.9 .9-.8 .9-1.1 .5-1.4 .4-1.8 .4-1.6 .4-.7 .6 .4 .6 1.6 .6 2.1 .5 2.5 .4 3.1 .5 2.8 .4 1.4 .4-.9 .4-2.5 .4-2.5 .5-1.1 .5 1.2 .5 2.5 .5 2.8 .6 1.9 1.8 .7 .4-3.6 .4-5.1 .4-5.6 .4-4.5 .5-3.8 .6-3.4 .5-2.5 .5-.8 .5 1.7 .5 3.5 .4 4.3 .4 3.8 .5 3.3 .4 3.4 .4 3.1 .4 2.7 .5 2.5 .5 2.3 .6 1.5 .5-.1 .5-2.2 .4-4 .5-4.5 .4-3.9 .4-3.4 .4-3.4 .4-2.5 .5-.7 .5 2.5 .5 4.7 .5 4.8 .6 2.9 .5-.4 .5-2.3 .5-2.3 .5-.6 .6 2.2 .5 3.8 .5 4.1 .5 3.2 .5 2 .4 1.6 .5 .9 .4-.1 .6-1.6 .6-2.7 .6-3.1 .6-2.6 .5-1.9 .5-1.8 .5-1.4 .6-1.2 1.4-.2 1.4-1.2 .6-3 .7-4.3 .6-3.9 .6-2 .5 .8 .5 2.6 .5 3.3 .4 3.1 .5 3.1 .4 3.5 .5 3 .4 1.5 .5-.6 .4-2.1 .5-2.5 .4-1.8 .9-1.9 .8 .5 .5 2.4 .5 3.5 .6 3.7 .5 3 .5 2.4 .4 2.2 .5 1.3 .4-.4 .5-2.6 .5-4.5 .5-5.1 .5-4.5 .4-4.2 .5-4.4 .4-3.5 .5-1.8 .4 .8 .5 2.6 .4 3.4 .5 3 .4 2.7 .5 3 .5 2.5 .5 1.5 .6-.2 .7-1.4 .6-1.7 .6-.9 .8 .2 .7 1 .6 1.6 .5 2.2 .4 3 .5 2.5 .4 .7 .4-2.1 .4-3.9 .4-4.4 .5-3.6 .5-2.5 .5-2.3 .6-1.6 .5-.5 .5 1 .4 2.3 .5 2.7 .4 2.3 .3 2.1 .3 2.2 .3 1.8 .5 .9 .6-.5 .8-1.4 .9-1.6 .7-.7 .8 .7 .6 1.6 .7 1.4 .7 .5 .7-1.1 .7-2 .7-2.2 .7-1.7 1-1.5 .9-1.1 .9 .6 .6 2.5 .5 3.9 .5 3.7 .5 1.7 .4-1.3 .5-3.1 .4-3.7 .5-3.1 .5-2.3 .6-2.3 .7-1.7 .5-.6 .6 1 .5 2.2 .5 2.6 .5 2.5 .7 2.5 .9 2.6 .7 2.3 .5 1.7 2.9-10.3 1.3 13.1 1.8 7.4 2-25.6 2.1-20.5 1.8 30.5 1.7 31.1 2-18 1.8-23.7 1.1 8.2 .9 7 1.5-32.4 1.5-18.8 1.3 69.3 1.3 55.1 1.5-82.6 1.6-82.6 1.6 54.9 1.3 69.1 .8-21.9 .6-30.1 .6 35.3 .8 23.2 1.2-84.8 1.3-63.6 1.4 116.1 1.5 111.8 1.4-83.6 1.4-98.8 1.2 49.1 1.1 56.9 1-59.9 .9-60.6 1.1 48.1 1.1 52.8 1.1-40.9 1.1-42.4 1 46 .9 43.3 1-58.2 .9-47.1 .9 90.6 .9 88.3 1.1-56.4 1.1-66.7 .6 51.1 .7 46.1 1.2-85.9 1.3-77.2 1.1 82.2 1.1 84.7 1.1-70.1 1.1-73.2 .9 73.9 .8 68.8 1-92.5 1.1-91.5 1.1 71.7 1.1 79.4 .8-58.5 .8-64.6 .9 48.6 .9 53.5 .9-42.6 .9-42 1.2 54.9 1.2 52 1-52.8 1-55.1 .9 40.9 .9 47.7 1-25.3 .8-28.6 .5 36 .5 26.5 1.3-72.4 1.3-57.7 .8 92.1 .8 88.5 1.1-74.5 1.1-84.9 .8 42.7 .8 54.6 .7-32.8 .8-30.7 .9 62.8 1 50.8 .8-84.1 .9-75.4 1.1 93.4 1 90.1 .8-88.5 .8-97.1 .9 51.1 .9 63.4 1-44.5 1-43.5 .8 63.6 .8 58.2 1-67.2 1.1-63.4 1 78.3 .9 73.7 .9-81.5 .8-86.5 .8 52.3 .8 60.5 .9-52 .9-50.7 .9 62.4 .8 61.1 .8-56.8 .8-56.3 .9 64 .9 63.7 .8-56.4 .8-59.6 .9 51.6 1 49.8 .8-66.6 .8-64.2 1 57.8 .9 63.2 .8-41.8 .7-46.4 .9 41.1 1 43.7 .9-32.8 .8-35.2 .7 33.8 .8 32.6 .9-38.7 1-38.4 .9 33.5 .8 35.6 .9-29.8 .8-30.5 .9 32.5 .8 30.8 .8-40 .8-33.6 .7 61.7 .8 53.2 1.1-69.2 1.2-72 .9 39.9 .9 52 .8-19.9 .8-25.3 .7 23.1 .7 25.1 .8-12.9 .9-16.3 .7 13.2 .7 8 .8-38.5 .8-33 .9 30.5 1 34 1.1-20.3 1-23.6 .8 17.4 .8 20.5 .8-9 .7-10.6 .8 14 .8 11.6 .8-20.7 .8-18.8 .8 19.5 .8 22 .8-7.5 .8-11.5 .7 5 .6 4 .6-16.1 .6-11.6 .7 22.9 .9 21.8 1.1-16.5 1.1-19.6 .9 8.9 .9 10.2 .9-12.5 .8-12.7 .7 8 .6 9.2 .6-7.9 .6-7.4 .7 10.7 .8 10.6 .8-8.1 .8-7.5 .9 15.6 .9 10 1-33.6 1-26.3 1.1 42.4 1.1 40.9 .9-34.9 1-37.8 1.2 27.5 1.1 32.8 .8-12.5 .7-17.8 .9 9.5 1 8.8 1-18.2 .9-17.5 .9 11.8 .8 11.9 .7-20.7 .8-13.6 .9 41.5 1 39.3 1-22 .9-29.5 .8 10.3 .7 9.7 .7-30.8 .7-25.6 .9 28.2 .9 33.2 .8-6.1 .8-10.1 .6 19.3 .6 9.9 1.1-49.5 1.2-42.6 .9 37.5 .9 46.6 .8-5.1 .8-13.9 .7 8.9 .8 5.1 .9-25.9 .8-23.4 .8 13.9 .5 20.1 1.9-43.5 .4 23.9 .6 31.8 .6 15.7 .7-19.6 .8-35.8 .7-18.6 .7 20.4 .8 37.6 .6 22.3 .6-11.3 .6-26.5 .5-19.1 .4-.7 .4 6.8 .4 4 .5-5.4 .6-8.2 .6-.9 .6 15.9 .6 23.1 .9 12.2 1.3-12.1 1.4-23.1 1.5-12.8 1.4 11 1.5 21.2 1.1 12 .9-8.4 .5-17.7 .5-13.1 .7-.8 .6 3.3 .4-3.2 .4-4.2 .5 .9 .7 12.1 1 17.3 .8 10 .7-4.4 .6-11.7 .6-10.4 .7-7.7 .8-6.4 .8-1.4 .7 7.9 .7 12.8 .7 8.7 .6 .1 .7-4.1 .6-4.9 .8-6.2 .8-7 .7-3.2 .5 4.2 .5 8 .5 5.5 .6-1.1 .6-3.6 .7-1 .9 5.7 1 8.5 1 4.1 .8-4.5 .7-8.9 .6-6.8 1-3.8 .9 1.3 .8 7 .8 9.5 .7 3.7 .6-9.5 .6-15.3 .6-7.8 .5 9.3 .5 16.8 .6 8.4 .7-11.4 .8-19.7 .7-10 .7 12.2 .6 21.9 .7 12.7 .6-7.9 .6-17.1 .6-11.7 .5 .4 .5 5.8 .6 6.5 .6 6.4 .7 7 .6 4.2 .5-1.6 .3-4.4 .5-1.5 .5 7.1 .7 10.1 .7 1.7 .7-17.2 .7-25.8 .7-14.1 .7 10.8 .7 22.5 .6 13.7 .7-6.5 .8-15.2 .7-9.3 .7 4.9 .8 10.7 .6 6.6 .6-3.2 .5-7.3 .6-4.7 .6 .6 .6 3 .7 4 .8 5.9 .8 6.8 .9 2.4 .8-6.4 .8-10.8 .7-6.1 .5 4.4 .5 9 .5 4.9 .6-4.7 .7-8.8 .6-6.1 .5-.5 .5 2.3 .6 3.9 .7 7.4 .8 8.9 .7 3.3 .6-9.5 .5-15.2 .5-7.3 .6 11 .6 18.8 .6 9.1 .5-13.1 .6-22.9 .5-12.2 .7 12.1 .6 22.7 .6 12.4 .6-11.5 .5-21.9 .6-12.1 .7 10.6 .8 20.3 .9 11.8 .7-8.1 .8-16.7 .7-9 .7 8.5 .6 16.2 .6 10.4 .7-2.4 .6-8.2 .6-7.1 .8-3.8 .7-2.6 .8-.5 .8 3.9 .7 6 .7 2.1 .5-7.3 .6-11.1 .5-4.6 .6 10.2 .6 16.7 .6 8.1 .5-11.5 .5-20 .6-10.6 .9 10.6 1 20 1 11.5 .9-8.6 .9-17 .7-8.9 .7 10.6 .6 18.7 .6 9 .8-11.7 .7-21.4 .7-15.8 1.1 .2 .4 12.9 .4 17.2 .5 9.7 .6-6.1 .8-13.7 .8-8 1.1 5.5 1.3 11.2 1 6.7 .9-3.4 .7-7.9 .6-5.1 .6 1.8 .5 4.7 .5 2.3 .6-4 .5-6.4 .6-1.6 .6 9.4 .8 14.2 .7 8 .9-4.6 .8-10.8 .9-8.6 .7-3.6 .7-1.3 .7 1.1 .6 6.2 .5 8.7 .5 4.1 .7-6 .8-10.7 .7-6.7 .6 2.5 .5 6.6 .5 3.5 .6-3.7 .5-6.6 .6-3.6 .5 3.5 .6 6.6 .6 3.8 .7-2.2 .7-5 .7-2.9 .5 2.1 .5 4 .5 2.1 .4-2.9 .4-4.9 .4-1.6 .6 5.5 .6 8.9 .7 5.8 .8-.1 .9-3.1 .9-3.8 .7-5.4 .8-6.1 .6-2 .5 6.8 .3 10.9 .5 5.9 .6-4.9 .7-9.8 .7-6.1 .7 2.8 .7 6.5 .7 3.3 1-4.2 1-7.4 .9-4.5 .8 1 .7 4 .7 4.8 .8 7.2 .9 8.2 .8 2.3 .7-10.1 .7-15.9 .8-8.4 1 8.7 1.2 16.2 1.1 8.9 .6-8.3 .5-15.6 .6-8.6 .8 7.6 .8 14.7 .7 8.9 .5-4.5 .5-10.4 .5-6.2 .7 3.6 .8 7.7 .8 4.7 .8-2.5 .9-5.4 .8-2.8 .7 4.5 .6 7.3 .6 2.1 .6-9.7 .5-14.8 .5-7.7 .5 8.4 .5 15.6 .6 8.2 .6-8.6 .8-16 .7-9.5 .8 5.2 .8 11.7 .7 7.7 .5-1.7 .3-5.6 .4-3.4 .6 2.1 .7 4.2 .6 2.5 .7-2 .6-3.8 .6-.5 .7 7.3 .7 10.6 .8 5.1 .7-6.3 .8-11.8 .8-8 .7 .2 .8 3.9 .7 2.8 .7-.6 .7-1.8 .8-.1 .8 4.2 .9 5.8 .8 1.3 .6-9.2 .4-13.7 .5-5.5 .6 12.4 .6 20.6 .7 12.1 .9-6.6 1-15.1 1-9.1 .9 6.3 .9 12.2 .7 4.5 .7-14.2 .6-21.9 .6-10.4 .8 15.3 .8 26.8 .7 15.1 .6-11.5 .6-23.2 .6-13.6 .6 8.6 .7 18.3 .7 11.3 .6-4.6 .6-11.5 .7-7.9 .7 .5 .7 4.1 .7 3.6 .7 2.4 .7 1.8 .5-.4 .5-5.4 .5-7.6 .4-3.4 .5 6.3 .6 10.5 .6 4.7 .6-9.1 .8-14.8 .7-6.4 .6 13 .5 21.5 .5 10.9 .6-13.3 .6-24 .6-12.6 .5 13.7 .6 25.1 .6 13.7 .6-12.2 .8-23.6 .7-14.1 .6 7.6 .5 17 .5 10.1 .7-6.2 .6-13.2 .6-7.8 .6 4.7 .5 10 .5 6.2 .5-3.2 .5-7.1 .6-3.6 .5 5.1 .5 8.6 .6 4 .8-6.7 .9-11.3 .9-5.4 .8 8.1 .9 14 .8 7 .6-9.1 .6-16.1 .6-8.3 .7 9.3 .8 17 .7 9.7 .7-7.4 .6-14.8 .6-8.1 .8 7.5 .9 14.3 .9 7.9 .7-6.6 .7-12.9 .7-8.3 .7 2.5 .7 7.1 .6 4.3 .5-3.4 .4-6.2 .4-3.1 .5 4.8 .5 7.9 .5 3.7 .6-5.8 .6-10.1 .7-5.5 .6 4.6 .7 9.2 .6 6.4 .6 .5 .7-2.2 .6-3.4 .6-5.9 .6-6.9 .7-1.7 .6 10 .6 15.3 .7 7.5 .6-9.7 .6-17.5 .7-10 .8 6.9 .8 14.5 .9 8.9 .9-4 .9-9.6 .7-6 .6 3.3 .4 7 .5 3 .7-6.8 .7-10.9 .7-5 .6 7.9 .6 13.8 .5 7.3 .6-7.5 .5-13.9 .6-7 .5 9 .6 15.9 .5 7.9 .6-10.4 .6-18.4 .6-10 .5 8.9 .6 17.2 .5 10.8 .6-3.7 .7-10.2 .6-6.9 .6 1.3 .5 4.7 .4 2.8 .4-2.1 .3-3.8 .3-1 .6 5.9 .7 8.6 .6 3.8 .6-7 .5-11.9 .6-7 .6 4.3 .8 9.3 .7 4.7 .9-6.3 .8-10.7 .8-5.1 .7 8.2 .6 13.8 .6 7.1 .7-8.3 .6-14.9 .6-8.4 .6 6.7 .5 13.4 .6 7.7 .6-5.7 .6-11.4 .5-6.3 .6 4.8 .4 9.9 .3 7.4" fill="none" stroke="#0000ff" stroke-width="2.3" stroke-linejoin="round"/>
<path d="M138.6 547.2l.4-2.9 .5-3.8 .4 .7 .5 2.4 .4 4.5 .5 4.1 .4-.1 .5-1.2 .4-3.2 .5-5.3 .4-2 .5-.8 .4 2.3 .5 3.7 .4 2.4 .5 .5 .4-1 .5-2.2 .4-2.6 .5-1.8 .4 0 .5 2.2 .4 3.4 .5 2.7 .4 .4 .5-1.3 .4-3 .5-2.9 .4 0 .5 .4 .4-1.3 .5-1.5 .4 3.1 .5 6.4 .4 5.4 .5-.6 .4-7.3 .5-8.5 .4-3 .5 4.5 .4 7.7 .5 5.1 .4-.2 .5-4.8 .4-6.2 .5-3.7 .4 .9 .5 4.8 .4 1 .5-1.8 .4 2.5 .5 7.1 .4 4.3 .5-2.8 .4-8.6 .5-8.7 .4-2.9 .5 5 .4 9.6 .5 7.4 .4-.1 .5-7 .4-7.9 .5-3 .4 3.4 .5 6.4 .4 2.5 .5-4.6 .4-6.3 .5 .5 .4 6.8 .5 8.2 .4 2.7 .5-5.8 .4-10 .5-7 .4-.4 .5 4 .4 4.4 .5 3.3 .4 3.2 .5 3 .4 1.3 .5-2.5 .4-6.8 .5-8.1 .4-1.9 .5 1.7 .4 11.9 .5 9.3 .4 1.5 .5-2.7 .4-15.4 .5-8.3 .4-1.2 .5 4.3 .4 17.3 .5 8.1 .4 .2 .5-7.7 .4-14 .5-6.5 .4 1.1 .5 6.4 .4 6.2 .5 3.5 .4 1.3 .5 .2 .4-.7 .5-2.6 .4-4.9 .5-5.2 .4-1.8 .5 3.4 .4 6.8 .5 5.5 .4 .5 .5-3.5 .4-5.6 .5-3.9 .4 .2 .5 4.9 .4 5.8 .5-.8 .4-8.4 .5-3.4 .4 4.8 .5 7.8 .4 3.3 .5-1.7 .4-7.2 .5-5.7 .4-.5 .5 1.5 .4 6.5 .5 4.2 .4 .3 .5-2 .4-4.2 .5-2.7 .4-.7 .5 .2 .4 .5 .5 1 .4 2.1 .5 3 .4 1.9 .5 .2 .4-3.9 .5-6 .4-1.4 .5 1.3 .4 6.3 .5 5.1 .4 1.1 .5-2.1 .4-2.7 .5 1 .4 2.8 .5-1.1 .4-3.2 .5-4 .4-1.1 .5 2.2 .4 6.2 .5 3.5 .4 0 .5-5.2 .4-8.4 .5-3.8 .4 1.3 .5 8 .4 8 .5 1.6 .4-5.9 .5-7 .4 1.8 .5 4.8 .4-.8 .5-6.2 .4-3.7 .5 3 .4 6.9 .5 4.8 .4-2.2 .5-8.8 .4-7.2 .5 1.5 .4 9.8 .5 10 .4 2.1 .5-6.5 .4-9.8 .5-6.5 .4-.3 .5 4.9 .4 7.2 .5 6.2 .4 2.8 .5-1.4 .4-5.1 .5-6.7 .4-5.3 .5-1 .4 3.7 .5 5.6 .4 3.8 .5 .1 .4-3.8 .5-3.4 .4 1.1 .5 4.4 .4 2.1 .5-1.8 .4-4.4 .5-3.6 .4-.2 .5 2.7 .4 4.4 .5 3 .4 .4 .5-2.3 .4-5.2 .5-4.3 .4-.8 .5 2.4 .4 4.5 .5 4.1 .4 2 .5-.2 .4-1.9 .5-2.7 .4-2.6 .5-1.5 .4-.2 .5 1.3 .4 2.4 .5 2.5 .4 1.4 .5-.9 .4-2.7 .5-3.1 .4-1.8 .5-.1 .4 1.4 .5 1.5 .4 .7 .5 1.4 .4 3.3 .5 3.1 .4-.1 .5-3.4 .4-4.9 .5-3.4 .4-.3 .5 2.3 .4 2.9 .5 2 .4 .4 .5-.8 .4-1.6 .5-1.9 .4-1.2 .5 .2 .4 1.6 .5 2 .4 1.7 .5 .9 .4-.3 .5-1.7 .4-2.7 .5-2.4 .4-.4 .5 2.4 .4 4.4 .5 3.9 .4-.6 .5-6.2 .4-7.3 .5-2 .4 5.5 .5 8.7 .4 4.8 .5-3.1 .4-8.1 .5-6.8 .4 .3 .5 7.8 .4 8.8 .5 1.3 .4-7.8 .5-9.5 .4-2.5 .5 6.4 .4 9.4 .5 4.5 .4-4.5 .5-10.6 .4-7.5 .5 4.5 .4 14.5 .5 8 .4-10.2 .5-16 .4-2.7 .5 11.7 .4 12.4 .5 1.9 .4-7.5 .5-8.9 .4-3.9 .5 2.7 .4 7.4 .5 6.7 .4-.1 .5-7.3 .4-8.3 .5-1.4 .4 6.7 .5 8 .4 2.1 .5-4.6 .4-6.6 .5-3.3 .4 1.6 .5 3.9 .4 2.3 .5 .1 .4 .3 .5 1 .4 .1 .5-1.5 .4-1.8 .5-1.2 .4-.1 .5 .8 .4 1.5 .5 1.4 .4 .5 .5-.7 .4-1.4 .5-1.3 .4-1 .5-.3 .4 .1 .5 .9 .4 1.4 .5 1.6 .4 1.1 .5 0 .4-1.5 .5-2.3 .4-1.9 .5-.7 .4 .8 .5 2.2 .4 2.6 .5 2 .4 .3 .5-1.6 .4-3 .5-3.3 .4-1.7 .5 1.1 .4 3.9 .5 4.3 .4 1.7 .5-1.8 .4-3.8 .5-2.5 .4 1.9 .5 2.5 .4-1.1 .5-5 .4-4.5 .5 .8 .4 8.3 .5 11.2 .4 4.7 .5-7.1 .4-12.4 .5-7.8 .4 1.4 .5 7.9 .4 4.6 .5-4.7 .4-5.6 .5 2.2 .4 7.6 .5 8.6 .4 2.2 .5-7.7 .4-13.1 .5-7.5 .4 1.1 .5 11.5 .4 12.8 .5 4.6 .4-5 .5-12 .4-9.5 .5-.3 .4 8.5 .5 10 .4 3.2 .5-5.1 .4-7.4 .5-3.6 .4 1.3 .5 2.8 .4 2.6 .5 2.5 .4 3 .5 1.5 .4-1.5 .5-5.4 .4-7.2 .5-4.7 .4 1.4 .5 6.7 .4 7.9 .5 4.9 .4-.2 .5-4.6 .4-6.8 .5-5.7 .4-1.3 .5 2.2 .4 6.2 .5 6.3 .4 3.3 .5-1 .4-4 .5-4.9 .4-4 .5-2.1 .4 .3 .5 2.8 .4 4.9 .5 5.2 .4 2.6 .5-1.8 .4-5.4 .5-5.7 .4-2.5 .5 1.7 .4 4.1 .5 3.7 .4 1.4 .5-3.6 .4-3.8 .5 2.3 .4 6.6 .5 3.3 .4-3.7 .5-9.3 .4-7.2 .5 .9 .4 7 .5 7.3 .4 2.8 .5-1.4 .4-4.1 .5-3.8 .4-2 .5 .4 .4 1.5 .5 .8 .4 .8 .5 1.8 .4 2.2 .5 .8 .4-1.3 .5-2.7 .4-2.9 .5-.9 .4 .9 .5 3.7 .4 3.5 .5 .5 .4-1.7 .5-3.6 .4-2.6 .5-1 .4 1 .5 2.4 .4 2.9 .5 2.5 .4 1.1 .5-1.3 .4-3.8 .5-4.9 .4-2.9 .5 1.3 .4 4.6 .5 4.5 .4 2 .5-1 .4-2.8 .5-2.7 .4-1.6 .5-.6 .4-.5 .5-.1 .4 1.5 .5 3.8 .4 3.9 .5 1 .4-2.8 .5-4.7 .4-3.6 .5 .1 .4 3.4 .5 4.3 .4 1.6 .5-2.2 .4-3.4 .5-.9 .4 1.7 .5 1.8 .4 .2 .5-1.3 .4-1.2 .5-.4 .4 .5 .5 1.2 .4 1 .5 .2 .4-.8 .5-1.1 .4-.3 .5 .2 .4-.7 .5-.7 .4 .1 .5 1.2 .4 1.6 .5 1 .4-.4 .5-1.6 .4-1.7 .5-.4 .4 .7 .5 2 .4 1.4 .5 .3 .4-1.7 .5-2.8 .4-1.6 .5 1.1 .4 3 .5 2.6 .4 .8 .5-.7 .4-.5 .5-.6 .4-2.4 .5-3.1 .4-1.5 .5 1.5 .4 3.8 .5 3.6 .4 .5 .5-.8 .4-4.5 .5-3.7 .4-.8 .5 1.1 .4 6.5 .5 3.6 .4 .1 .5-2.7 .4-5.3 .5-3.1 .4 .4 .5 3.1 .4 3.6 .5 1 .4-3.5 .5-1.8 .4 4.2 .5 4.9 .4 1.5 .5-4.1 .4-7.5 .5-5.9 .4-.5 .5 5.2 .4 7.8 .5 5.5 .4 0 .5-3.3 .4-2.8 .5-.4 .4-1.2 .5-3 .4-2.9 .5-.4 .4 2.3 .5 3.9 .4 3.1 .5 .6 .4-.7 .5-5.1 .4-4.8 .5-1.3 .4 2.1 .5 6.2 .4 4.6 .5 .8 .4-1.2 .5-.7 .4 0 .5-1.8 .4-4.4 .5-5 .4-1.2 .5 3.1 .4 6.8 .5 5.1 .4 .2 .5-3.8 .4-5.7 .5-3.1 .4 .7 .5 3.1 .4 2.8 .5-2.5 .4-3.5 .5 4.8 .4 8.7 .5 4.9 .4-6 .5-12 .4-8 .5 2.1 .4 9 .5 8.1 .4 1.4 .5-5 .4-7.2 .5-3.8 .4 2.9 .5 7.1 .4 5.4 .5-1 .4-6 .5-5.6 .4-1.1 .5 2.9 .4 4.1 .5 2.7 .4 .3 .5-1.6 .4-2.3 .5-2.1 .4-1.6 .5-.6 .4 1 .5 2.8 .4 3.2 .5 1.5 .4-1.4 .5-3.5 .4-3 .5 0 .4 3.1 .5 3.6 .4 1 .5-2.4 .4-3.5 .5-1.8 .4 .8 .5 1.9 .4 1.6 .5 .8 .4 .1 .5-.4 .4-1.2 .5-2.3 .4-2.8 .5-.8 .4 2.8 .5 5.9 .4 5.3 .5 .8 .4-4.4 .5-5.7 .4-2 .5 2.1 .4 5.6 .5 3.3 .4 .1 .5-3.7 .4-6.1 .5-5.1 .4-1.9 .5 .6 .4 1.9 .5 2.5 .4 .2 .5-1 .4-.2 .5 .7 .4 1.2 .5 .9 .4 1.1 .5 2 .4 2.2 .5 .6 .4-1.9 .5-2.3 .4 .1 .5 2.7 .4 3.2 .5 1.4 .4-2.4 .5-3.9 .4-2.3 .5 .6 .4 3 .5 2.7 .4-.2 .5-3.3 .4-4.4 .5-3 .4-.2 .5 2 .4 2.9 .5 2.2 .4 1 .5-1.8 .4-3.2 .5-2.3 .4 .3 .5 2.8 .4 3.3 .5 1.7 .4 0 .5-.6 .4-.2 .5-.2 .4-1.2 .5-2.5 .4-2.8 .5-.5 .4 2.2 .5 3.2 .4 1.6 .5-.4 .4-.7 .5 .9 .4 2.9 .5 2.6 .4-.4 .5-4 .4-6.2 .5-3.6 .4 1.2 .5 7.9 .4 7.3 .5 0 .4-4.3 .5-9.4 .4-5.3 .5-.1 .4 3.6 .5 4.5 .4 1.6 .5-2.1 .4-3.2 .5-2.1 .4 3.4 .5 4.7 .4 .8 .5-2.1 .4-3.2 .5-2 .4 .9 .5 3.3 .4 3.6 .5 1.8 .4-.2 .5-1.3 .4-2.1 .5-3.4 .4-4.2 .5-2.5 .4 1 .5 4.1 .4 4.7 .5 3 .4 .3 .5-2.3 .4-3.5 .5-2.7 .4-.3 .5 2.5 .4 3.7 .5 3.2 .4 2.1 .5 1.3 .4 .5 .5-1.2 .4-2.6 .5-3.4 .4-3.1 .5-1.3 .4 .6 .5 2.1 .4 2.6 .5 2.4 .4 1.7 .5 0 .4-2.3 .5-4 .4-4.1 .5-2.3 .4 .5 .5 3.1 .4 4 .5 3.1 .4 0 .5-2.4 .4-3 .5-1.7 .4 0 .5 1.4 .4 2.4 .5 2.8 .4 1.6 .5-.3 .4-3.6 .5-5.9 .4-4.2 .5 1.4 .4 5.7 .5 4 .4-1.6 .5-5.1 .4-4.1 .5 .5 .4 4.1 .5 5.3 .4 2.3 .5 .1 .4-3.3 .5-3.3 .4-.4 .5 2 .4 4 .5 2.4 .4-.7 .5-3.2 .4-3.2 .5-.2 .4 3.9 .5 1.2 .4-3.8 .5-3.3 .4 2.4 .5 5.3 .4 3 .5-2 .4-4.5 .5-2.7 .4 1 .5 3.1 .4 2.8 .5 .5 .4-2.2 .5-4 .4-2 .5 .6 .4 4.6 .5 4.3 .4 .5 .5-2.2 .4-4.5 .5-3.2 .4-.3 .5 2.5 .4 3.5 .5 2.7 .4 1 .5-.5 .4-1.5 .5-2.3 .4-2.5 .5-1.6 .4 .3 .5 2.1 .4 2.8 .5 2 .4 0 .5-2.2 .4-3 .5-1.8 .4 1 .5 3.1 .4 2.1 .5-.8 .4-2.3 .5-1.1 .4 1.1 .5 2.6 .4 1.4 .5-1.3 .4-3.6 .5-3.1 .4 .1 .5 4 .4 4.8 .5 1.7 .4-2.5 .5-4.4 .4-2.9 .5 .3 .4 2.7 .5 3 .4 1.3 .5-1.2 .4-2.8 .5-2.1 .4 1 .5 3.3 .4 1.5 .5-1.9 .4-3 .5-1.5 .4 1.5 .5 3.5 .4 3 .5 .1 .4-3.1 .5-3.9 .4-2.1 .5 .8 .4 1.7 .5-.8 .4-1.2 .5 1.2 .4 1.8 .5 1.3 .4-.2 .5-2.2 .4-3.6 .5-2.7 .4-.7 .5 1.8 .4 4.4 .5 1.8 .4-.5 .5-2.4 .4-4 .5-2.7 .4-.2 .5 1.2 .4 3.4 .5 3.9 .4 2.9 .5 .3 .4-2.3 .5-3.9 .4-1.9 .5 1.6 .4 4.3 .5 4.8 .4 3.2 .5 .2 .4-2 .5-.7 .4 3.2 .5 5.2 .4 3.5 .5-.3 .4-2.8 .5-2.1 .4-.8 .5-1.2 .4-.7 .5-1.3 .4-2.6 .5-3.2 .4-2 .5-2.5 .4-4.1 .5-5 .4-3.4 .5-.3 .4 2.9 .5 2.7 .4-.7 .5-1.6 .4-4.2 .5-3.4 .4-.7 .5 1.7 .4 6.8 .5 6.3 .4 3.5 .5 1.5 .4 3.3 .5 5.7 .4 3.5 .5 .9 .4-1.4 .5-.5 .4 2.5 .5 5.2 .4 2.9 .5-5.3 .4-6.3 .5-2.7 .4 1.1 .5 1.5 .4-1 .5-3.8 .4-4.2 .5-3.3 .4-1.3 .5 .6 .4 1.9 .5 .8 .4-1.8 .5-4.2 .4-3.2 .5 .8 .4 3.1 .5-.5 .4-3.2 .5-2 .4 .6 .5 3 .4 3.3 .5 .1 .5-1.9 .4-4.8 .5-3.8 .4-.9 .5 1.5 .4 2.6 .5 1.2 .4 1.1 .5-.3 .4-.5 .5 1.5 .4 4.7 .5 4.5 .4-.1 .5-2.4 .4-1.4 .5 1.4 .4 3.4 .5 4 .4 2.5 .5 .7 .4-.1 .5 .1 .4 1.6 .5 2.6 .4 1.5 .5-1.3 .4-1.9 .5 .2 .4 1.6 .5 1.1 .4-1.4 .5-3.9 .4-4.9 .5-3.1 .4-.9 .5 1.4 .4 2.5 .5 .5 .4-1.4 .5-3.7 .4-3.7 .5-2 .4-.3 .5 .4 .4 .2 .5-.1 .4 .3 .5 .4 .4-.7 .5-2.5 .4-3.6 .5-2.6 .4 .4 .5 2.7 .4 2.2 .5-.4 .4-2.5 .5-2.3 .4-.7 .5 1.5 .4 3 .5 2.3 .4-.2 .5-2.7 .4-2.4 .5 .5 .4 3.3 .5 3.4 .4 1.8 .5-.7 .4-1.1 .5 .5 .4 2.6 .5 3.7 .4 2.3 .5 0 .4-1 .5 .8 .4 2.4 .5 .8 .4-1.3 .5-2.1 .4-1.3 .5 .4 .4 2.2 .5 2.8 .4 1.7 .5-.7 .4-2.6 .5-2.7 .4-1 .5 1.1 .4 2.3 .5 2.2 .4 1.4 .5 .4 .4-.4 .5-1 .4-1.2 .5-.7 .4 .4 .5 1.7 .4 2.4 .5 1.6 .4-.5 .5-2 .4-1.1 .5-.2 .4-.7 .5-2.2 .4-2.3 .5-1 .4 .7 .5 1.7 .4 1.1 .5-.9 .4-2.8 .5-3.1 .4-1.8 .5 0 .4 .4 .5-1.2 .4-2.8 .5-1.9 .4 .6 .5 2 .4 2 .5 0 .4-2.2 .5-2.9 .4-1.5 .5 .5 .4 1.7 .5 1.5 .4 .5 .5-.8 .4-.4 .5 .4 .4 1 .5-.5 .4-1.2 .5-.5 .4 1.2 .5 2.6 .4 2.5 .5 1.3 .4-.3 .5-1 .4 0 .5 1.7 .4 2.3 .5 .8 .4-1.6 .5-1.7 .4-.1 .5 1.4 .4 2 .5 1 .4-.5 .5-1.6 .4-1.5 .5 .2 .4 1.3 .5 .5 .4-1.5 .5-1.6 .4 .3 .5 1.9 .4 2.1 .5 1.2 .4-.1 .5-1 .4-1.1 .5-.7 .4 0 .5 1 .4 1.8 .5 1.9 .4 1.1 .5-.4 .4-1.3 .5-1.5 .4-.9 .5 .1 .4 .7 .5 1 .4 .7 .5 .9 .4 .9 .5 .2 .4-1 .5-1.9 .4-1.8 .5-.7 .4 .3 .5 1.1 .4 1 .5 .6 .4-.1 .5-.7 .4-.8 .5-.3 .4 0 .5-.7 .4-1.2 .5-.6 .4 .5 .5 1.3 .4 1.2 .5-.1 .4-1.1 .5-2 .4-2 .5-1.2 .4-.1 .5 .3 .4 .5 .5-.1 .4-1 .5-.9 .4-.5 .5-.6 .4-.3 .5 .4 .4 1.2 .5 1.9 .4 .6 .5-.3 .4-1.6 .5-2.4 .4-1 .5 1.8 .4 2.1 .5 1.6 .4 1.4 .5-.8 .4 .6 .5 1 .4 .2 .5-1.1 .4-2.3 .5-2.5 .4-1.4 .5 .1 .4 .9 .5 .7 .4 2 .5 1.7 .4 1.2 .5 .9 .4-.5 .5-1.8 .4-1 .5 .4 .4 1.1 .5 1.9 .4 0 .5-1.6 .4-1.5 .5 0 .4 1.9 .5 2.7 .4 2 .5 .6 .4-.4 .5 .1 .4-.5 .5-1.1 .4-2 .5-1.6 .4-.7 .5 .2 .4 .5 .5 .8 .4-.3 .5-1.4 .4-1.4 .5 .2 .4 3.1 .5 4 .4 .9 .5-3.9 .4-5.1 .5-.7 .4 3.6 .5 5.6 .4 1.5 .5-1.7 .4-5.2 .5-3.5 .4-.1 .5 4.1 .4 4.6 .5 1.1 .4-3.3 .5-4.4 .4-1.6 .5 2.8 .4 3.9 .5-.2 .4-4.4 .5-2.9 .4 2 .5 5.5 .4 3.3 .5-2.7 .4-6.4 .5-3.9 .4 1.9 .5 5.4 .4 4.1 .5-.2 .4-3.8 .5-4.7 .4-2.3 .5 1.8 .4 4.7 .5 3.8 .4 .1 .5-3.1 .4-3.6 .5-1.8 .4 .8 .5 .3 .4-1.2 .5-.6 .4 .5 .5 1.7 .4 2 .5 .6 .4-1.6 .5-3.2 .4-2.7 .5 .1 .4 2.5 .5 3.4 .4 2.8 .5 1.6 .4 .7 .5 0 .4-.4 .5-1 .4-1.5 .5-1.4 .4-.5 .5 .7 .4 1.3 .5 1.2 .4 .3 .5-.4 .4-1.5 .5-2 .4-1 .5 .7 .4 2.4 .5 2.1 .4-.2 .5-2.6 .4-2.2 .5 1.7 .4 3.5 .5 1.9 .4-.4 .5-1.8 .4-1.7 .5 0 .4 1.4 .5 2.8 .4 1.8 .5 0 .4-1.4 .5-2.1 .4-2 .5-1.3 .4-.6 .5 0 .4 .6 .5 1.3 .4 1.3 .5 .1 .4-1.3 .5-2.7 .4-2.3 .5-.2 .4 1.3 .5 2 .4 1.2 .5-.2 .4-1.1 .5-1.2 .4-.6 .5 .7 .4 1.7 .5 1.5 .4 .2 .5-.7 .4-1 .5-.5 .4 .2 .5 .8 .4 1.4 .5 1.6 .4 1.1 .5 0 .4-1.8 .5-2.4 .4-.4 .5 .8 .4 4.1 .5 3.2 .4 0 .5-2.4 .4-4.2 .5-2.9 .4-.8 .5 .7 .4 .9 .5 1 .4 .2 .5-.4 .4 .3 .5 .1 .4-.6 .5-.8 .4-.3 .5 .5 .4 1.3 .5 1.4 .4 .3 .5-1.5 .4-1.6 .5 .9 .4 2.5 .5 1.3 .4-.9 .5-2.3 .4-1.6 .5 .2 .4 1.4 .5 1.4 .4 .2 .5-.9 .4-1.5 .5-.8 .4 .8 .5 1.7 .4 .4 .5-1.5 .4-1.5 .5 0 .4 1.5 .5 1.7 .4 .5 .5-1.3 .4-2.3 .5-1.3 .4 1.1 .5 2.5 .4 1.7 .5-.5 .4-2.6 .5-2.3 .4 .7 .5 3.4 .4 2 .5-1.8 .4-3.7 .5-2 .4 2.3 .5 4.7 .4 2.9 .5-1.8 .4-5.1 .5-4 .4 .3 .5 3.5 .4 4.6 .5 1.6 .4-.6 .5-4.1 .4-4.5 .5-.8 .4 1.5 .5 4.5 .4 3.4 .5 .1 .4-1.8 .5-3 .4-2.2 .5-.4 .4 1.1 .5 2 .4 1.8 .5 .9 .4-.4 .5-1.4 .4-1.7 .5-1.3 .4-.1 .5 1.1 .4 1.8 .5 1.5 .4 .4 .5-1.3 .4-2.7 .5-2.4 .4-.1 .5 2.9 .4 4.1 .5 1.8 .4-1.2 .5-3.7 .4-3.1 .5-.4 .4 1.8 .5 2.5 .4 1.6 .5-.1 .4-1.5 .5-2.1 .4-.6 .5 1.1 .4 1 .5-.2 .4-.4 .5 .5 .4 .9 .5-.1 .4-1.9 .5-1.8 .4 .7 .5 2.7 .4 2.9 .5 .6 .4-2.4 .5-3.5 .4-1.7 .5 .4 .4 2.1 .5 3.2 .4 .9 .5-.1 .4-2 .5-3.6 .4-1.7 .5-.1 .4 2.6 .5 3.1 .4 1.9 .5 .4 .4-.4 .5-.8 .4-1.3 .5-1.6 .4-1.7 .5-.9 .4 .4 .5 1.7 .4 2.4 .5 2 .4 .4 .5-1.1 .4-2.2 .5-2.2 .4-1.3 .5 .1 .4 1.3 .5 2 .4 1.7 .5 .7 .4-.6 .5-1.5 .4-1.4 .5-.7 .4-.1 .5 .3 .4 .5 .5 .7 .4 .7 .5 .7 .4 .1 .5-.7 .4-1.4 .5-1.1 .4-.1 .5 1.2 .4 1.5 .5 .5 .4-.8 .5-1.3 .4 .2 .5 1 .4 .6 .5-.2 .4-1 .5-1.1 .4-.4 .5 .8 .4 1.5 .5 1 .4-.1 .5-1.1 .4-1.2 .5-.6 .4 .2 .5 .7 .4 .7 .5 .5 .4 .4 .5 .1 .4-.5 .5-.9 .4-.9 .5-.2 .4 .7 .5 1.1 .4 .7 .5 0 .4-1.2 .5-1.5 .4-.4 .5 .4 .4 2 .5 1.3 .4 0 .5-.9 .4-1.6 .5-.7 .4 0 .5 .7 .4 .8 .5 .7 .4 .4 .5 .5 .4 .4 .5-.3 .4-1.6 .5-2.3 .4-1.3 .5 .6 .4 2.1 .5 2.4 .4 1.3 .5-.3 .4-1.7 .5-2 .4-1.2 .5 .2 .4 .3 .5-.3 .4 0 .5 1 .4 1.4 .5 1.2 .4 .6 .5-.4 .4-1.5 .5-2 .4-1.5 .5 0 .4 1.8 .5 2.7 .4 1.8 .5-.1 .4-1.5 .5-2.2 .4-1.5 .5-.2 .4 .9 .5 1.8 .4 1.7 .5 .5 .4-.7 .5-1.7 .4-1.5 .5-.8 .4-.1 .5 .4 .4 .5 .5 1 .4 1.4 .5 1.2 .4 .2 .5-.9 .4-1.8 .5-1.8 .4-.8 .5 .5 .4 1.5 .5 1.7 .4 1.2 .5 .4 .4-.5 .5-1.6 .4-2.1 .5-1.7 .4-.2 .5 1.7 .4 3 .5 2.4 .4 .7 .5-1.3 .4-2.3 .5-2 .4-1 .5 0 .4 1 .5 1.5 .4 1.7 .5 1.1 .4 0 .5-1.7 .4-2.8 .5-2.3 .4-.5 .5 1.8 .4 3 .5 2.6 .4 1.3 .5 0 .4-.9 .5-1.9 .4-2.6 .5-2.4 .4-.7 .5 1.4 .4 2.7 .5 2 .4 .4 .5-.9 .4-1.2 .5-.6 .4 .5 .5 .5 .4-.9 .5-1.6 .4-.8 .5 1.3 .4 2.9 .5 2.3 .4-.2 .5-2.9 .4-3.3 .5-1.1 .4 1.6 .5 3.7 .4 2.6 .5-1.2 .4-4.3 .5-2.6 .4 1.6 .5 3.4 .4 1.9 .5-1 .4-2.3 .5-1.7 .4 .1 .5 1.8 .4 2.1 .5 .4 .4-2.1 .5-2.6 .4-.1 .5 2.7 .4 2.6 .5 0 .4-2.6 .5-2.5 .4-.5 .5 1.4 .4 2.4 .5 1.4 .4-.6 .5-2 .4-1.3 .5 .8 .4 1.9 .5-.3 .4-1.3 .5-.9 .4 .2 .5 .8 .4 .9 .5 .4 .4-.1 .5-.8 .4-1.1 .5-.5 .4 .2 .5 .8 .4 .9 .5 .5 .4 .3 .5 .1 .4-.1 .5-.8 .4-1.1 .5-1.4 .4-.6 .5 .8 .4 3.1 .5 2.1 .4-.3 .5-1.6 .4-2.2 .5-1.1 .4 .1 .5 1 .4 1.4 .5 1.1 .4-1 .5-1.5 .4 .7 .5 2.3 .4 1.1 .5-1.3 .4-2.6 .5-2.3 .4-.5 .5 1.5 .4 2.3 .5 1.7 .4 .2 .5-1.1 .4-1.4 .5-.6 .4 .4 .5 .3 .4-.4 .5-.5 .4 0 .5 .6 .4 .9 .5 .7 .4 0 .5-.9 .4-1.4 .5-.8 .4 .4 .5 1.4 .4 1.4 .5 .3 .4-.8 .5-1.2 .4-.9 .5 0 .4 .9 .5 1.1 .4 .6 .5-.2 .4-.8 .5-.7 .4-.4 .5-.3 .4 .1 .5 .6 .4 .9 .5 .8 .4 .1 .5-.9 .4-1.6 .5-1.3 .4 .1 .5 1.6 .4 2.3 .5 1.4 .4-.2 .5-1.5 .4-1.8 .5-1.5 .4-1 .5-.3 .4 1 .5 2.4 .4 2.6 .5 1 .4-1.3 .5-2.8 .4-2 .5-.1 .4 1.4 .5 1.7 .4 1 .5-.1 .4-1.2 .5-1.9 .4-1 .5 .8 .4 2.3 .5 .7 .4-1.1 .5-.4 .4 1.6 .5 1.8 .4-1 .5-2.6 .4-2.2 .5-.3 .4 1.9 .5 2.7 .4 1.3 .5-1.2 .4-2.5 .5-1.4 .4 1.4" fill="none" stroke="#008000" stroke-width="2.15" stroke-linejoin="round"/>
<path d="M138.6 578.6l.6-.6 .6-1.5 .6-1.3 .6 .7 .6 1.8 .6-.6 .6-1.6 .6 0 .6 2.7 .6 2 .6-.3 .6-2.8 .6-1.3 .6-.1 .6 .9 .6 .6 .6 .4 .6 0 .6-.4 .6 0 .6 .7 .6 .8 .6 .1 .6-.8 .6-1 .6-.7 .6-.7 .6 .9 .6 2.1 .6 1.8 .6-1.3 .6-2.6 .6-.9 .6 1.4 .6 2.4 .6 .7 .6-.4 .6-1.1 .6-1.6 .6-.9 .6 .2 .6 1.6 .6 2.2 .6 .6 .6-1.4 .6-3.1 .6-.2 .6 1.2 .6 .3 .6 .4 .6 1.4 .6-.6 .6-2.5 .6-.9 .6 1.3 .6 3.5 .6 0 .6-1.4 .6-2.9 .6-.8 .6 1.1 .6 .9 .6 .3 .6 .4 .6 .3 .6-.6 .6-1.3 .6-.8 .6 .8 .6 2.1 .6 1.1 .6-1.2 .6-2.2 .6-1.5 .6 .4 .6 1.1 .6 .5 .6 .6 .6 .6 .6 .3 .6-.8 .6-1.1 .6-.6 .6 .7 .6 .4 .6 .2 .6-.2 .6 .4 .6 .6 .6-.1 .6-.3 .6 .9 .6 .4 .6-1 .6-1.1 .6 .3 .6 .9 .6 0 .6-.4 .6 .5 .6 1 .6 .3 .6-1.4 .6-1.1 .6 1 .6 1.5 .6 .1 .6-1.7 .6-.4 .6 1 .6 .1 .6-.9 .6-.3 .6 1.2 .6 .7 .6 .3 .6-1.4 .6-1.7 .6-.2 .6 1.3 .6 1.2 .6 .7 .6 .6 .6 .4 .6-1.3 .6-2.5 .6-1 .6 2.3 .6 3 .6 .6 .6-2.8 .6-3.2 .6 .2 .6 1.8 .6 2.7 .6 .4 .6-1.1 .6-2 .6-1.2 .6 .2 .6 .4 .6 1.6 .6 2.5 .6 .5 .6-3.2 .6-3.3 .6-.1 .6 2.6 .6 4.5 .6 .4 .6-1.2 .6-4.1 .6-2.1 .6 .4 .6 1.4 .6 1.8 .6 .5 .6 .2 .6-.8 .6-.7 .6-.6 .6 .2 .6 .9 .6 1.1 .6-1.1 .6-1.7 .6 .2 .6 .9 .6 1 .6-.3 .6-.7 .6 .5 .6 .3 .6-1 .6-.8 .6 .4 .6 .9 .6-.2 .6-.8 .6 0 .6 .6 .6 .2 .6-.5 .6-1.3 .6 .9 .6 2.4 .6-.1 .6-2.2 .6-1.9 .6 .7 .6 .6 .6 .4 .6 .2 .6 1.6 .6 .1 .6-.3 .6-2.3 .6-.2 .6 .3 .6 1.9 .6 .6 .6-.6 .6-1.4 .6-.2 .6-.4 .6 .7 .6 1.4 .6 1.4 .6 .1 .6-1.9 .6-3.1 .6-.3 .6 1 .6 4.3 .6 .1 .6-1.1 .6-3 .6-.7 .6 1.2 .6 2.7 .6 1 .6-.4 .6-1.9 .6-1.8 .6-.5 .6 .5 .6 1.6 .6 1.5 .6 0 .6-.1 .6-1.8 .6-1.9 .6-.2 .6 1.8 .6 2.1 .6 .4 .6-2 .6-1.5 .6 .9 .6 1.4 .6 .2 .6-1 .6-.1 .6 .9 .6-.1 .6-.9 .6-1.1 .6 .8 .6 1.4 .6 0 .6-1.3 .6-.1 .6 1.8 .6 .4 .6-1 .6-1.3 .6 0 .6 1.1 .6 .1 .6-.9 .6-.3 .6 .2 .6 .5 .6 .8 .6 .9 .6 .3 .6-1.6 .6-1.8 .6-.5 .6 .4 .6 1.2 .6 1 .6 1 .6 .1 .6-1.3 .6-1.7 .6-.2 .6 1.3 .6 2 .6 .2 .6-2 .6-1.6 .6-.2 .6 .7 .6 .9 .6 .9 .6 .9 .6 .2 .6-1.4 .6-1.9 .6-.5 .6 1.7 .6 1.9 .6-.5 .6-1.4 .6-1 .6 .4 .6 1.1 .6 .9 .6 .3 .6 .1 .6-.5 .6-2 .6-1.2 .6 0 .6 1.9 .6 2.3 .6 .1 .6-2 .6-.8 .6 .3 .6 .5 .6-.6 .6 .3 .6 1.3 .6 .6 .6-1.8 .6-1.4 .6 .4 .6 1.8 .6 .8 .6-.9 .6-1.1 .6 .6 .6 .9 .6-1.1 .6-1.7 .6 .8 .6 2.1 .6 .1 .6-1.8 .6-.6 .6 1.2 .6 1.7 .6-.4 .6-1.1 .6-.8 .6 .5 .6 .4 .6-.7 .6-.2 .6 .3 .6 1 .6 .6 .6-.3 .6-.9 .6-1 .6 0 .6 .7 .6 .6 .6-.3 .6 .2 .6 .7 .6-.1 .6-1.5 .6-.6 .6 1 .6 1.1 .6 .4 .6-.5 .6-1.5 .6-.8 .6 .5 .6 .9 .6 .6 .6 .6 .6 .4 .6-.5 .6-1.3 .6-.7 .6 .3 .6 1.5 .6 1.4 .6-1.1 .6-2.6 .6-.4 .6 .8 .6 2.5 .6 .2 .6-.1 .6-1.5 .6-1 .6-.1 .6-.3 .6 .5 .6 2.3 .6 1.2 .6-.8 .6-3.5 .6-.7 .6 1.3 .6 3.1 .6 1 .6-1.5 .6-1.6 .6-1 .6-1.1 .6-.2 .6 1.8 .6 2.3 .6-.2 .6-1.5 .6-.4 .6 1.1 .6 .7 .6-.9 .6-1.3 .6 0 .6 .2 .6-.8 .6 .1 .6 2 .6 2.2 .6-.9 .6-2.8 .6-.7 .6 1.8 .6 1.2 .6-1.3 .6-1.2 .6-.1 .6 1.2 .6 .7 .6 .1 .6-.4 .6-.3 .6-.3 .6-.4 .6 .3 .6 .8 .6 1.1 .6-.2 .6-1.6 .6-1.6 .6 .4 .6 1.3 .6 1.7 .6-.3 .6-.5 .6-1.1 .6-.6 .6-.3 .6 .4 .6 1.2 .6 1.2 .6 .1 .6-2.1 .6-.8 .6 .9 .6 1.7 .6 0 .6-.9 .6-1 .6-.2 .6 0 .6-.2 .6 .8 .6 1.6 .6 0 .6-.8 .6-1.8 .6-.1 .6 1.6 .6 1.3 .6-.5 .6-1.7 .6-.2 .6 .3 .6-.1 .6-.1 .6 .7 .6 1 .6 .1 .6-.5 .6-.9 .6-.1 .6 .1 .6 .4 .6 .1 .6-.6 .6 0 .6 .7 .6 .9 .6-.1 .6-.9 .6-1.1 .6 .2 .6 1.3 .6 .2 .6-1.3 .6-.5 .6 1.3 .6 .7 .6-.5 .6-.8 .6 .3 .6 1 .6-.2 .6-1.2 .6-.5 .6 .6 .6 1.4 .6 .1 .6-1.2 .6-1.1 .6 .4 .6 1.5 .6 .5 .6-.1 .6-.6 .6 .1 .6-.7 .6-1.4 .6-.1 .6 .5 .6 2.2 .6 .2 .6-.5 .6-1.3 .6-.2 .6 .4 .6 .5 .6-.3 .6-.2 .6 .6 .6 .8 .6-1.6 .6-1.5 .6 1.7 .6 2.3 .6-.1 .6-1.9 .6-1.4 .6 .6 .6 .7 .6 .1 .6-.1 .6 .7 .6 .1 .6-.7 .6-1 .6 .4 .6 1.8 .6 .6 .6-1.2 .6-1.1 .6-.4 .6-.1 .6-.5 .6 .4 .6 2.1 .6 1.3 .6-.6 .6-1.6 .6-1 .6 .6 .6 .4 .6 0 .6-.2 .6 .5 .6 .7 .6 .1 .6-.2 .6 0 .6 0 .6 0 .6 .1 .6 0 .6-.1 .6-.3 .6 .3 .6-.4 .6 .1 .6 .1 .6 1.1 .6 .6 .6 .3 .6-.9 .6-1 .6-.2 .6 .2 .6 .3 .6 .2 .6-.6 .6-.8 .6-.1 .6 .7 .6 1.7 .6 .2 .6-1.4 .6-1.7 .6-1 .6-.2 .6 .4 .6 1 .6 1.8 .6 .6 .6-1.7 .6-3 .6-.3 .6 .6 .6 1.8 .6 .2 .6-1 .6-1 .6-.4 .6 0 .6 1 .6 1.9 .6 1.1 .6-.3 .6-1.4 .6-1 .6 .3 .6 1.2 .6 .7 .6 .6 .6-.5 .6-1.3 .6-1 .6 1.3 .6 2.9 .6 .4 .6-1.1 .6-2 .6-.5 .6 1.2 .6 0 .6-.5 .6 .5 .6 2.1 .6 1 .6-1.8 .6-1.3 .6 .7 .6 1.4 .6 0 .6-2 .6-1.3 .6 1.2 .6 2.1 .6-.6 .6-2.7 .6-1.1 .6 1.5 .6 1.9 .6-.3 .6-1.4 .6-1.1 .6 .2 .6-.2 .6-1.1 .6-.4 .6 1.6 .6 1.9 .6 .3 .6-2.5 .6-1.3 .6 1.4 .6 2 .6-.2 .6-1.7 .6-1.4 .6 .2 .6 1.2 .6 .3 .6 1.2 .6 1.3 .6-.1 .6-2 .6-1.7 .6 0 .6 1.8 .6 2.1 .6-.1 .6-1.3 .6-.6 .6-.5 .6 .1 .6 .9 .6 1.4 .6 .4 .6-.4 .6-1.4 .6-.8 .6 .4 .6 1.4 .6 .9 .6 .6 .6-.5 .6-.6 .6-.9 .6 .1 .6 .6 .6-.2 .6-.5 .6-.7 .6-.3 .6-.3 .6 .3 .6 .7 .6 .9 .6 .5 .6-1.3 .6-1.3 .6 0 .6 1.1 .6 .1 .6-.9 .6 .8 .6 1.7 .6 .6 .6-1.9 .6-1.4 .6 .3 .6 1.4 .6 .5 .6-.4 .6-1.1 .6 .1 .6-.3 .6-.9 .6-.7 .6 .6 .6 2.2 .6 1 .6-.4 .6-2.6 .6-1.4 .6 .6 .6 1.6 .6 .1 .6-1.5 .6-.2 .6 1 .6 .6 .6-1 .6-.6 .6 1.4 .6 .6 .6-.8 .6-1.5 .6-.7 .6 .6 .6 1.1 .6 .7 .6 .1 .6-.3 .6-1 .6-1 .6 .1 .6 1.4 .6 1.2 .6-.1 .6-1.2 .6-.7 .6-.5 .6-.2 .6 .3 .6 1.9 .6 1 .6 0 .6-1.2 .6-1.1 .6 .4 .6 1.1 .6 .2 .6-.9 .6 .3 .6 1.6 .6 .2 .6-2 .6-.3 .6 1.8 .6 1.3 .6-1 .6-2.2 .6 0 .6 .6 .6 1.7 .6 .4 .6-.6 .6-.8 .6 .3 .6-.1 .6-.7 .6 .1 .6 .6 .6 1.1 .6-.2 .6-1.3 .6-1.6 .6 .6 .6 1.7 .6 .9 .6-.8 .6-.7 .6 .6 .6-.2 .6-.9 .6-1.1 .6 .2 .6 1 .6 .9 .6 0 .6-.4 .6 .2 .6-.1 .6-1.2 .6-.5 .6 .5 .6 .6 .6-.2 .6-.7 .6-.1 .6 .4 .6 .4 .6 .6 .6 .3 .6-.1 .6-.9 .6-1.3 .6 .2 .6 .9 .6 1 .6 .3 .6-.3 .6-.9 .6-.9 .6 .1 .6 1.5 .6 1.6 .6-.3 .6-.9 .6-1.4 .6 0 .6 .3 .6 .7 .6 .7 .6 1.3 .6 0 .6-.6 .6-1.9 .6 .1 .6 1.2 .6 1.5 .6-.4 .6-1.9 .6-.7 .6 1.7 .6 1.4 .6-.2 .6-.7 .6 .7 .6 .2 .6-1 .6-1 .6 .1 .6 1.2 .6 .6 .6-.4 .6-1.5 .6-.2 .6 .7 .6 1.5 .6-.1 .6-1.1 .6-.6 .6 1.1 .6-.1 .6-1.4 .6-1 .6 .5 .6 1.8 .6 .4 .6-1 .6-.3 .6 .3 .6-.3 .6-.7 .6-.8 .6 .1 .6 1.2 .6 .2 .6-.4 .6-.7 .6-.6 .6 .2 .6 .2 .6 .6 .6 .4 .6-.5 .6-1.1 .6-.6 .6 .8 .6 .8 .6 0 .6-.2 .6 .3 .6-.2 .6-.8 .6-.4 .6 .4 .6 1.2 .6-.1 .6-1.1 .6-.7 .6-.2 .6 1.8 .6 .9 .6 0 .6 .1 .6-.3 .6-1.1 .6-1.2 .6 .1 .6 1.3 .6 1.3 .6-.2 .6-.4 .6-.7 .6 .2 .6 .2 .6 .7 .6 .1 .6-.7 .6 0 .6 0 .6 .2 .6-.1 .6 0 .6 .4 .6 .4 .6 .2 .6-.9 .6-.4 .6 .4 .6 .4 .6-.4 .6-.1 .6-.2 .6-.1 .6-.1 .6 .1 .6 .4 .6 .9 .6-.4 .6-.4 .6-.4 .6-.9 .6-.4 .6 .1 .6 .6 .6 1 .6 0 .6-.6 .6-.3 .6-.1 .6-.5 .6-.2 .6 .2 .6 .5 .6-.2 .6-.4 .6-.2 .6 .3 .6 .5 .6-.1 .6-.6 .6 .5 .6 .5 .6-.4 .6-1.1 .6 .2 .6 1.1 .6 .2 .6-1.2 .6-.4 .6 1 .6 1.6 .6-.1 .6-1.7 .6 0 .6 1.2 .6 .1 .6-1 .6-.8 .6 .8 .6 1.5 .6 .6 .6-1 .6-.8 .6 .5 .6 .8 .6-.7 .6-.5 .6 .3 .6 1.2 .6 .9 .6-1 .6-1.3 .6 .1 .6 1.8 .6 1 .6-.7 .6-1.1 .6 0 .6 .7 .6 .2 .6-.9 .6-.5 .6 1.3 .6 .8 .6-.3 .6-1.4 .6 .1 .6 1.3 .6 .3 .6-.9 .6-1.1 .6-.1 .6 .5 .6 .4 .6 .4 .6 .1 .6 0 .6-.2 .6-1.1 .6 0 .6-.1 .6-.1 .6 0 .6 .4 .6 .2 .6-.4 .6-.4 .6 .5 .6 .1 .6-.1 .6-.7 .6-.3 .6 .7 .6 .4 .6-.7 .6-1 .6 0 .6 .6 .6 .6 .6 .2 .6 .1 .6 .3 .6-.4 .6-1.3 .6-.2 .6 .5 .6 .7 .6-.1 .6-.4 .6 .2 .6 .3 .6 .5 .6 0 .6-.4 .6 .2 .6-.6 .6-.5 .6-.1 .6 1.1 .6 1 .6 0 .6-.7 .6-.7 .6 .1 .6 .7 .6 .3 .6 .1 .6 .2 .6-.4 .6-.5 .6-.2 .6-.1 .6 .6 .6 .6 .6 .2 .6-.3 .6-.7 .6 .2 .6 .6 .6-.7 .6-.4 .6-.4 .6 .2 .6 .8 .6 .3 .6 .3 .6 .2 .6-.5 .6-.9 .6-.8 .6 .2 .6 .6 .6 .1 .6-.5 .6-.2 .6 .6 .6-.1 .6-.4 .6-.3 .6 .7 .6 0 .6-1.3 .6-.9 .6 1 .6 1.3 .6-.5 .6-1.3 .6-.6 .6 1 .6 1 .6-.3 .6-.9 .6 .3 .6 .6 .6-1 .6-.9 .6 .1 .6 .9 .6 1.2 .6 .2 .6-1.2 .6-.6 .6 1 .6 .6 .6-.7 .6-.9 .6 0 .6 1 .6 .5 .6 0 .6-.7 .6 .3 .6 .8 .6 .4 .6-.8 .6-.8 .6 .4 .6 1.1 .6 .2 .6-.7 .6-.3 .6 .4 .6 .9 .6 .3 .6-1 .6-.1 .6 1.1 .6 .5 .6-.5 .6-1 .6-.5 .6 .7 .6 .5 .6 .5 .6 .1 .6 .2 .6-.1 .6 0 .6-1 .6-.6 .6 .3 .6 .8 .6 .5 .6-.1 .6-.9 .6-.1 .6 .6 .6 .8 .6-1 .6-.7 .6 .2 .6 .9 .6-.6 .6-1 .6 .5 .6 .3 .6 .6 .6-.9 .6-.7 .6 .7 .6 1.4 .6-.7 .6-1.4 .6 0 .6 .4 .6 .2 .6-.8 .6-.1 .6 .7 .6 .9 .6-.4 .6-.5 .6-.1 .6 .4 .6-.3 .6-1.1 .6-.1 .6 1.3 .6 1.4 .6-.3 .6-1.2 .6-.3 .6 .3 .6 .6 .6-.1 .6-.2 .6 .2 .6 .1 .6 .3 .6-.6 .6 0 .6 .6 .6 .6 .6 .4 .6-.9 .6-.7 .6 .2 .6 .9 .6 .5 .6-.8 .6-.4 .6 .3 .6 .1 .6 0 .6 .5 .6 .7 .6 .3 .6-.5 .6-1.2 .6-.5 .6 .2 .6 .4 .6 .5 .6 .5 .6-.2 .6-.4 .6-.7 .6 .1 .6 1 .6-.6 .6-.6 .6-.2 .6 .8 .6 .1 .6-.6 .6-.9 .6 .4 .6 1.2 .6-.3 .6-.9 .6-.6 .6 .6 .6 .2 .6-.5 .6-.6 .6 0 .6 .6 .6 .2 .6-.9 .6-.3 .6 .5 .6 .9 .6-.3 .6-.9 .6-.8 .6-.2 .6 .2 .6 .4 .6 1 .6-.2 .6 0 .6-.3 .6-.3 .6-.3 .6-.4 .6 .3 .6 1 .6 .6 .6-.7 .6-1.1 .6 .1 .6 .8 .6 .7 .6 0 .6-.3 .6 .1 .6 .1 .6-.7 .6-.1 .6 .1 .6 .8 .6 .6 .6-.4 .6-.5 .6 0 .6 .9 .6 .7 .6-.1 .6-1.3 .6-.5 .6 .7 .6 .6 .6 0 .6 0 .6 .3 .6 .6 .6 0 .6-1.4 .6-.7 .6 .9 .6 .9 .6-.3 .6-1 .6 1.1 .6 .6 .6-.8 .6-1.1 .6 .4 .6 .7 .6 .5 .6-.5 .6-1 .6 .1 .6 .5 .6-.6 .6-.3 .6 .4 .6 1.1 .6 .1 .6-.9 .6-1.4 .6 .6 .6 1.3 .6-.3 .6-1 .6-.4 .6 .3 .6 .6 .6-.1 .6 .1 .6 .7 .6 0 .6-.4 .6-1.3 .6-.7 .6 .4 .6 1.5 .6 .6 .6-.2 .6-.8 .6-.4 .6 .6 .6 .4 .6-.2 .6-.2 .6 .5 .6 .7 .6-.6 .6-.9 .6-.4 .6 1 .6 1.1 .6-.1 .6-.2 .6 0 .6 .1 .6 .1 .6-.3 .6-.3 .6 .1 .6 .3 .6 .6 .6 0 .6-.3 .6-.1 .6 .5 .6 .8 .6 .2 .6-1.7 .6-.8 .6 .4 .6 1.4 .6 .2 .6-.3 .6 .2 .6 .5 .6-.6 .6-.9 .6-.2 .6 .5 .6 1.2 .6-.1 .6-1.2 .6-.7 .6 0 .6 .4 .6 .2 .6 .2 .6 .7 .6-.4 .6-.8 .6-1.2 .6-.1 .6 .8 .6 .6 .6-.3 .6-.3 .6 0 .6-.5 .6 0 .6 .6 .6 .3 .6-.4 .6-.9 .6-.7 .6 .3 .6 .6 .6 .5 .6-.3 .6-.2 .6 .4 .6-.3 .6-1 .6-.2 .6 .6 .6 .8 .6 0 .6-.8 .6-.6 .6 .5 .6 .4 .6 0 .6 0 .6 0 .6 .5 .6 .3 .6-.5 .6-.9 .6-.3 .6 .9 .6 .8 .6 .1 .6-.3 .6 .5 .6 .4 .6-.8 .6-1" fill="none" stroke="#000000" stroke-width="2.3" stroke-linejoin="round"/>
<path d="M138.6 609.3l1.5 .5 1.5-.5 1.5 .2 1.5-.1 1.5-.7 1.5-.1 1.5 .3 1.5-.9 1.5 .1 1.5-.2 1.5-.1 1.5 .2 1.5-.7 1.5 .8 1.5 .2 1.5 .2 1.5-.2 1.5 .5 1.5-.4 1.5 .5 1.5 .8 1.5 0 1.5 0 1.5 .4 1.5-1.1 1.5 .8 1.5-.3 1.5 .6 1.5-.6 1.5 .4 1.5-.9 1.5-.2 1.5 0 1.5-.7 1.5 .3 1.5-.2 1.5 .4 1.5-.6 1.5-.4 1.5 .3 1.5-.1 1.5 .7 1.5-.8 1.5 .3 1.5 .6 1.5 .2 1.5-.1 1.5 .3 1.5 .4 1.5 .1 1.5 .3 1.5 .1 1.5 .3 1.5 .3 1.5-.4 1.5-.3 1.5 0 1.5 .1 1.5-.5 1.5-.2 1.5-.6 1.5 .1 1.5-.3 1.5-.2 1.5-.4 1.5 .1 1.5 0 1.5 .3 1.5-.6 1.5 1 1.5-.4 1.5 0 1.5 .4 1.5 .4 1.5-.5 1.5 .5 1.5 .2 1.5 .4 1.5 .2 1.5 0 1.5-.1 1.5 .2 1.5-.1 1.5 .1 1.5-.6 1.5-.3 1.5 .3 1.5-.3 1.5-.2 1.5-.3 1.5-.1 1.5 0 1.5-.5 1.5 .6 1.5-.9 1.5 .1 1.5 .7 1.5 .1 1.5-.3 1.5 .2 1.5 .1 1.5 .3 1.5 .1 1.5 .2 1.5 .2 1.5 .1 1.5 .1 1.5 .5 1.5-.7 1.5 .1 1.5 .8 1.5-.2 1.5-1.2 1.5 .7 1.5-.3 1.5-.4 1.5 0 1.5 0 1.5-.2 1.5-.5 1.5 0 1.5-.2 1.5 .2 1.5-.1 1.5 .5 1.5-.2 1.5 0 1.5 .2 1.5-.3 1.5 .8 1.5 0 1.5-.2 1.5 .8 1.5-.2 1.5 .4 1.5 0 1.5-.5 1.5 .2 1.5-.2 1.5 .1 1.5 0 1.5-.1 1.5 0 1.5-.6 1.5-.2 1.5 0 1.5 .6 1.5-.7 1.5 0 1.5-.2 1.5 0 1.5-.2 1.5 .3 1.5-.3 1.5 .3 1.5 .3 1.5-.1 1.5-.3 1.5 .4 1.5 .5 1.5-.1 1.5 .1 1.5 .1 1.5 0 1.5-.6 1.5 1 1.5-.6 1.5-.1 1.5-.3 1.5 .9 1.5-.8 1.5 .7 1.5-.8 1.5 .4 1.5-.2 1.5 0 1.5-.2 1.5-.5 1.5 .3 1.5-.7 1.5 .4 1.5 0 1.5 .1 1.5 .3 1.5 0 1.5 .8 1.5-.3 1.5 .3 1.5 .3 1.5-.4 1.5-.1 1.5 .3 1.5 0 1.5 0 1.5-.5 1.5 .4 1.5 .3 1.5-.5 1.5-.6 1.5 1.1 1.5-.7 1.5-.4 1.5 .3 1.5-.1 1.5 0 1.5 .2 1.5-.2 1.5-.4 1.5 .7 1.5-.3 1.5-.4 1.5 .4 1.5 .1 1.5-.2 1.5 0 1.5 .2 1.5-.1 1.5 .4 1.5 0 1.5 0 1.5 .7 1.5-1.3 1.5 .8 1.5 0 1.5-.3 1.5-.3 1.5 .6 1.5 .2 1.5-.6 1.5-.1 1.5 .1 1.5-.2 1.5-.1 1.5 .2 1.5-.3 1.5 0 1.5-.4 1.5 .2 1.5-.1 1.5 0 1.5 .4 1.5-.6 1.5-.2 1.5 .5 1.5 .4 1.5-.2 1.5 .5 1.5-.1 1.5 .3 1.5 .1 1.5 .1 1.5 .1 1.5-.5 1.5 .8 1.5-.3 1.5 .2 1.5-.6 1.5 .4 1.5 .6 1.5-1 1.5 .1 1.5-.2 1.5-.4 1.5 .2 1.5 .1 1.5-1 1.5 .3 1.5 .2 1.5 0 1.5-.3 1.5-.1 1.5 .2 1.5-.3 1.5 .3 1.5 .4 1.5 .9 1.5-.8 1.5 .6 1.5 .2 1.5-.3 1.5 0 1.5 0 1.5 .8 1.5-.2 1.5-.2 1.5 .1 1.5-.3 1.5-.2 1.5 0 1.5 .3 1.5-.3 1.5-.2 1.5 0 1.5-1 1.5 .5 1.5 0 1.5-.5 1.5-.2 1.5-.1 1.5 .2 1.5 0 1.5 .8 1.5 .5 1.5-.4 1.5-.9 1.5 .8 1.5 .1 1.5 .4 1.5-.1 1.5 1.1 1.5-.6 1.5 .2 1.5 .2 1.5-.2 1.5-.2 1.5-.3 1.5-.5 1.5 .3 1.5-.4 1.5-.1 1.5-.2 1.5-.1 1.5-.4 1.5-.2 1.5-.1 1.5 .5 1.5-.5 1.5 .2 1.5 .1 1.5 .3 1.5 .3 1.5 .2 1.5 .1 1.5-.5 1.5 1.4 1.5 0 1.5-.5 1.5 .8 1.5 0 1.5 .4 1.5-.4 1.5-.4 1.5-.1 1.5 .3 1.5 .2 1.5-1.6 1.5 .4 1.5-.3 1.5-.2 1.5-.1 1.5 0 1.5-.4 1.5-.5 1.5 .6 1.5-.7 1.5 .1 1.5 .7 1.5 0 1.5 .4 1.5 .4 1.5 .3 1.5 .1 1.5 .5 1.5 .2 1.5-.4 1.5 .6 1.5-.3 1.5 .6 1.5-.3 1.5 .2 1.5-.9 1.5-.3 1.5 .5 1.5 0 1.5-1.3 1.5 .4 1.5 .1 1.5-.2 1.5-.2 1.5-.4 1.5 .2 1.5-.3 1.5-.6 1.5 .6 1.5 .1 1.5 .3 1.5-.5 1.5 1.1 1.5 .2 1.5 .4 1.5-.3 1.5-.1 1.5 .9 1.5 .3 1.5-.3 1.5-.4 1.5 .3 1.5-.1 1.5-.1 1.5-.8 1.5 .3 1.5-.1 1.5-.3 1.5-.2 1.5-.7 1.5 .3 1.5-.4 1.5-.3 1.5 .3 1.5 .7 1.5-.8 1.5 .2 1.5 .4 1.5 .5 1.5-.2 1.5 0 1.5 .5 1.5 .4 1.5-.6 1.5 .7 1.5 .1 1.5 .2 1.5-.7 1.5-.1 1.5 .2 1.5 .4 1.5-.7 1.5 .6 1.5-1.1 1.5 .7 1.5-.6 1.5-.3 1.5 .3 1.5-.4 1.5-.2 1.5-.1 1.5 .1 1.5-.1 1.5 .6 1.5-.5 1.5 .7 1.5 .1 1.5-.3 1.5 .5 1.5 .3 1.5 .2 1.5 .1 1.5 .1 1.5 .2 1.5-.5 1.5 .3 1.5 .4 1.5-.3 1.5-.7 1.5 .7 1.5-.8 1.5-.5 1.5-.6 1.5 .2 1.5 .3 1.5-.3 1.5 .9 1.5-.7 1.5 .3 1.5-1.1 1.5 .4 1.5 .3 1.5-.2 1.5 .8 1.5-.4 1.5-.1 1.5 1.1 1.5-.4 1.5-.1 1.5 .4 1.5 .3 1.5-.3 1.5 .4 1.5-.2 1.5-.4 1.5 .2 1.5 .4 1.5-.8 1.5 .3 1.5-.1 1.5-.6 1.5-.5 1.5 .3 1.5-.5 1.5 1.1 1.5-.3 1.5-.2 1.5-.3 1.5 0 1.5 .4 1.5-.2 1.5 .4 1.5 .7 1.5-.1 1.5-.8 1.5 .5 1.5 .6 1.5-.3 1.5 .3 1.5 .1 1.5-.8 1.5 .4 1.5-.2 1.5 .2 1.5 .2 1.5 .2 1.5-.6 1.5-.5 1.5-.3 1.5 .1 1.5 .3 1.5-.8 1.5 1.2 1.5-.5 1.5 0 1.5-.1 1.5-.1 1.5 .3 1.5-.2 1.5 .2 1.5 .3 1.5-.2 1.5 .7 1.5-.3 1.5-.2 1.5 .2 1.5 .1 1.5 .2 1.5-.2 1.5 .3 1.5-.2 1.5-.4 1.5 0 1.5 0 1.5 .3 1.5-1.4 1.5 1.2 1.5-.6 1.5 .5 1.5-.7 1.5 .6 1.5 .1 1.5-.3 1.5-.1 1.5-.3 1.5-.1 1.5 .6 1.5 .2 1.5-.4 1.5 .1 1.5 .2 1.5 .2 1.5 .1 1.5-.2 1.5 0 1.5-.2 1.5-.3 1.5 .1 1.5 .1 1.5 .4 1.5 .3 1.5-.6 1.5 .3 1.5-.6 1.5 .5 1.5 .1 1.5-.4 1.5 .1 1.5 .1 1.5-.3 1.5 .5 1.5-.5 1.5 .3 1.5-.2 1.5 .3 1.5-.4 1.5 .1" fill="none" stroke="#ff0000" stroke-width="2.5" stroke-linejoin="round"/>
<path d="M138.6 641l1.5-.1 1.5-.2 1.5 .3 1.5-.5 1.5 .3 1.5 0 1.5 0 1.5-.1 1.5 0 1.5-.5 1.5 .9 1.5-.3 1.5-.9 1.5-.2 1.5 .1 1.5 .4 1.5-.3 1.5 .1 1.5 .2 1.5-.3 1.5 0 1.5-.1 1.5 .3 1.5-.7 1.5 .5 1.5 .1 1.5-.1 1.5 .1 1.5 0 1.5-.2 1.5-.1 1.5 .6 1.5 .1 1.5-.2 1.5 .2 1.5 .1 1.5 .3 1.5 .2 1.5-.1 1.5 .1 1.5-.3 1.5 .1 1.5 .6 1.5 0 1.5-.3 1.5-.4 1.5 .3 1.5 0 1.5-.1 1.5 0 1.5-.6 1.5 1 1.5-.9 1.5 0 1.5 .2 1.5-.4 1.5-.1 1.5-.1 1.5 .3 1.5-.5 1.5 .3 1.5-.3 1.5-.5 1.5 .2 1.5 .4 1.5-.1 1.5-.5 1.5 .9 1.5-.6 1.5 0 1.5-.1 1.5 .2 1.5 .3 1.5 0 1.5 .5 1.5-1.3 1.5 .4 1.5 .7 1.5 0 1.5 .1 1.5 .4 1.5 .1 1.5 .2 1.5 .2 1.5-.5 1.5 .1 1.5 .2 1.5 .4 1.5 .1 1.5-.3 1.5 0 1.5 .1 1.5 .2 1.5-.5 1.5 0 1.5-.3 1.5-.6 1.5 .8 1.5-.7 1.5 .6 1.5-.5 1.5-.3 1.5 .2 1.5 0 1.5-.1 1.5-.2 1.5-.2 1.5 0 1.5-.3 1.5 .4 1.5-.5 1.5-.1 1.5 0 1.5-.1 1.5 .1 1.5 .4 1.5-.1 1.5 .4 1.5-.2 1.5-.1 1.5 .7 1.5-.3 1.5 1 1.5-.7 1.5 .1 1.5 .3 1.5-.1 1.5 .6 1.5-.5 1.5 .8 1.5-.5 1.5 .1 1.5 .1 1.5 .1 1.5-.3 1.5 .6 1.5-.5 1.5-.2 1.5 .5 1.5-.3 1.5 0 1.5-.1 1.5-.3 1.5 .1 1.5-.7 1.5 .3 1.5-.2 1.5 0 1.5 .2 1.5 0 1.5-.6 1.5 .1 1.5-.6 1.5 .4 1.5-.3 1.5 .2 1.5-.1 1.5 .2 1.5-.3 1.5 .1 1.5 .6 1.5-.7 1.5 .2 1.5 .1 1.5 .1 1.5 .1 1.5-.2 1.5 .5 1.5-.2 1.5 0 1.5 0 1.5 .6 1.5 .1 1.5-.2 1.5 .1 1.5 .3 1.5-.2 1.5 .1 1.5 .3 1.5 .2 1.5 .1 1.5-.3 1.5 .1 1.5 .1 1.5-.4 1.5 .2 1.5-.1 1.5 .1 1.5-.4 1.5-.3 1.5 .4 1.5-.5 1.5 .4 1.5-.3 1.5-.1 1.5-.3 1.5-.2 1.5 0 1.5 0 1.5 0 1.5 0 1.5-.5 1.5-.2 1.5 .5 1.5 0 1.5-.3 1.5 0 1.5 .5 1.5-.3 1.5-.1 1.5 .3 1.5 .1 1.5-.2 1.5 .4 1.5 .1 1.5-.2 1.5 .5 1.5-.5 1.5 .8 1.5-.2 1.5 .3 1.5-.1 1.5 .4 1.5-.1 1.5 .1 1.5 .4 1.5 .1 1.5-.3 1.5-.1 1.5 .2 1.5-.7 1.5 .2 1.5 .4 1.5-.2 1.5-.3 1.5 0 1.5 0 1.5-.2 1.5-.1 1.5-.1 1.5 .2 1.5-1 1.5 .5 1.5-.7 1.5 .4 1.5-.1 1.5-.2 1.5 .2 1.5-.1 1.5 .2 1.5-.4 1.5 .1 1.5 .2 1.5-.5 1.5 .4 1.5 .1 1.5-.3 1.5 .5 1.5-.4 1.5 .9 1.5-.4 1.5 0 1.5-.1 1.5 .1 1.5-.1 1.5 .4 1.5-.2 1.5 .3 1.5 .2 1.5 .2 1.5 .4 1.5-.4 1.5 .1 1.5 .2 1.5-.3 1.5 0 1.5 0 1.5 .4 1.5-.3 1.5 .3 1.5-.7 1.5 0 1.5 .4 1.5-.4 1.5 .4 1.5-.2 1.5-.4 1.5-.3 1.5 .2 1.5 0 1.5-.4 1.5 .7 1.5-.9 1.5 .1 1.5 0 1.5 .3 1.5-.5 1.5-.1 1.5 .6 1.5-.8 1.5 .7 1.5-.3 1.5 .2 1.5-.2 1.5 .2 1.5 .1 1.5 .3 1.5-.2 1.5 .2 1.5 .2 1.5-.4 1.5 .5 1.5-.4 1.5 .2 1.5-.1 1.5 .2 1.5-.2 1.5 .4 1.5-.1 1.5-.2 1.5 .5 1.5 .2 1.5-.6 1.5 .6 1.5-.8 1.5 .3 1.5 .3 1.5-.9 1.5 .9 1.5-.3 1.5-.5 1.5 .8 1.5-.6 1.5 .4 1.5-.1 1.5 .2 1.5-.1 1.5-.3 1.5-.4 1.5-.2 1.5 .6 1.5-.4 1.5 .3 1.5 .4 1.5-.1 1.5-.6 1.5 .2 1.5 .3 1.5 .1 1.5-.3 1.5 0 1.5 .1 1.5-.1 1.5-.3 1.5 .6 1.5-.1 1.5-.6 1.5 .3 1.5-.1 1.5-.1 1.5 .2 1.5 .1 1.5-.1 1.5-.1 1.5 0 1.5 .1 1.5-.2 1.5 .2 1.5-.4 1.5 .4 1.5 .1 1.5 .2 1.5 .5 1.5-.7 1.5-.4 1.5 .4 1.5-.2 1.5 .5 1.5-.5 1.5 .5 1.5-.1 1.5 .2 1.5 .8 1.5-.7 1.5-.3 1.5 0 1.5 0 1.5 .3 1.5 .4 1.5 0 1.5-.2 1.5 0 1.5-.4 1.5-.1 1.5 .1 1.5 .1 1.5 0 1.5-.4 1.5-.1 1.5 .6 1.5-.5 1.5 .2 1.5 0 1.5-.4 1.5 .1 1.5 .1 1.5-.2 1.5-.3 1.5-.1 1.5-.3 1.5 .2 1.5 .5 1.5-.4 1.5 .1 1.5 .1 1.5-.5 1.5 .4 1.5 0 1.5-.2 1.5 .3 1.5 .1 1.5 .2 1.5 .1 1.5-.1 1.5 .9 1.5-.6 1.5 .2 1.5 .2 1.5-.2 1.5-.1 1.5 .5 1.5-.1 1.5 0 1.5 .6 1.5-.5 1.5 .2 1.5 .1 1.5 0 1.5 .5 1.5-1 1.5 .4 1.5-.2 1.5-.2 1.5-.1 1.5-.3 1.5 .2 1.5 .1 1.5-.7 1.5 .2 1.5 .4 1.5-.4 1.5-.4 1.5-.1 1.5 .2 1.5-.1 1.5-.5 1.5-.3 1.5 .4 1.5 .3 1.5-.5 1.5 .4 1.5-.1 1.5-.3 1.5 .6 1.5 .2 1.5-.4 1.5 .1 1.5 .5 1.5-.3 1.5-.3 1.5 .9 1.5-.1 1.5-.1 1.5 .2 1.5-.1 1.5 .5 1.5 .1 1.5 .3 1.5-.2 1.5 .2 1.5 .1 1.5-1 1.5 1.2 1.5-.4 1.5 .2 1.5-.1 1.5-.2 1.5-.2 1.5-.2 1.5-.1 1.5 0 1.5-.3 1.5 .3 1.5-.4 1.5-.4 1.5 .1 1.5 .5 1.5-.7 1.5 0 1.5-.5 1.5 .6 1.5 0 1.5-.4 1.5-.1 1.5 .3 1.5 .1 1.5 0 1.5-.3 1.5 .2 1.5-.2 1.5 .4 1.5-.1 1.5-.1 1.5 0 1.5 .4 1.5 .8 1.5 0 1.5-.2 1.5-.3 1.5-.1 1.5 .9 1.5 .1 1.5 .4 1.5-.4 1.5-.6 1.5 .8 1.5-.2 1.5 0 1.5-.1 1.5 .1 1.5 0 1.5-.3 1.5 .6 1.5-.7 1.5 .2 1.5-.2 1.5-.1 1.5-.5 1.5 .2 1.5-.1 1.5 .2 1.5-.4 1.5-.3 1.5 .3 1.5-.8 1.5 .5 1.5-.2 1.5-.4 1.5 .2 1.5 0 1.5-.9 1.5 .8 1.5 .3 1.5-.3 1.5 .4 1.5 0 1.5 .4 1.5-.3 1.5 .4 1.5-.2 1.5 .5 1.5-.4 1.5 .6 1.5-.5 1.5 .2 1.5 .2 1.5 .6 1.5-.2 1.5 0 1.5 .1 1.5-.3 1.5-.3 1.5 .3 1.5-.5 1.5 .4 1.5 .1 1.5 .2 1.5 .5 1.5-.1 1.5-.8 1.5 0 1.5-.1" fill="none" stroke="#0000ff" stroke-width="2.6" stroke-linejoin="round"/>
<path d="M138.6 672.1l1-.2 1 .1 1-.4 1 .7 1-.4 1-.1 1 .2 1-.7 1 1 1-.1 1-.3 1 .1 1-.2 1-.1 1 .1 1 .1 1 .4 1-.4 1-.9 1 .8 1 .4 1 1.2 1-1.3 1-.9 1 .7 1-.1 1 .2 1 0 1 .7 1-1 1 .5 1 .1 1-.5 1 .2 1 0 1 0 1 .1 1-.1 1 .1 1-.3 1 .4 1-.5 1 .4 1-.4 1 .2 1 .3 1-.3 1-.1 1-.1 1 .2 1 0 1 .7 1-.7 1 .3 1-.2 1 .4 1-.7 1-.3 1 .3 1 .6 1 0 1-.2 1 .1 1 0 1-.3 1-.4 1 .3 1-.4 1 .8 1 .1 1-.5 1-.2 1 .8 1-.5 1 .1 1 .1 1-.3 1 .6 1-.3 1 .3 1-.4 1 0 1-.2 1 .3 1-.5 1 .4 1 .1 1 .1 1 0 1 0 1-.4 1-.1 1 .3 1-.4 1 .1 1 .3 1 .1 1 .3 1-.3 1-.3 1 .1 1 .4 1-.7 1 .8 1-.4 1 .3 1-.3 1 .3 1-.6 1 .3 1 .1 1-.1 1-.1 1 0 1 .4 1-.5 1 .8 1-.4 1-.9 1 .1 1 .6 1-.2 1 .2 1 .3 1-.7 1 .6 1 0 1 .1 1-.4 1 .5 1-1.9 1 0 1 1.6 1 .1 1-.6 1 .6 1-.4 1 .1 1 .1 1-.3 1 .1 1 .3 1 .2 1-.4 1 .4 1-.1 1-.2 1 .2 1-.1 1-.5 1 .2 1-.4 1 .3 1-.1 1 .8 1-.2 1-.5 1 .6 1 .1 1 0 1-.5 1 .4 1-.1 1-.6 1 .3 1-.2 1 .4 1-.3 1-.4 1 .8 1-.1 1-.6 1 .2 1 .5 1-.5 1 .3 1-.1 1 .7 1-.8 1-.3 1 .6 1-.1 1 .2 1-.7 1 .2 1 .6 1-.7 1-.2 1 .5 1 .5 1-.7 1 .1 1 .8 1-.5 1-.3 1 .3 1-.2 1 .2 1-.2 1-.2 1 .7 1-.4 1 0 1 .5 1 0 1-.2 1 .2 1-1 1 .4 1-.2 1 .3 1-.1 1 .2 1-.6 1 .9 1-.6 1 0 1 .1 1 .3 1-.4 1-.4 1 .7 1-.2 1 .2 1 .1 1-.5 1 .3 1 0 1-.3 1 .4 1-.4 1 .3 1 0 1-.3 1 .4 1-.2 1-.4 1 .1 1 .4 1 0 1-.1 1 .6 1-.4 1-.2 1 .5 1-.4 1-.1 1 .5 1-.8 1-.1 1-.1 1 .6 1 .2 1-.7 1 0 1 .1 1-.1 1 .7 1-.6 1 0 1 .3 1 .4 1 .3 1-.8 1 .5 1-1 1 1.1 1-.7 1 .8 1-.3 1 0 1 0 1 .5 1-1 1 .3 1-.2 1 .3 1 .2 1 .2 1-1.1 1 .3 1-.1 1 .6 1 0 1-.2 1 .1 1-.4 1 .2 1 .3 1-.1 1 .1 1-.5 1 .1 1 .2 1 .2 1-.1 1-.2 1 .4 1-.4 1-.1 1 0 1 .5 1-.4 1 .5 1-.3 1-.1 1 0 1-.4 1-.1 1 .4 1 .1 1 0 1 0 1-.2 1 0 1 .4 1-.7 1-.2 1 .8 1-.5 1 .5 1 .6 1-.5 1-.1 1-.8 1 .7 1-.6 1 .4 1 .1 1 .3 1 .1 1-.4 1-.5 1 .6 1-.4 1 .7 1-.3 1 .2 1-.1 1-.1 1-.4 1 .5 1-.5 1 .2 1 0 1 .4 1-.6 1 .4 1 .2 1-.3 1 0 1-.1 1-.4 1 .4 1-.1 1 .3 1-.2 1 .1 1 .1 1-.1 1 0 1-.1 1 .5 1-.4 1 .4 1-.1 1-.1 1-.5 1 .3 1 0 1 .6 1-.2 1-.4 1-.1 1-.4 1 1 1-.1 1-.2 1 0 1-.3 1-.1 1-.1 1 .2 1 .6 1-.4 1-.6 1 .5 1-.6 1 .6 1-.1 1 .2 1 0 1 .6 1-.8 1-.3 1 .7 1-.2 1-.2 1-.3 1 .5 1-.1 1 .3 1 .1 1-.3 1 .3 1-.3 1-.1 1 .3 1-.1 1 .1 1 .2 1-.3 1-.1 1 0 1-.1 1 .1 1 .2 1-.4 1 .6 1-.6 1 0 1 0 1-.1 1 .7 1-.3 1 .1 1 0 1-.4 1 .5 1 0 1 .1 1-.4 1 .4 1-.3 1-.6 1 .6 1-.6 1 .8 1-.7 1 .3 1 .3 1-.4 1-.2 1 0 1 1 1-.7 1 .2 1 0 1 .2 1-.5 1 0 1-.5 1 .5 1 .2 1-.1 1 .2 1-.2 1 .5 1-.4 1-.7 1 1.1 1-.9 1 .4 1 .1 1-.1 1-.2 1-.1 1 .7 1-.4 1-.2 1-.2 1 .4 1 .6 1-1 1 .4 1-.3 1 .8 1 0 1-.6 1-.2 1 .4 1-.1 1 .2 1-.3 1 .4 1-.4 1-.2 1 .3 1 .3 1-.5 1-.1 1 .4 1 .1 1 0 1 .1 1-.4 1 .3 1-.7 1 .8 1-.2 1-.1 1 .3 1 .2 1-.7 1 .2 1-.1 1 .5 1-.3 1 .4 1 .1 1-1 1 .6 1-.6 1 .3 1 .1 1 .4 1-.2 1-.1 1-.6 1 .5 1-.1 1-.2 1 .6 1 0 1 .1 1 .2 1-.6 1-.3 1 .9 1-1.4 1 .8 1 .4 1-.6 1 .2 1-.1 1 0 1 .7 1-.7 1-.1 1 .3 1-.1 1 .3 1 .1 1-.2 1 .5 1-1.3 1 .7 1 .3 1-.7 1 .9 1-.9 1 .1 1 .4 1 .2 1-.4 1 .3 1-.5 1 .6 1 .1 1-.5 1-.4 1-.1 1 .8 1-.7 1 .3 1 .5 1-.1 1-.3 1-.1 1-.2 1 .6 1-.4 1 .4 1-.7 1 .7 1 0 1 .1 1-.2 1-.1 1 .1 1 .3 1-1 1 .5 1-.5 1 0 1 .6 1-.3 1-.3 1 .7 1-.1 1-.1 1 .9 1-1.1 1 .4 1 .1 1 .2 1-.2 1-.5 1 .4 1 .2 1-.6 1 .3 1 .6 1-.5 1-.1 1-.1 1 .1 1 .6 1-1.3 1 .8 1-.3 1 .5 1 .2 1-.2 1-.8 1 .4 1-.1 1 .8 1-.4 1-.2 1-.2 1 .2 1-.3 1-.1 1 .2 1-.2 1 .1 1 .4 1 0 1-.5 1 .1 1 .5 1-.6 1 .4 1 .3 1-.4 1 0 1 .1 1-.3 1 .8 1-1.3 1 1.1 1-.2 1 .2 1-.2 1-.2 1-.2 1 .4 1-.2 1 .1 1-.5 1 .9 1-.8 1 .4 1 .4 1-.9 1 .3 1 .3 1-.2 1 0 1 .4 1-.4 1 .1 1-.6 1 1.1 1-.1 1-.3 1-.3 1 .4 1-.1 1-.2 1 .6 1-.9 1 .8 1-.1 1-.6 1-.1 1 .8 1-1.6 1 .4 1 .4 1-.3 1 .4 1 .6 1-.4 1-.2 1-.4 1 .7 1 0 1-.2 1 .4 1-.5 1 .3 1 .1 1 0 1 .3 1-.3 1 0 1-.3 1 .5 1-.3 1-.1 1 .3 1 .4 1-.5 1-.5 1 .5 1-.1 1-.5 1 1.4 1-.8 1-.4 1 .2 1-.1 1-.2 1 .8 1-.2 1-.1 1-.6 1 .2 1 0 1 .1 1 .3 1-.8 1 .4 1 .6 1-.3 1 .2 1 .2 1-.7 1 .7 1-.3 1-.3 1-.2 1 .7 1-.4 1 0 1 0 1 0 1 .2 1-.3 1 1 1-.5 1 .3 1-1.1 1 .7 1-.6 1 .2 1-.1 1 .6 1-.8 1 .4 1-.7 1 1.2 1-.3 1-.1 1-.3 1 .4 1-.2 1 .1 1 .1 1-.2 1 .4 1-1.1 1 .8 1 .1 1-.5 1 .1 1 .1 1 .1 1 .2 1 .1 1-.1 1-.8 1 0 1 .7 1 .1 1-.3 1-.1 1 .3 1-.7 1 .7 1-.3 1-.2 1 .8 1-.4 1-.1 1 .6 1-.6 1 .3 1-.1 1-.3 1 .3 1-.1 1 .4 1-.1 1-.2 1 0 1-.3 1 .1 1 .4 1-.3 1 .1 1-.1 1 .4 1 .2 1 .2 1-.9 1-.1 1-.2 1 .5 1-.2 1 .1 1 .1 1-.2 1-.2 1 .1 1 .4 1-.3 1 .6 1-.2 1-.4 1 0 1 .5 1-.3 1 .2 1 .1 1-.1 1-.7 1 .1 1 .7 1-.7 1 .2 1 .1 1-.3 1 .1 1 .1 1 .8 1-.6 1-.2 1-.1 1 .3 1-.5 1 .3 1-.2 1 .4 1 .2 1-.2 1 .2 1-.1 1-.3 1-.1 1 .5 1 0 1 0 1-.1 1-.3 1 .3 1-.2 1 .1 1 .3 1-.4 1-.2 1 .3 1 .2 1-.7 1 .2 1 .4 1 0 1 .1 1-.9 1 .8 1 .1 1-.6" fill="none" stroke="#008000" stroke-width="2.75" stroke-linejoin="round"/>
<path d="M138.6 703.3l1 .2 1 .4 1-.5 1-.5 1 .2 1 .8 1-.1 1-.3 1 .2 1-.4 1 .6 1 0 1-.6 1 .1 1 .2 1-.1 1 .2 1-.6 1 .4 1 .2 1-.1 1 .2 1-.6 1 .8 1-.2 1-.6 1 .4 1 .1 1-.6 1 .1 1 .4 1-.6 1 .3 1 .2 1-.1 1 .4 1-.2 1-.2 1 .6 1-.6 1 0 1-.2 1 .5 1-.4 1 .2 1-.1 1-.1 1 .5 1-.3 1-.5 1 .5 1-.4 1 .9 1-.9 1 .3 1 .1 1 .3 1-.8 1 .4 1 .4 1 .2 1-.4 1-.2 1 0 1-.1 1 .9 1-.2 1-.5 1 .3 1-.4 1-.3 1 1.1 1-1.2 1 .4 1 .1 1 .1 1-.2 1 0 1 .3 1-.1 1-.3 1 .3 1-.5 1 0 1 .1 1 .2 1 .3 1-.2 1-.4 1 .2 1 .3 1 .1 1 .1 1-.4 1-.1 1 .5 1-.3 1 .1 1 .4 1-.6 1-1.1 1 2.6 1-.6 1-2.5 1 2.1 1-.4 1-.2 1 .1 1 .5 1-.3 1 0 1-.1 1-.1 1 .1 1 .2 1 .2 1-.7 1 .3 1-.6 1 .7 1 .4 1-.7 1 .4 1 0 1-.1 1-.5 1 .8 1-.6 1 .2 1-.2 1 0 1 .3 1-.3 1 .3 1 .2 1-.7 1 .2 1 .1 1 .5 1-.5 1-.1 1 .1 1 .4 1-.3 1-.2 1 .1 1 .7 1-.6 1 0 1-.8 1 .6 1-.3 1 .5 1 .1 1-.2 1 .2 1-.2 1 .5 1-.2 1-.6 1 .7 1-.6 1 .5 1-.7 1 .4 1 .6 1-1.1 1-.1 1 1.2 1 0 1-.4 1-.2 1 0 1 0 1 .6 1-.2 1-.2 1-.2 1-.1 1 .1 1 .1 1 .1 1 0 1-.4 1 .3 1 .1 1-.6 1 .5 1-.1 1-2.4 1 2.8 1-.7 1 .3 1 .2 1-.3 1 .5 1-.3 1-.9 1 .8 1 .6 1-.3 1 .1 1 .1 1-.6 1 .7 1-1 1 .5 1 .4 1-.7 1 .3 1-.2 1 .2 1-.4 1 .6 1 .1 1-.6 1 .4 1-.2 1 0 1 .6 1-1 1 .6 1-.1 1-.3 1 .3 1-.3 1 .4 1-.1 1 .3 1-.5 1 .4 1-.1 1-.5 1 1 1-.7 1 .3 1-.4 1 .1 1-.2 1 .5 1-.1 1 .2 1-.2 1-.2 1 0 1 0 1-.1 1 .3 1 0 1-.2 1-.1 1-.1 1 .3 1-.2 1-.2 1 .6 1-.6 1 .1 1 .4 1-.1 1 .1 1-.1 1 .4 1-.7 1 .9 1-.4 1-.4 1 .2 1-.4 1 .3 1 .5 1-.1 1-.3 1-.4 1 .3 1-.1 1-.4 1 1.1 1-.7 1-.1 1 .1 1 0 1 .4 1 0 1 0 1-.5 1 .2 1 .2 1 .3 1-.6 1 .5 1 0 1 0 1-1 1 1.1 1-.2 1-.1 1-.1 1-.3 1-.3 1 0 1 .5 1 .1 1 .2 1 .3 1 0 1-.3 1-.2 1 .2 1 .1 1-.5 1 .4 1 .3 1-.5 1-.7 1 1 1-.5 1 .2 1-.1 1-.1 1 0 1-.4 1 1 1-.7 1 .2 1-.8 1 .6 1 .5 1-.1 1 .2 1-.1 1-.2 1-.1 1-.2 1 .2 1 .3 1-.2 1 .2 1-.5 1 .7 1-1 1 .4 1 .4 1 .1 1 .1 1-.2 1-.3 1 0 1-.2 1-.2 1 .1 1 .7 1 .8 1-1.1 1-.3 1 .9 1-1 1 .6 1-.2 1 .5 1-.7 1 .3 1 .1 1 1.5 1-1.4 1-.3 1-.1 1 0 1 0 1 .3 1-.3 1-.2 1 .1 1 .1 1-.3 1 .9 1-.4 1-.2 1 .4 1-.3 1 0 1 .2 1-.1 1 .1 1 0 1-.2 1-.1 1-.2 1 .4 1 .4 1-.4 1-.4 1 1 1-.9 1 .6 1-.8 1 .1 1 .3 1-.1 1 .3 1-.7 1 1.1 1-.8 1-.1 1-.4 1 1 1-.1 1-.2 1 0 1 .3 1-.1 1-.2 1 .1 1 .3 1-.3 1-.5 1 .7 1 .1 1-.5 1 .2 1-.2 1 .4 1-.4 1 .1 1-.2 1 .4 1 0 1-.1 1-.6 1 .7 1-.3 1-.1 1-.8 1 1.5 1-1.4 1 .9 1 .2 1 .1 1 .1 1-.1 1-.5 1-.2 1 .2 1 .4 1-.1 1-.2 1-.4 1 .5 1 .3 1-.4 1 0 1 .5 1-.2 1-.7 1 1.5 1-.8 1-.4 1 .1 1 0 1 .7 1-.5 1-.1 1 0 1 .1 1-.1 1 .3 1-.2 1-.2 1 .1 1 .2 1-.4 1 0 1 .5 1-.3 1-.1 1-.1 1 .9 1-.7 1-.2 1 .4 1 .1 1-.2 1 0 1-.1 1 .4 1-.5 1-.1 1 .5 1-.6 1 0 1 .9 1-.5 1 .2 1-.2 1 0 1 .2 1 .1 1-.5 1 .3 1-.4 1-.3 1 .3 1 .4 1-.3 1 .1 1-.4 1 .4 1-.3 1 0 1 .5 1-.3 1 .3 1-.2 1 0 1-.1 1-.2 1 .1 1-.2 1 .5 1 0 1 .6 1-.8 1 0 1 .2 1 .2 1-.8 1 .7 1-.1 1 .3 1-.2 1-.2 1-.5 1 .5 1 .4 1-.4 1-.4 1-.3 1 .7 1 0 1 .2 1-.1 1-.3 1 .5 1-.2 1 .4 1-.8 1 0 1 .6 1-.2 1-.1 1 .2 1 .4 1-.2 1 .1 1-.7 1 .1 1 .5 1-.6 1 .2 1-.7 1 .8 1-.2 1 0 1 0 1 .2 1 .1 1-.3 1 .1 1-.7 1 .4 1 .2 1 .5 1 .1 1-.3 1-.4 1-.3 1 1.1 1-.3 1-.3 1-.3 1 .3 1 .3 1 0 1-.5 1 .3 1-.5 1 1 1-1 1 .5 1-.1 1 0 1 .6 1-.7 1 .2 1-.3 1 .2 1 .2 1-.3 1 .1 1 .4 1 0 1-.6 1 .3 1 0 1-.5 1 .3 1-.6 1 1 1-.5 1 .7 1-.3 1 .1 1-.2 1 0 1 .2 1-.5 1 .3 1 0 1-.2 1 .3 1-.5 1 .6 1-.5 1-.5 1 .2 1 .2 1 0 1 .1 1 0 1 .6 1-.5 1-.5 1 .2 1 .4 1-.3 1 .3 1 0 1 0 1-.1 1-.1 1 .4 1-.7 1 .4 1-.3 1 .2 1 .2 1 .2 1-.6 1 .5 1 .4 1-.8 1 .1 1 .6 1-.4 1-.2 1-.2 1 .9 1 1 1-1.5 1-.2 1-.6 1 1.4 1-.3 1 .6 1-.8 1-.4 1 .3 1 .1 1-.1 1-.3 1 0 1 .3 1-.3 1 .3 1-.6 1 .3 1 .7 1-.7 1 .4 1-.4 1-.2 1 .2 1 .9 1-.3 1 .2 1-.7 1 .7 1-1.2 1 .4 1 .3 1-.7 1 1.2 1-.8 1-.7 1 .7 1 .6 1-.3 1 .1 1 0 1 0 1 .1 1-.1 1-.2 1 0 1 0 1-.1 1 .3 1-.4 1 .2 1 0 1 .1 1 .2 1-1.1 1 .9 1-.3 1-.2 1 .5 1 .4 1-.6 1 .1 1 0 1-.7 1 1 1-.3 1-.1 1 .4 1-.2 1 .4 1-.4 1-.1 1 0 1-.2 1 .3 1 .8 1-.3 1-.8 1 .4 1-.3 1 .3 1-.2 1 0 1 .5 1-.2 1 .4 1-.7 1 .6 1-.8 1 .8 1-.8 1 .2 1 .6 1-.8 1 0 1 .4 1-.3 1 .2 1 .4 1-.4 1-.3 1 0 1 .5 1 .1 1 .5 1-.1 1-.7 1-.1 1 .2 1-.2 1-.1 1 .4 1-.1 1-.3 1 .1 1-.1 1 0 1 .4 1 .2 1-.8 1 0 1 .6 1-.5 1 .4 1 .1 1-.5 1 1 1-.9 1-.1 1 1.3 1-.6 1-.7 1 .4 1 .5 1-.9 1 .2 1-.2 1 .5 1 .1 1-.4 1 0 1 .3 1-.3 1 .4 1-.5 1 0 1-.2 1 .4 1 .2 1-.4 1 0 1-.4 1 .4 1 .5 1 .2 1-.6 1 .2 1 0 1 .1 1-.5 1 .7 1-.3 1-.2 1 0 1 .1 1 .1 1 .2 1-.2 1-.2 1 .1 1 .1 1-.8 1 .3 1 .4 1-.2 1 .5 1-.7 1 .4 1 0 1-.5 1 .2 1 .1 1-.2 1 .2 1 .4 1 0 1-.4 1 .3 1 .2 1-.1 1-.2 1-.4 1 .8 1-.5 1 .9 1-.7 1-1.5 1 .6 1 .8 1 .2 1-.4 1 0 1 .1 1-.3 1 .1 1 .7 1-1 1 0 1 .5 1 .2 1 0 1-.3 1-.3 1 .3 1 .2 1-.5" fill="none" stroke="#000000" stroke-width="2.75" stroke-linejoin="round"/>
<path d="M138.6 735.4l1-.1 1-.8 1 .9 1-.6 1 0 1 .5 1-.3 1 .2 1-.4 1-.1 1-.4 1 .9 1-.5 1 .4 1-.1 1-.5 1 .8 1-.2 1-.4 1 .4 1 .2 1-.4 1 .2 1 .3 1-.5 1 0 1 .1 1-.1 1 .4 1-.1 1 .1 1-.6 1 .7 1-.3 1-.1 1 .4 1 .1 1-.2 1-.2 1-.4 1 .2 1 .3 1 .3 1-.5 1 0 1 0 1-.2 1-.1 1 .4 1-.4 1-.1 1 .5 1 .1 1-.1 1 .1 1 0 1-.7 1 .3 1 .6 1-.2 1-.7 1 .6 1-.4 1 .4 1-.3 1 .1 1 0 1-.1 1 .4 1-.2 1 .1 1-.4 1 .5 1 .2 1-.6 1 .4 1 .1 1-.2 1-.2 1 .2 1-.1 1-.1 1-.2 1 .6 1-.3 1 0 1 .2 1-.2 1 .6 1-1 1 .2 1 .8 1 .6 1 .3 1-1.1 1-.4 1 .6 1-.6 1-.7 1 .8 1-.1 1 .1 1-.8 1 .8 1-.4 1 .4 1 0 1 0 1 .4 1-.2 1 .1 1-.3 1-.4 1 .2 1-.9 1 1 1 0 1-.4 1 .1 1 .4 1-.3 1 .3 1 0 1-.2 1 .2 1 0 1-.4 1 .2 1 .3 1 0 1-.1 1 .1 1-.3 1-.2 1 .3 1 .1 1-.2 1 0 1 .2 1 .2 1-.1 1-.4 1 .2 1-.2 1 .5 1 .3 1-.4 1 .2 1-.3 1-.1 1 0 1 .1 1 0 1 .2 1 .1 1-.4 1-.7 1 .1 1 .5 1-.2 1 .5 1-.1 1-.1 1 .3 1-.4 1-.5 1 .9 1-.9 1 .9 1-.3 1-.1 1 .2 1-.1 1 0 1-.2 1 .5 1-.3 1 .1 1 .2 1-.3 1-.2 1-.3 1 .1 1 .3 1-.4 1 .5 1 .2 1-.3 1 .1 1 .1 1-.4 1 .2 1 0 1-.3 1 .8 1-.5 1-.1 1-.1 1 .2 1 .4 1-.6 1 .5 1-.1 1 .1 1 .4 1-.6 1 .1 1-.3 1 0 1 .3 1 .1 1-.2 1-.3 1 .5 1-.2 1-.3 1 .8 1-.5 1-.2 1 .3 1 .4 1-.5 1 .1 1-.7 1 .8 1-.5 1 .4 1-.1 1 .1 1 .1 1-.3 1-.1 1 .4 1-.2 1 .1 1 .5 1-.4 1 .2 1-.5 1 .8 1-.7 1 0 1-.1 1 .2 1 0 1-.1 1 0 1 .4 1-.6 1 .5 1-.5 1 .4 1-.4 1 0 1 .8 1 0 1-.4 1-.7 1 .4 1 .2 1-.1 1-.2 1 .5 1-.4 1 .1 1 .1 1-.1 1 .7 1-.5 1-.8 1 .5 1-.3 1 1.1 1-.5 1-.2 1 0 1 .2 1-.3 1 .1 1 0 1-.2 1 .5 1-.4 1 .1 1 .3 1 0 1-.5 1 .2 1-.3 1 .4 1-.2 1 .1 1-.1 1 .3 1-.2 1 0 1 0 1 .6 1-.4 1-.1 1-.1 1-.1 1 .4 1 0 1-.1 1-.4 1 .5 1-.3 1-.2 1 .7 1-.4 1 0 1 .3 1-.4 1 0 1 .8 1-1 1 .1 1 .2 1-.5 1 .6 1-.4 1-.4 1 .7 1-.6 1 .5 1-.2 1 .3 1 .5 1-.8 1 .1 1 .2 1-.1 1 .2 1-.3 1-.2 1 .2 1 .1 1 0 1 0 1 0 1 .2 1 .1 1-.1 1-.2 1 0 1-.5 1 .8 1-.6 1 .1 1 .3 1-.2 1 .5 1 0 1-.6 1 .7 1-.2 1 .3 1-.5 1 0 1 0 1-.1 1-.1 1-.2 1 .3 1 .2 1-.1 1 .2 1-.9 1 1.4 1-.9 1 .2 1-.1 1-.7 1 1.2 1 0 1-1 1 .5 1 .2 1 0 1 .1 1 0 1-.1 1-.1 1 .2 1-.8 1 1.2 1-.2 1-.6 1 .1 1-.1 1 .4 1-.6 1 .7 1 .1 1-.7 1 .1 1 .3 1 .3 1-.3 1 0 1 0 1-.3 1 .1 1-.3 1 0 1 .4 1-.1 1-.1 1 .2 1-.1 1 .1 1-.5 1 .1 1 1 1-.7 1-.2 1 .7 1-.8 1 .5 1-.1 1-.5 1 .5 1 0 1-1 1 1.2 1-.4 1-.1 1 0 1 .1 1 0 1 0 1 .5 1 .3 1-1.1 1 .8 1-.5 1 1 1-.3 1-.8 1 0 1 0 1 .1 1 0 1-.6 1 .4 1 .1 1 .3 1-.2 1-.1 1 .2 1 .1 1 1.1 1-1.4 1 .5 1-.4 1 .4 1-.2 1-.4 1-.2 1 .6 1-1.1 1 .8 1 0 1 .1 1 0 1 .6 1-.4 1-.1 1 0 1-.1 1 .1 1 .1 1-.2 1-.3 1 .3 1 .3 1-.4 1 .2 1-.1 1 .3 1-.3 1-.6 1 .8 1 .4 1-.7 1 .4 1 .3 1-.8 1 .5 1-.3 1-.1 1 .4 1-.6 1 .5 1 .1 1 .1 1-.4 1 .2 1 .4 1-.3 1 0 1 .2 1-.4 1-.2 1-.6 1 .6 1 .1 1 .1 1 .1 1-.2 1 0 1 .1 1-.2 1 .5 1-.4 1 .5 1-.2 1 .1 1-.6 1 .2 1 0 1-.1 1 .5 1-.7 1 .2 1 .3 1-.3 1 .3 1-.8 1 .5 1 0 1 .8 1-.6 1-.1 1-.1 1 .7 1-.9 1 .4 1 .4 1 .3 1-.6 1 0 1-.4 1-.1 1 .1 1 .7 1-.5 1 .1 1 .4 1-.1 1-.4 1 0 1 .1 1 0 1-.3 1 .1 1-.2 1 0 1 .7 1-.2 1 .2 1-.5 1 0 1 .5 1 0 1 0 1 .2 1-.5 1 0 1 0 1-.2 1 .1 1 .3 1 .3 1-.7 1 .5 1-.2 1-.2 1 .1 1 .3 1-.4 1 .6 1-.2 1-.2 1 .3 1-.2 1-.2 1 .1 1 .2 1-.1 1 0 1-.2 1-.3 1 .6 1-.4 1-.1 1 .3 1 .2 1-.5 1 .4 1-.2 1 0 1 0 1-.1 1 0 1-.3 1 1.1 1-.5 1-.1 1-.1 1-.6 1 0 1 .9 1-.3 1 .1 1 .1 1 .5 1-.7 1 .2 1 .2 1-.9 1 .9 1-.2 1 .6 1-.7 1 .1 1 .2 1 0 1-.1 1-.2 1-.1 1 .4 1-.4 1 .5 1-.5 1-.1 1-.4 1 .5 1-.2 1 .5 1-.3 1 0 1 0 1 .2 1-.1 1-.4 1 .3 1-.5 1 .4 1 .3 1-.5 1 .3 1 .4 1-.9 1 .7 1-.3 1 .3 1 .2 1-.5 1 .8 1-.7 1 .1 1-.1 1 .3 1-.4 1 .5 1 0 1 .2 1-.4 1-.2 1-.1 1 0 1 0 1 .2 1-.1 1 .8 1-1 1 .3 1 .1 1 .1 1-.6 1 0 1 .4 1-.4 1 .6 1-.2 1 .3 1 .2 1-.3 1 0 1-.2 1 1.1 1-.4 1-.5 1-.4 1 .1 1-.2 1-.3 1 .7 1-.4 1 1.3 1-1.6 1 .7 1-.8 1-.7 1 2.7 1-1.5 1 0 1 .2 1 .3 1-.2 1-.1 1-.3 1 .6 1 0 1 .1 1-.6 1 .3 1-.7 1 .7 1-.6 1 .8 1 .1 1 0 1-.7 1 .1 1 0 1 .4 1-.2 1 .1 1 .3 1-.4 1 .1 1-.4 1 .8 1-.5 1 .3 1-.4 1 0 1 .6 1-.7 1 .3 1-.6 1 .2 1 .2 1 .3 1-.6 1 .5 1 .1 1-.3 1-.6 1 .7 1 .1 1-.3 1-.1 1 .2 1 .2 1-.1 1-.1 1 0 1 .4 1-.2 1-.2 1 .4 1-.6 1 .1 1 .7 1-.5 1 .3 1-.2 1-.6 1 .6 1-.4 1 .7 1-.7 1 .3 1-.1 1 .3 1 .1 1-.3 1 .1 1-.4 1 .3 1-.9 1 1.3 1 0 1-.5 1-.2 1 .7 1-.6 1 .3 1-.3 1-.2 1 .7 1-.1 1-.1 1 0 1-.8 1 .7 1 0 1 .1 1-.1 1 0 1-.2 1 .3 1-.5 1 .5 1 .4 1 .1 1-.9 1 .3 1 .1 1-.7 1 .8 1-.1 1 .4 1-.9 1 .7 1 0 1-.1 1-.4 1 .2 1-.2 1 0 1 .3 1 .1 1-.1 1-.6 1 .5 1 0 1-.4 1 .4 1 0 1 .5 1-.1 1-.4 1-.4 1 .7 1 .2 1-.2 1-.4 1 0 1-.3 1 .9 1-.2 1-.3 1-.4 1-.1 1 .6 1 .1 1-.7 1 .7 1-.4 1-.2 1-.1 1 .3 1 .2 1 .1 1-.2 1-.1 1 0 1 .3 1 .2 1-.4 1 .3 1-.3 1-.2 1 .3 1-.3 1 .4 1-.5 1 .2 1 .2" fill="none" stroke="#ff0000" stroke-width="2.75" stroke-linejoin="round"/>
<path d="M138.6 766.2l1 .4 1-.2 1 .9 1-.8 1-.4 1-.1 1 .7 1-.1 1-.4 1 .7 1-.1 1 .2 1-.5 1-.2 1 .6 1-.1 1 0 1-.1 1-.4 1-.3 1 1.1 1-.8 1 .3 1 .4 1-.2 1-.4 1 .2 1 .4 1-.6 1-.4 1 .5 1-.6 1 1.2 1-.6 1-.2 1-.5 1 1 1-.2 1 0 1 .2 1-.4 1 .1 1 .4 1-.2 1 .3 1-.6 1 0 1-.1 1 .3 1-.2 1-.3 1 .9 1-.3 1 .2 1-1.2 1 1 1-.8 1 .3 1 0 1 .4 1-.2 1 .1 1-.3 1 .2 1 .2 1 .5 1-.7 1 .3 1-.3 1 .4 1 .2 1-.9 1 1 1-.5 1-.3 1 .4 1-.1 1-.5 1 .9 1-.8 1 .4 1 .2 1-.5 1 .3 1 .1 1 .2 1-.3 1-.1 1 .1 1-.3 1 .3 1 .2 1 .2 1-.6 1-.2 1 .8 1-1.1 1 .8 1-.2 1-.3 1 .3 1 .4 1-.5 1 0 1 .3 1 0 1 .5 1-.1 1-.4 1 0 1-.1 1 .1 1 .1 1 0 1-.7 1 .9 1-.6 1-.1 1 .3 1-.5 1 .3 1 0 1 .8 1-.3 1 .5 1-.9 1 .1 1 .4 1-.1 1-.2 1-.2 1 .4 1-.3 1 0 1-.2 1 0 1 .3 1 0 1-.1 1-.2 1 .5 1-.4 1-.3 1 .7 1-.5 1-.1 1-.1 1 0 1 1.3 1-.5 1 .1 1-.7 1 .2 1-.2 1 .5 1-.2 1 0 1-.2 1 .9 1-.8 1-.3 1 .2 1-.1 1 .4 1 0 1-1.1 1 2.2 1-.5 1-.5 1 .3 1-.2 1-.4 1-.8 1 .7 1 0 1 .8 1-.9 1 0 1-.3 1 .4 1-.2 1 .3 1 .2 1-.4 1 .1 1-.1 1 0 1 .7 1-.2 1-.6 1 0 1 .1 1-.5 1 .4 1 .2 1 .2 1-.1 1-.4 1 .4 1 .1 1 .1 1 .5 1-.8 1 .3 1 .3 1-.1 1-.6 1 .3 1-.2 1 .1 1 .1 1-.5 1 .4 1-.1 1 .3 1-.4 1-.4 1 .8 1-.5 1 .6 1-.2 1 .3 1 0 1 .1 1-.1 1-.1 1-.2 1-.4 1 .1 1 .2 1 0 1-.3 1 .6 1-1 1 1 1-.5 1 0 1 .3 1-.1 1-.1 1 .7 1-.3 1-.5 1 .2 1 .2 1-.6 1 .3 1 0 1 .6 1-.7 1 .3 1 .2 1 0 1-.4 1-.6 1 .5 1 .4 1 0 1-.4 1-.1 1 .6 1-.1 1 0 1 .4 1-.2 1-.9 1 .2 1 .2 1 .6 1-.8 1 .2 1 0 1-.1 1-.1 1 0 1 .5 1-.1 1-.2 1 .3 1-.2 1 0 1-.4 1 .5 1 .2 1-.3 1 .3 1-.1 1-.3 1 .1 1 .3 1-.2 1-1.2 1 1.1 1 .1 1 0 1 0 1 .4 1-.5 1-.2 1 .3 1 .6 1-.3 1-.3 1-.1 1-.3 1 .8 1-.8 1 .3 1-.1 1 0 1 .4 1-.4 1-.5 1 1 1-.3 1 .2 1-.6 1 .9 1-1.1 1 1.5 1-.9 1-.3 1 .5 1 0 1-.1 1-.1 1 0 1 .2 1-.2 1 .1 1-.5 1 .1 1 .2 1-.2 1 .3 1-.1 1 .5 1-.5 1 .1 1-.3 1 .2 1 .1 1 0 1 .1 1 0 1-.3 1-.3 1 1 1-.6 1 .2 1-.2 1 .3 1-.1 1 .3 1-.6 1 .5 1-.3 1 .3 1-.4 1-.2 1 0 1 .2 1 .2 1-.1 1-.4 1 .7 1-.8 1-.1 1 .4 1 0 1 .2 1-.1 1-.2 1 .4 1-.7 1-.2 1 1.2 1-.6 1 0 1 .3 1 .2 1-.1 1-.5 1 0 1 .3 1-.1 1 0 1-.4 1 .7 1 .1 1-.9 1 .6 1-.3 1 .4 1-.5 1 .2 1 .5 1-.5 1 .1 1 .4 1-.3 1 .1 1-.3 1-.8 1 .3 1 .4 1 .3 1-.4 1 .7 1-.5 1-.3 1 .4 1 0 1 .1 1 0 1-.3 1 .3 1 0 1-.1 1-.2 1 .2 1-.6 1 .5 1 .1 1-.1 1-.2 1 0 1 .6 1-.4 1-.4 1 .5 1 .4 1-.2 1-.2 1 .2 1-.2 1-.5 1-.3 1 1 1 .3 1-.4 1 .1 1 .2 1-.4 1 .2 1-.5 1 .3 1-.1 1-.1 1 .1 1 .4 1 0 1-.5 1 .8 1-.7 1-.3 1 .5 1 .1 1 .2 1 0 1-.1 1-1.3 1 .1 1 2.2 1-2.3 1 .9 1-.1 1 .3 1 0 1-.1 1 .3 1-.5 1 .1 1 .4 1-.6 1 .5 1 .1 1-.3 1-.1 1 .2 1-.5 1 .8 1 .3 1-1.2 1 .3 1-.6 1 .6 1-.2 1 .5 1 .2 1-.3 1-.2 1 .2 1 .2 1-.1 1-.6 1 .3 1 .4 1-.2 1 0 1-.3 1 .7 1 .3 1-.3 1-.5 1 .5 1-.3 1-.1 1-.1 1 .5 1-.5 1 .5 1-.2 1-.4 1 .1 1 .1 1 .2 1 0 1-.1 1 .1 1-.3 1 .4 1-.2 1-.4 1-.3 1 .2 1 .2 1 .4 1-.4 1 .5 1 0 1-.2 1 .7 1-.7 1-.6 1 .8 1-.2 1-.2 1-.1 1 .7 1-.7 1 .7 1-.4 1 .4 1-.2 1-.2 1-.6 1 .1 1 .3 1 .1 1-.3 1 .1 1 0 1 .1 1 .4 1-.6 1-.1 1 .4 1 0 1-.2 1 .4 1-.7 1 .4 1 0 1 .6 1-.9 1 0 1 .4 1 .1 1 .3 1-.6 1 0 1-.2 1 .4 1 .2 1-.5 1 .5 1-.3 1 0 1 .2 1 0 1-.2 1 .1 1 .1 1-.7 1 .6 1-.2 1 .5 1-.6 1 .2 1 .8 1-.8 1-.3 1 .3 1-.1 1 .3 1-.1 1 .1 1 .2 1-.4 1-.2 1 .5 1-.6 1 .4 1 .4 1-.7 1 .8 1-.5 1 .2 1-.4 1 0 1 .5 1-.2 1-.5 1 .5 1 .2 1-.5 1-.2 1 .7 1-.5 1-.1 1-.2 1 .8 1-.3 1-.2 1-.2 1 .8 1 .1 1-1 1 1 1-.4 1-.4 1 .6 1 0 1-.2 1-.2 1-.2 1 .2 1-.4 1 .2 1 .3 1-.2 1 .4 1-.3 1 .6 1-.8 1 .5 1-.8 1 .3 1 .1 1 .4 1-.5 1 .3 1-.2 1 .5 1-.5 1 .1 1 .3 1-.3 1 .2 1-.5 1 .6 1 0 1-.2 1-.2 1 .7 1-.4 1 .5 1-1 1 .4 1-.7 1 .6 1-.1 1 .3 1-.1 1 .1 1-.4 1 .5 1-.9 1 .8 1-.3 1-.1 1 .4 1-.1 1 .3 1-.2 1 0 1-.2 1 0 1 .1 1 .2 1-.4 1 .5 1 .2 1-.3 1 0 1 0 1-.5 1 .5 1 .4 1-.3 1 .2 1-.7 1-.2 1 .3 1 0 1 .1 1 .3 1-.2 1-.3 1 .1 1-.2 1 .3 1 .3 1-.3 1-.1 1 .1 1-.2 1 .1 1 .2 1-.4 1 .1 1 .8 1-.5 1 .5 1-.2 1-.4 1 .4 1-.4 1 0 1 .1 1-.3 1 .6 1-.1 1-.4 1 .5 1-.3 1-.5 1 0 1 0 1 .3 1 .6 1-.3 1-.4 1 .6 1-.5 1 0 1 .7 1-.9 1 .6 1-.2 1-.1 1-.1 1 .3 1-.5 1 .3 1-.8 1 .6 1 .2 1 .8 1-1 1 0 1 .1 1 .2 1 0 1 .3 1-.6 1-.2 1 .6 1-.2 1 .3 1 0 1 0 1 .2 1-.8 1 .2 1 1 1-.8 1-.1 1-.1 1-.1 1 .2 1-.1 1 .2 1 .2 1-.1 1-.3 1 .3 1-.5 1 .2 1-.3 1 .7 1-.5 1 .1 1 .2 1-.2 1-.2 1 .4 1-.4 1 0 1-.1 1 .2 1 .2 1-.5 1 .5 1-.2 1 .2 1-.1 1 .3 1-.1 1 .4 1 0 1-.9 1 .6 1 0 1-.1 1-.4 1-.3 1 1.2 1-.4 1-.1 1 0 1 0 1-.5 1 .4 1-.1 1 0 1 .5 1-.6 1 0 1 .2 1 .2 1-.4 1 .4 1 .2 1-.8 1 .2 1 .3 1-.3 1 .7 1-.8 1-.1 1 .2 1-.1 1 .4 1-.3 1-.3 1 .5 1-.3 1 .5 1-.2 1-.1 1-.1 1 .9 1-.8 1-.4 1 .7 1 .2 1-1 1 .7 1-.3 1 .1 1 .1 1-.2 1 0 1 .4 1-.2 1-.2 1 .8 1-.5 1 .2 1-.1 1-.6 1 .6" fill="none" stroke="#0000ff" stroke-width="2.75" stroke-linejoin="round"/>
<path d="M138.6 798.3l1-.1 1-.2 1 .2 1 0 1-.1 1-.2 1 .2 1 .2 1-.3 1 0 1 .7 1-.5 1 0 1-.4 1 .5 1-.2 1 0 1-.1 1 .4 1-.1 1-.2 1 .4 1 .1 1 .2 1-.6 1-.3 1 .1 1 .4 1-.7 1 .2 1 .7 1-.3 1 .2 1-.9 1 .5 1-.1 1 .4 1-.2 1-.4 1 .2 1-.2 1 0 1-.2 1 .1 1 .5 1-.1 1 .1 1 0 1-.2 1 .4 1-.9 1 .5 1 0 1 0 1 .4 1 0 1-.1 1-.4 1 .1 1 .2 1 .1 1-.2 1 0 1-.1 1 .3 1-.6 1 .4 1 .4 1-.6 1 1 1-.8 1-.1 1 0 1 0 1 .2 1 .3 1-.4 1 .1 1-.1 1 .2 1 0 1-.2 1 .3 1-.3 1 .4 1-.5 1 .2 1 .2 1-.1 1 .1 1-.1 1 .2 1-.3 1 .4 1-.2 1-1 1 1.2 1-.5 1 .4 1-.3 1-.3 1 0 1 .6 1 .3 1-.8 1-.3 1 .7 1-.4 1-.1 1 .3 1 .1 1-.1 1-.1 1-.3 1 .3 1 .3 1 .1 1 .1 1-.7 1 .1 1 .3 1 .2 1-.4 1-.3 1 0 1 .3 1 .1 1 .2 1 .1 1-.7 1 .8 1-.5 1-.8 1 .7 1-.1 1 .3 1-.1 1-.6 1 .6 1-.1 1 .1 1-.3 1 .3 1-.4 1 .9 1-.6 1 .4 1-.5 1 .2 1-.1 1 .4 1-.1 1-.2 1 .1 1 .1 1 .5 1-.7 1 .2 1 .2 1-.1 1-.1 1-.4 1 .6 1 .1 1-.7 1-.3 1 .4 1-.3 1 .5 1 0 1-.3 1 .4 1-.5 1 0 1 .4 1 0 1 .3 1-.1 1 .1 1 .1 1-.8 1 .1 1 0 1 .2 1-.1 1 .7 1-.4 1-.4 1 .6 1-.6 1 .4 1-.1 1-.3 1 .3 1-.6 1 .9 1 .4 1-.5 1-.1 1-.7 1 .5 1 .2 1 .2 1-.8 1 .9 1-.3 1 0 1 0 1-.4 1 .3 1-.1 1-.1 1 .2 1-.7 1 .3 1 .2 1 .5 1-.4 1 .4 1-.6 1 .2 1-.1 1-.2 1 .5 1-.3 1 .3 1-.2 1 .5 1-.4 1-.1 1-.3 1 1.4 1-.8 1 .1 1 .1 1-.3 1-.3 1 .4 1-.5 1 .8 1-.9 1 .4 1-.3 1-.5 1 .3 1 .3 1 .4 1-.3 1 0 1 0 1 .2 1-.4 1 .4 1-.4 1 0 1 .3 1 0 1-.6 1 .5 1 .6 1-.8 1 .1 1 .7 1-.8 1 .3 1 .2 1-.1 1-.4 1 .2 1 .3 1 .4 1 0 1-.4 1-.7 1 .7 1 0 1 0 1-.2 1-.4 1 .1 1 .5 1-.2 1 .1 1-.1 1 0 1 0 1-.1 1 .1 1-.1 1-.2 1-.1 1 1 1-.5 1-.2 1-.6 1 .4 1 .3 1 0 1 .1 1-.4 1-.2 1 .5 1 0 1-.2 1 .3 1-.1 1 .2 1-.4 1-.1 1 0 1 .1 1 .5 1-.4 1 .2 1-.1 1-.1 1-.6 1 .9 1 0 1 0 1-.5 1 .6 1-.3 1-.1 1 .3 1-.1 1-.2 1 .3 1-.7 1 .2 1 .1 1 .5 1-.1 1-.1 1-.2 1 .3 1 0 1-.2 1-.1 1 .1 1-.2 1 .3 1-.1 1-.7 1 .8 1-.2 1 0 1 .2 1 .1 1 .1 1-.1 1-.7 1 1 1-.3 1-.8 1 .6 1 .3 1-.4 1-.1 1 .4 1-.2 1-.5 1 .8 1-.3 1-.1 1 .7 1-.4 1-.3 1 .2 1 0 1-.7 1 .1 1 .1 1 .7 1-.8 1 .4 1 .4 1-.1 1-.3 1-.4 1 0 1 .7 1-.5 1 0 1 .6 1-.1 1-.2 1 0 1-.5 1 .9 1-.2 1-.5 1 0 1 .6 1-.1 1-.3 1-.1 1 .1 1 0 1 .1 1 .2 1-.2 1-.3 1 .9 1-1.2 1 .6 1 0 1-.1 1-.5 1 .9 1-.6 1 .3 1-.3 1 1.3 1 .9 1-2.4 1 .1 1 .6 1-.3 1 .3 1-.2 1 .2 1 0 1-.5 1 0 1 .1 1 .1 1-.7 1 .6 1-.1 1 .7 1-.8 1 0 1 .2 1-.1 1 .3 1 .1 1 0 1-.1 1 0 1-.6 1 .8 1-.8 1 .3 1 .6 1-.3 1-.2 1 .4 1-.2 1 .4 1-.7 1 .6 1 .1 1-.3 1 .1 1 .1 1 .7 1-.9 1-.3 1 1.2 1-1 1-.4 1 .6 1-.5 1 0 1 .3 1 .2 1-.7 1 .1 1 .3 1 .1 1 .1 1 0 1 .2 1-.4 1-.3 1 .4 1 .3 1-.8 1 .7 1 .1 1-1 1 .5 1 .5 1-.2 1 0 1 .2 1-.2 1-.4 1 0 1 .2 1 .6 1-.8 1 .3 1 0 1-.3 1 .2 1 .5 1-.4 1 .2 1 .1 1 0 1-.1 1 0 1-.7 1 .8 1-.6 1 .2 1 .2 1-.6 1-.2 1 .6 1-.1 1 .3 1-.1 1 0 1-.2 1 0 1-.2 1 .1 1 .5 1-.3 1 .4 1-.2 1 .2 1-.6 1-.1 1 1 1-.7 1 .4 1-.6 1 .6 1 0 1 0 1-.5 1-.3 1 .6 1-.5 1-.1 1 .2 1 .3 1 .1 1-.5 1 .2 1 0 1-.2 1 .3 1-.4 1 .2 1 .2 1 .2 1-.4 1 .5 1-.5 1 .3 1-.2 1 .2 1 .3 1-.1 1 .1 1-.2 1 .2 1-.4 1-.1 1-.3 1 .1 1 .4 1 0 1 .4 1-.7 1 .2 1 .4 1-.5 1-.4 1 .9 1-.3 1-.8 1 .6 1 .4 1-.2 1 .4 1-.2 1-.6 1 .3 1-.1 1 .3 1-.2 1 .1 1-.2 1 0 1-.3 1 .6 1 .2 1-.3 1 .7 1-.4 1 .4 1-.8 1 0 1 .2 1 .1 1-.4 1-.2 1 .4 1 .3 1-.2 1-.4 1 .1 1 .5 1 0 1-.7 1 .7 1-.4 1 .1 1 0 1 .2 1-.3 1 .2 1-.9 1 .3 1 .3 1-.3 1 .3 1 .4 1-.7 1 .4 1 0 1 .3 1 0 1 0 1-.8 1 0 1 .8 1-.5 1 .6 1 .2 1 0 1-.7 1 .4 1-.1 1-.1 1 .3 1-.2 1-.1 1-.1 1-.3 1 .4 1-.1 1-.1 1 .3 1 .1 1-.4 1 .4 1-.6 1 .4 1-.5 1 1 1-.4 1 0 1-.3 1-.1 1 .5 1 .3 1-.9 1 .6 1 .4 1-1 1 0 1 .5 1 .1 1-.2 1 1.7 1-2.5 1 .3 1 .8 1-.4 1-.2 1 .6 1-.2 1 .1 1 0 1-.3 1 0 1 .1 1 .2 1-.3 1-.1 1-.1 1 .1 1-.4 1 .4 1-.3 1 .1 1 .4 1 .2 1-.5 1 .3 1-.2 1 .6 1-.3 1 .2 1-.6 1 .6 1-1 1 .8 1-.8 1 .9 1 0 1-.1 1-.3 1 .2 1 .4 1-1.4 1 .3 1 1.2 1-1 1 .4 1 .5 1-.3 1-.1 1-.4 1 0 1 .1 1 .3 1-.2 1-.5 1 .6 1-.4 1 .7 1 0 1-.1 1 .2 1-.2 1-.3 1 0 1 .4 1 .2 1 .1 1 0 1-.5 1-.3 1 .4 1 .1 1-.2 1 .5 1-.7 1 .5 1 .2 1-.4 1 .3 1-.7 1 .2 1 0 1 .2 1 .1 1-.3 1-.1 1 .4 1-.2 1-.1 1 .2 1 .1 1-.4 1 .5 1-.1 1 .2 1-.3 1-.3 1-.1 1 .5 1 .1 1-.1 1 .2 1-.9 1 .2 1 .6 1-.5 1 0 1 .4 1-.8 1 .2 1 .5 1 0 1-.2 1-.5 1-.4 1 .9 1-.6 1 .3 1 .5 1 .2 1-.3 1 .6 1-.5 1 0 1-.1 1 0 1-.1 1-.4 1 .3 1 0 1 0 1 0 1-.3 1 0 1 .6 1-.2 1 0 1 .4 1-.4 1 .8 1-1.4 1 .1 1 1 1-.4 1 .3 1-.2 1 0 1-.2 1-.3 1 .4 1-.3 1 .4 1-.1 1-.5 1 .6 1 .1 1-.7 1 .6 1-.4 1 .3 1-.2 1-.2 1 0 1 .8 1-.4 1 .2 1 0 1-.4 1 0 1 .1 1 .5 1-.4 1-.3 1 .5 1-.4 1 .4 1 .2 1 .4 1-.7 1 .5 1-.3 1 .1 1-.9 1 .3 1-.1 1 .4 1-.2 1 .4 1 .1 1-1.1 1 .3 1 .6 1-.3 1 0 1 .8 1-1.2 1 .5 1 .4 1-.2 1 .1 1-.8 1 .6 1-.4" fill="none" stroke="#008000" stroke-width="2.75" stroke-linejoin="round"/>
<path d="M138.6 830.1l1-.5 1 .4 1 .4 1-1.2 1 .8 1-.1 1-.2 1 .5 1-.6 1 .4 1-.3 1-.2 1 .3 1 .1 1 0 1-.1 1 .1 1 0 1-.4 1 .1 1 .4" fill="none" stroke="#000000" stroke-width="2.75" stroke-linejoin="round"/>
</g>
<rect x="138.6" y="48.2" width="874.0" height="807.2" fill="none" stroke="#000" stroke-width="1.45"/>
<line x1="132.7" y1="73.50" x2="138.6" y2="73.50" stroke="#000" stroke-width="1.35"/>
<line x1="1012.6" y1="73.50" x2="1018.5" y2="73.50" stroke="#000" stroke-width="1.35"/>
<line x1="132.7" y1="104.50" x2="138.6" y2="104.50" stroke="#000" stroke-width="1.35"/>
<line x1="1012.6" y1="104.50" x2="1018.5" y2="104.50" stroke="#000" stroke-width="1.35"/>
<line x1="132.7" y1="136.50" x2="138.6" y2="136.50" stroke="#000" stroke-width="1.35"/>
<line x1="1012.6" y1="136.50" x2="1018.5" y2="136.50" stroke="#000" stroke-width="1.35"/>
<line x1="132.7" y1="167.50" x2="138.6" y2="167.50" stroke="#000" stroke-width="1.35"/>
<line x1="1012.6" y1="167.50" x2="1018.5" y2="167.50" stroke="#000" stroke-width="1.35"/>
<line x1="132.7" y1="199.50" x2="138.6" y2="199.50" stroke="#000" stroke-width="1.35"/>
<line x1="1012.6" y1="199.50" x2="1018.5" y2="199.50" stroke="#000" stroke-width="1.35"/>
<line x1="132.7" y1="230.50" x2="138.6" y2="230.50" stroke="#000" stroke-width="1.35"/>
<line x1="1012.6" y1="230.50" x2="1018.5" y2="230.50" stroke="#000" stroke-width="1.35"/>
<line x1="132.7" y1="262.50" x2="138.6" y2="262.50" stroke="#000" stroke-width="1.35"/>
<line x1="1012.6" y1="262.50" x2="1018.5" y2="262.50" stroke="#000" stroke-width="1.35"/>
<line x1="132.7" y1="293.50" x2="138.6" y2="293.50" stroke="#000" stroke-width="1.35"/>
<line x1="1012.6" y1="293.50" x2="1018.5" y2="293.50" stroke="#000" stroke-width="1.35"/>
<line x1="132.7" y1="325.50" x2="138.6" y2="325.50" stroke="#000" stroke-width="1.35"/>
<line x1="1012.6" y1="325.50" x2="1018.5" y2="325.50" stroke="#000" stroke-width="1.35"/>
<line x1="132.7" y1="356.50" x2="138.6" y2="356.50" stroke="#000" stroke-width="1.35"/>
<line x1="1012.6" y1="356.50" x2="1018.5" y2="356.50" stroke="#000" stroke-width="1.35"/>
<line x1="132.7" y1="388.50" x2="138.6" y2="388.50" stroke="#000" stroke-width="1.35"/>
<line x1="1012.6" y1="388.50" x2="1018.5" y2="388.50" stroke="#000" stroke-width="1.35"/>
<line x1="132.7" y1="420.50" x2="138.6" y2="420.50" stroke="#000" stroke-width="1.35"/>
<line x1="1012.6" y1="420.50" x2="1018.5" y2="420.50" stroke="#000" stroke-width="1.35"/>
<line x1="132.7" y1="451.50" x2="138.6" y2="451.50" stroke="#000" stroke-width="1.35"/>
<line x1="1012.6" y1="451.50" x2="1018.5" y2="451.50" stroke="#000" stroke-width="1.35"/>
<line x1="132.7" y1="483.50" x2="138.6" y2="483.50" stroke="#000" stroke-width="1.35"/>
<line x1="1012.6" y1="483.50" x2="1018.5" y2="483.50" stroke="#000" stroke-width="1.35"/>
<line x1="132.7" y1="514.50" x2="138.6" y2="514.50" stroke="#000" stroke-width="1.35"/>
<line x1="1012.6" y1="514.50" x2="1018.5" y2="514.50" stroke="#000" stroke-width="1.35"/>
<line x1="132.7" y1="546.50" x2="138.6" y2="546.50" stroke="#000" stroke-width="1.35"/>
<line x1="1012.6" y1="546.50" x2="1018.5" y2="546.50" stroke="#000" stroke-width="1.35"/>
<line x1="132.7" y1="577.50" x2="138.6" y2="577.50" stroke="#000" stroke-width="1.35"/>
<line x1="1012.6" y1="577.50" x2="1018.5" y2="577.50" stroke="#000" stroke-width="1.35"/>
<line x1="132.7" y1="609.50" x2="138.6" y2="609.50" stroke="#000" stroke-width="1.35"/>
<line x1="1012.6" y1="609.50" x2="1018.5" y2="609.50" stroke="#000" stroke-width="1.35"/>
<line x1="132.7" y1="640.50" x2="138.6" y2="640.50" stroke="#000" stroke-width="1.35"/>
<line x1="1012.6" y1="640.50" x2="1018.5" y2="640.50" stroke="#000" stroke-width="1.35"/>
<line x1="132.7" y1="672.50" x2="138.6" y2="672.50" stroke="#000" stroke-width="1.35"/>
<line x1="1012.6" y1="672.50" x2="1018.5" y2="672.50" stroke="#000" stroke-width="1.35"/>
<line x1="132.7" y1="704.50" x2="138.6" y2="704.50" stroke="#000" stroke-width="1.35"/>
<line x1="1012.6" y1="704.50" x2="1018.5" y2="704.50" stroke="#000" stroke-width="1.35"/>
<line x1="132.7" y1="735.50" x2="138.6" y2="735.50" stroke="#000" stroke-width="1.35"/>
<line x1="1012.6" y1="735.50" x2="1018.5" y2="735.50" stroke="#000" stroke-width="1.35"/>
<line x1="132.7" y1="767.50" x2="138.6" y2="767.50" stroke="#000" stroke-width="1.35"/>
<line x1="1012.6" y1="767.50" x2="1018.5" y2="767.50" stroke="#000" stroke-width="1.35"/>
<line x1="132.7" y1="798.50" x2="138.6" y2="798.50" stroke="#000" stroke-width="1.35"/>
<line x1="1012.6" y1="798.50" x2="1018.5" y2="798.50" stroke="#000" stroke-width="1.35"/>
<line x1="132.7" y1="830.50" x2="138.6" y2="830.50" stroke="#000" stroke-width="1.35"/>
<line x1="1012.6" y1="830.50" x2="1018.5" y2="830.50" stroke="#000" stroke-width="1.35"/>
<line x1="138.50" y1="855.4" x2="138.50" y2="861.3" stroke="#000" stroke-width="1.35"/>
<line x1="357.50" y1="855.4" x2="357.50" y2="861.3" stroke="#000" stroke-width="1.35"/>
<line x1="575.50" y1="855.4" x2="575.50" y2="861.3" stroke="#000" stroke-width="1.35"/>
<line x1="794.50" y1="855.4" x2="794.50" y2="861.3" stroke="#000" stroke-width="1.35"/>
<line x1="1012.50" y1="855.4" x2="1012.50" y2="861.3" stroke="#000" stroke-width="1.35"/>
<text x="431.6" y="34.4" font-family="Liberation Sans, sans-serif" font-size="20.20" text-anchor="start" textLength="114.6" lengthAdjust="spacingAndGlyphs" fill="#000" stroke="#000" stroke-width="0.22" >2025-10-10</text>
<text x="555.5" y="34.4" font-family="Liberation Sans, sans-serif" font-size="20.20" text-anchor="start" textLength="162.8" lengthAdjust="spacingAndGlyphs" fill="#000" stroke="#000" stroke-width="0.22" >BK.BLUE.00.BHZ</text>
<text x="126.2" y="78.1" font-family="Liberation Sans, sans-serif" font-size="13.60" text-anchor="end" textLength="59.0" lengthAdjust="spacingAndGlyphs" fill="#000" stroke="#000" stroke-width="0.22" >07:00:00</text>
<text x="1025.3" y="78.1" font-family="Liberation Sans, sans-serif" font-size="13.60" text-anchor="start" textLength="58.0" lengthAdjust="spacingAndGlyphs" fill="#000" stroke="#000" stroke-width="0.22" >08:00:00</text>
<text x="126.2" y="109.1" font-family="Liberation Sans, sans-serif" font-size="13.60" text-anchor="end" textLength="59.0" lengthAdjust="spacingAndGlyphs" fill="#000" stroke="#000" stroke-width="0.22" >08:00:00</text>
<text x="1025.3" y="109.1" font-family="Liberation Sans, sans-serif" font-size="13.60" text-anchor="start" textLength="58.0" lengthAdjust="spacingAndGlyphs" fill="#000" stroke="#000" stroke-width="0.22" >09:00:00</text>
<text x="126.2" y="141.1" font-family="Liberation Sans, sans-serif" font-size="13.60" text-anchor="end" textLength="59.0" lengthAdjust="spacingAndGlyphs" fill="#000" stroke="#000" stroke-width="0.22" >09:00:00</text>
<text x="1025.3" y="141.1" font-family="Liberation Sans, sans-serif" font-size="13.60" text-anchor="start" textLength="58.0" lengthAdjust="spacingAndGlyphs" fill="#000" stroke="#000" stroke-width="0.22" >10:00:00</text>
<text x="126.2" y="172.1" font-family="Liberation Sans, sans-serif" font-size="13.60" text-anchor="end" textLength="59.0" lengthAdjust="spacingAndGlyphs" fill="#000" stroke="#000" stroke-width="0.22" >10:00:00</text>
<text x="1025.3" y="172.1" font-family="Liberation Sans, sans-serif" font-size="13.60" text-anchor="start" textLength="58.0" lengthAdjust="spacingAndGlyphs" fill="#000" stroke="#000" stroke-width="0.22" >11:00:00</text>
<text x="126.2" y="204.1" font-family="Liberation Sans, sans-serif" font-size="13.60" text-anchor="end" textLength="59.0" lengthAdjust="spacingAndGlyphs" fill="#000" stroke="#000" stroke-width="0.22" >11:00:00</text>
<text x="1025.3" y="204.1" font-family="Liberation Sans, sans-serif" font-size="13.60" text-anchor="start" textLength="58.0" lengthAdjust="spacingAndGlyphs" fill="#000" stroke="#000" stroke-width="0.22" >12:00:00</text>
<text x="126.2" y="235.1" font-family="Liberation Sans, sans-serif" font-size="13.60" text-anchor="end" textLength="59.0" lengthAdjust="spacingAndGlyphs" fill="#000" stroke="#000" stroke-width="0.22" >12:00:00</text>
<text x="1025.3" y="235.1" font-family="Liberation Sans, sans-serif" font-size="13.60" text-anchor="start" textLength="58.0" lengthAdjust="spacingAndGlyphs" fill="#000" stroke="#000" stroke-width="0.22" >13:00:00</text>
<text x="126.2" y="267.1" font-family="Liberation Sans, sans-serif" font-size="13.60" text-anchor="end" textLength="59.0" lengthAdjust="spacingAndGlyphs" fill="#000" stroke="#000" stroke-width="0.22" >13:00:00</text>
<text x="1025.3" y="267.1" font-family="Liberation Sans, sans-serif" font-size="13.60" text-anchor="start" textLength="58.0" lengthAdjust="spacingAndGlyphs" fill="#000" stroke="#000" stroke-width="0.22" >14:00:00</text>
<text x="126.2" y="298.1" font-family="Liberation Sans, sans-serif" font-size="13.60" text-anchor="end" textLength="59.0" lengthAdjust="spacingAndGlyphs" fill="#000" stroke="#000" stroke-width="0.22" >14:00:00</text>
<text x="1025.3" y="298.1" font-family="Liberation Sans, sans-serif" font-size="13.60" text-anchor="start" textLength="58.0" lengthAdjust="spacingAndGlyphs" fill="#000" stroke="#000" stroke-width="0.22" >15:00:00</text>
<text x="126.2" y="330.1" font-family="Liberation Sans, sans-serif" font-size="13.60" text-anchor="end" textLength="59.0" lengthAdjust="spacingAndGlyphs" fill="#000" stroke="#000" stroke-width="0.22" >15:00:00</text>
<text x="1025.3" y="330.1" font-family="Liberation Sans, sans-serif" font-size="13.60" text-anchor="start" textLength="58.0" lengthAdjust="spacingAndGlyphs" fill="#000" stroke="#000" stroke-width="0.22" >16:00:00</text>
<text x="126.2" y="361.1" font-family="Liberation Sans, sans-serif" font-size="13.60" text-anchor="end" textLength="59.0" lengthAdjust="spacingAndGlyphs" fill="#000" stroke="#000" stroke-width="0.22" >16:00:00</text>
<text x="1025.3" y="361.1" font-family="Liberation Sans, sans-serif" font-size="13.60" text-anchor="start" textLength="58.0" lengthAdjust="spacingAndGlyphs" fill="#000" stroke="#000" stroke-width="0.22" >17:00:00</text>
<text x="126.2" y="393.1" font-family="Liberation Sans, sans-serif" font-size="13.60" text-anchor="end" textLength="59.0" lengthAdjust="spacingAndGlyphs" fill="#000" stroke="#000" stroke-width="0.22" >17:00:00</text>
<text x="1025.3" y="393.1" font-family="Liberation Sans, sans-serif" font-size="13.60" text-anchor="start" textLength="58.0" lengthAdjust="spacingAndGlyphs" fill="#000" stroke="#000" stroke-width="0.22" >18:00:00</text>
<text x="126.2" y="425.1" font-family="Liberation Sans, sans-serif" font-size="13.60" text-anchor="end" textLength="59.0" lengthAdjust="spacingAndGlyphs" fill="#000" stroke="#000" stroke-width="0.22" >18:00:00</text>
<text x="1025.3" y="425.1" font-family="Liberation Sans, sans-serif" font-size="13.60" text-anchor="start" textLength="58.0" lengthAdjust="spacingAndGlyphs" fill="#000" stroke="#000" stroke-width="0.22" >19:00:00</text>
<text x="126.2" y="456.1" font-family="Liberation Sans, sans-serif" font-size="13.60" text-anchor="end" textLength="59.0" lengthAdjust="spacingAndGlyphs" fill="#000" stroke="#000" stroke-width="0.22" >19:00:00</text>
<text x="1025.3" y="456.1" font-family="Liberation Sans, sans-serif" font-size="13.60" text-anchor="start" textLength="58.0" lengthAdjust="spacingAndGlyphs" fill="#000" stroke="#000" stroke-width="0.22" >20:00:00</text>
<text x="126.2" y="488.1" font-family="Liberation Sans, sans-serif" font-size="13.60" text-anchor="end" textLength="59.0" lengthAdjust="spacingAndGlyphs" fill="#000" stroke="#000" stroke-width="0.22" >20:00:00</text>
<text x="1025.3" y="488.1" font-family="Liberation Sans, sans-serif" font-size="13.60" text-anchor="start" textLength="58.0" lengthAdjust="spacingAndGlyphs" fill="#000" stroke="#000" stroke-width="0.22" >21:00:00</text>
<text x="126.2" y="519.1" font-family="Liberation Sans, sans-serif" font-size="13.60" text-anchor="end" textLength="59.0" lengthAdjust="spacingAndGlyphs" fill="#000" stroke="#000" stroke-width="0.22" >21:00:00</text>
<text x="1025.3" y="519.1" font-family="Liberation Sans, sans-serif" font-size="13.60" text-anchor="start" textLength="58.0" lengthAdjust="spacingAndGlyphs" fill="#000" stroke="#000" stroke-width="0.22" >22:00:00</text>
<text x="126.2" y="551.1" font-family="Liberation Sans, sans-serif" font-size="13.60" text-anchor="end" textLength="59.0" lengthAdjust="spacingAndGlyphs" fill="#000" stroke="#000" stroke-width="0.22" >22:00:00</text>
<text x="1025.3" y="551.1" font-family="Liberation Sans, sans-serif" font-size="13.60" text-anchor="start" textLength="58.0" lengthAdjust="spacingAndGlyphs" fill="#000" stroke="#000" stroke-width="0.22" >23:00:00</text>
<text x="126.2" y="582.1" font-family="Liberation Sans, sans-serif" font-size="13.60" text-anchor="end" textLength="59.0" lengthAdjust="spacingAndGlyphs" fill="#000" stroke="#000" stroke-width="0.22" >23:00:00</text>
<text x="1025.3" y="582.1" font-family="Liberation Sans, sans-serif" font-size="13.60" text-anchor="start" textLength="58.0" lengthAdjust="spacingAndGlyphs" fill="#000" stroke="#000" stroke-width="0.22" >00:00:00</text>
<text x="126.2" y="614.1" font-family="Liberation Sans, sans-serif" font-size="13.60" text-anchor="end" textLength="59.0" lengthAdjust="spacingAndGlyphs" fill="#000" stroke="#000" stroke-width="0.22" >00:00:00</text>
<text x="1025.3" y="614.1" font-family="Liberation Sans, sans-serif" font-size="13.60" text-anchor="start" textLength="58.0" lengthAdjust="spacingAndGlyphs" fill="#000" stroke="#000" stroke-width="0.22" >01:00:00</text>
<text x="126.2" y="645.1" font-family="Liberation Sans, sans-serif" font-size="13.60" text-anchor="end" textLength="59.0" lengthAdjust="spacingAndGlyphs" fill="#000" stroke="#000" stroke-width="0.22" >01:00:00</text>
<text x="1025.3" y="645.1" font-family="Liberation Sans, sans-serif" font-size="13.60" text-anchor="start" textLength="58.0" lengthAdjust="spacingAndGlyphs" fill="#000" stroke="#000" stroke-width="0.22" >02:00:00</text>
<text x="126.2" y="677.1" font-family="Liberation Sans, sans-serif" font-size="13.60" text-anchor="end" textLength="59.0" lengthAdjust="spacingAndGlyphs" fill="#000" stroke="#000" stroke-width="0.22" >02:00:00</text>
<text x="1025.3" y="677.1" font-family="Liberation Sans, sans-serif" font-size="13.60" text-anchor="start" textLength="58.0" lengthAdjust="spacingAndGlyphs" fill="#000" stroke="#000" stroke-width="0.22" >03:00:00</text>
<text x="126.2" y="709.1" font-family="Liberation Sans, sans-serif" font-size="13.60" text-anchor="end" textLength="59.0" lengthAdjust="spacingAndGlyphs" fill="#000" stroke="#000" stroke-width="0.22" >03:00:00</text>
<text x="1025.3" y="709.1" font-family="Liberation Sans, sans-serif" font-size="13.60" text-anchor="start" textLength="58.0" lengthAdjust="spacingAndGlyphs" fill="#000" stroke="#000" stroke-width="0.22" >04:00:00</text>
<text x="126.2" y="740.1" font-family="Liberation Sans, sans-serif" font-size="13.60" text-anchor="end" textLength="59.0" lengthAdjust="spacingAndGlyphs" fill="#000" stroke="#000" stroke-width="0.22" >04:00:00</text>
<text x="1025.3" y="740.1" font-family="Liberation Sans, sans-serif" font-size="13.60" text-anchor="start" textLength="58.0" lengthAdjust="spacingAndGlyphs" fill="#000" stroke="#000" stroke-width="0.22" >05:00:00</text>
<text x="126.2" y="772.1" font-family="Liberation Sans, sans-serif" font-size="13.60" text-anchor="end" textLength="59.0" lengthAdjust="spacingAndGlyphs" fill="#000" stroke="#000" stroke-width="0.22" >05:00:00</text>
<text x="1025.3" y="772.1" font-family="Liberation Sans, sans-serif" font-size="13.60" text-anchor="start" textLength="58.0" lengthAdjust="spacingAndGlyphs" fill="#000" stroke="#000" stroke-width="0.22" >06:00:00</text>
<text x="126.2" y="803.1" font-family="Liberation Sans, sans-serif" font-size="13.60" text-anchor="end" textLength="59.0" lengthAdjust="spacingAndGlyphs" fill="#000" stroke="#000" stroke-width="0.22" >06:00:00</text>
<text x="1025.3" y="803.1" font-family="Liberation Sans, sans-serif" font-size="13.60" text-anchor="start" textLength="58.0" lengthAdjust="spacingAndGlyphs" fill="#000" stroke="#000" stroke-width="0.22" >07:00:00</text>
<text x="126.2" y="835.1" font-family="Liberation Sans, sans-serif" font-size="13.60" text-anchor="end" textLength="59.0" lengthAdjust="spacingAndGlyphs" fill="#000" stroke="#000" stroke-width="0.22" >07:00:00</text>
<text x="1025.3" y="835.1" font-family="Liberation Sans, sans-serif" font-size="13.60" text-anchor="start" textLength="58.0" lengthAdjust="spacingAndGlyphs" fill="#000" stroke="#000" stroke-width="0.22" >08:00:00</text>
<text x="138.6" y="877.0" font-family="Liberation Sans, sans-serif" font-size="13.60" text-anchor="middle" textLength="8.2" lengthAdjust="spacingAndGlyphs" fill="#000" stroke="#000" stroke-width="0.22" >0</text>
<text x="357.1" y="877.0" font-family="Liberation Sans, sans-serif" font-size="13.60" text-anchor="middle" textLength="16.0" lengthAdjust="spacingAndGlyphs" fill="#000" stroke="#000" stroke-width="0.22" >15</text>
<text x="575.6" y="877.0" font-family="Liberation Sans, sans-serif" font-size="13.60" text-anchor="middle" textLength="16.0" lengthAdjust="spacingAndGlyphs" fill="#000" stroke="#000" stroke-width="0.22" >30</text>
<text x="794.1" y="877.0" font-family="Liberation Sans, sans-serif" font-size="13.60" text-anchor="middle" textLength="16.0" lengthAdjust="spacingAndGlyphs" fill="#000" stroke="#000" stroke-width="0.22" >45</text>
<text x="1012.6" y="877.0" font-family="Liberation Sans, sans-serif" font-size="13.60" text-anchor="middle" textLength="16.0" lengthAdjust="spacingAndGlyphs" fill="#000" stroke="#000" stroke-width="0.22" >60</text>
<text x="522.3" y="895.6" font-family="Liberation Sans, sans-serif" font-size="13.40" text-anchor="start" textLength="28.4" lengthAdjust="spacingAndGlyphs" fill="#000" stroke="#000" stroke-width="0.22" >time</text>
<text x="557.6" y="895.6" font-family="Liberation Sans, sans-serif" font-size="13.40" text-anchor="start" textLength="10.6" lengthAdjust="spacingAndGlyphs" fill="#000" stroke="#000" stroke-width="0.22" >in</text>
<text x="573.8" y="895.6" font-family="Liberation Sans, sans-serif" font-size="13.40" text-anchor="start" textLength="53.4" lengthAdjust="spacingAndGlyphs" fill="#000" stroke="#000" stroke-width="0.22" >minutes</text>
<text transform="translate(53.8,578.0) rotate(-90)" font-family="Liberation Sans, sans-serif" font-size="17.2" text-anchor="start" textLength="30.2" lengthAdjust="spacingAndGlyphs" fill="#000" stroke="#000" stroke-width="0.25">UTC</text>
<text transform="translate(53.8,541.8) rotate(-90)" font-family="Liberation Sans, sans-serif" font-size="17.2" text-anchor="start" textLength="46.6" lengthAdjust="spacingAndGlyphs" fill="#000" stroke="#000" stroke-width="0.25">(local</text>
<text transform="translate(53.8,489.2) rotate(-90)" font-family="Liberation Sans, sans-serif" font-size="17.2" text-anchor="start" textLength="35.9" lengthAdjust="spacingAndGlyphs" fill="#000" stroke="#000" stroke-width="0.25">time</text>
<text transform="translate(53.8,446.1) rotate(-90)" font-family="Liberation Sans, sans-serif" font-size="17.2" text-anchor="start" textLength="9.9" lengthAdjust="spacingAndGlyphs" fill="#000" stroke="#000" stroke-width="0.25">=</text>
<text transform="translate(53.8,428.1) rotate(-90)" font-family="Liberation Sans, sans-serif" font-size="17.2" text-anchor="start" textLength="29.5" lengthAdjust="spacingAndGlyphs" fill="#000" stroke="#000" stroke-width="0.25">UTC</text>
<text transform="translate(53.8,391.4) rotate(-90)" font-family="Liberation Sans, sans-serif" font-size="17.2" text-anchor="start" textLength="4.9" lengthAdjust="spacingAndGlyphs" fill="#000" stroke="#000" stroke-width="0.25">-</text>
<text transform="translate(53.8,376.9) rotate(-90)" font-family="Liberation Sans, sans-serif" font-size="17.2" text-anchor="start" textLength="52.2" lengthAdjust="spacingAndGlyphs" fill="#000" stroke="#000" stroke-width="0.25">07:00)</text>
</svg>
</body></html>
